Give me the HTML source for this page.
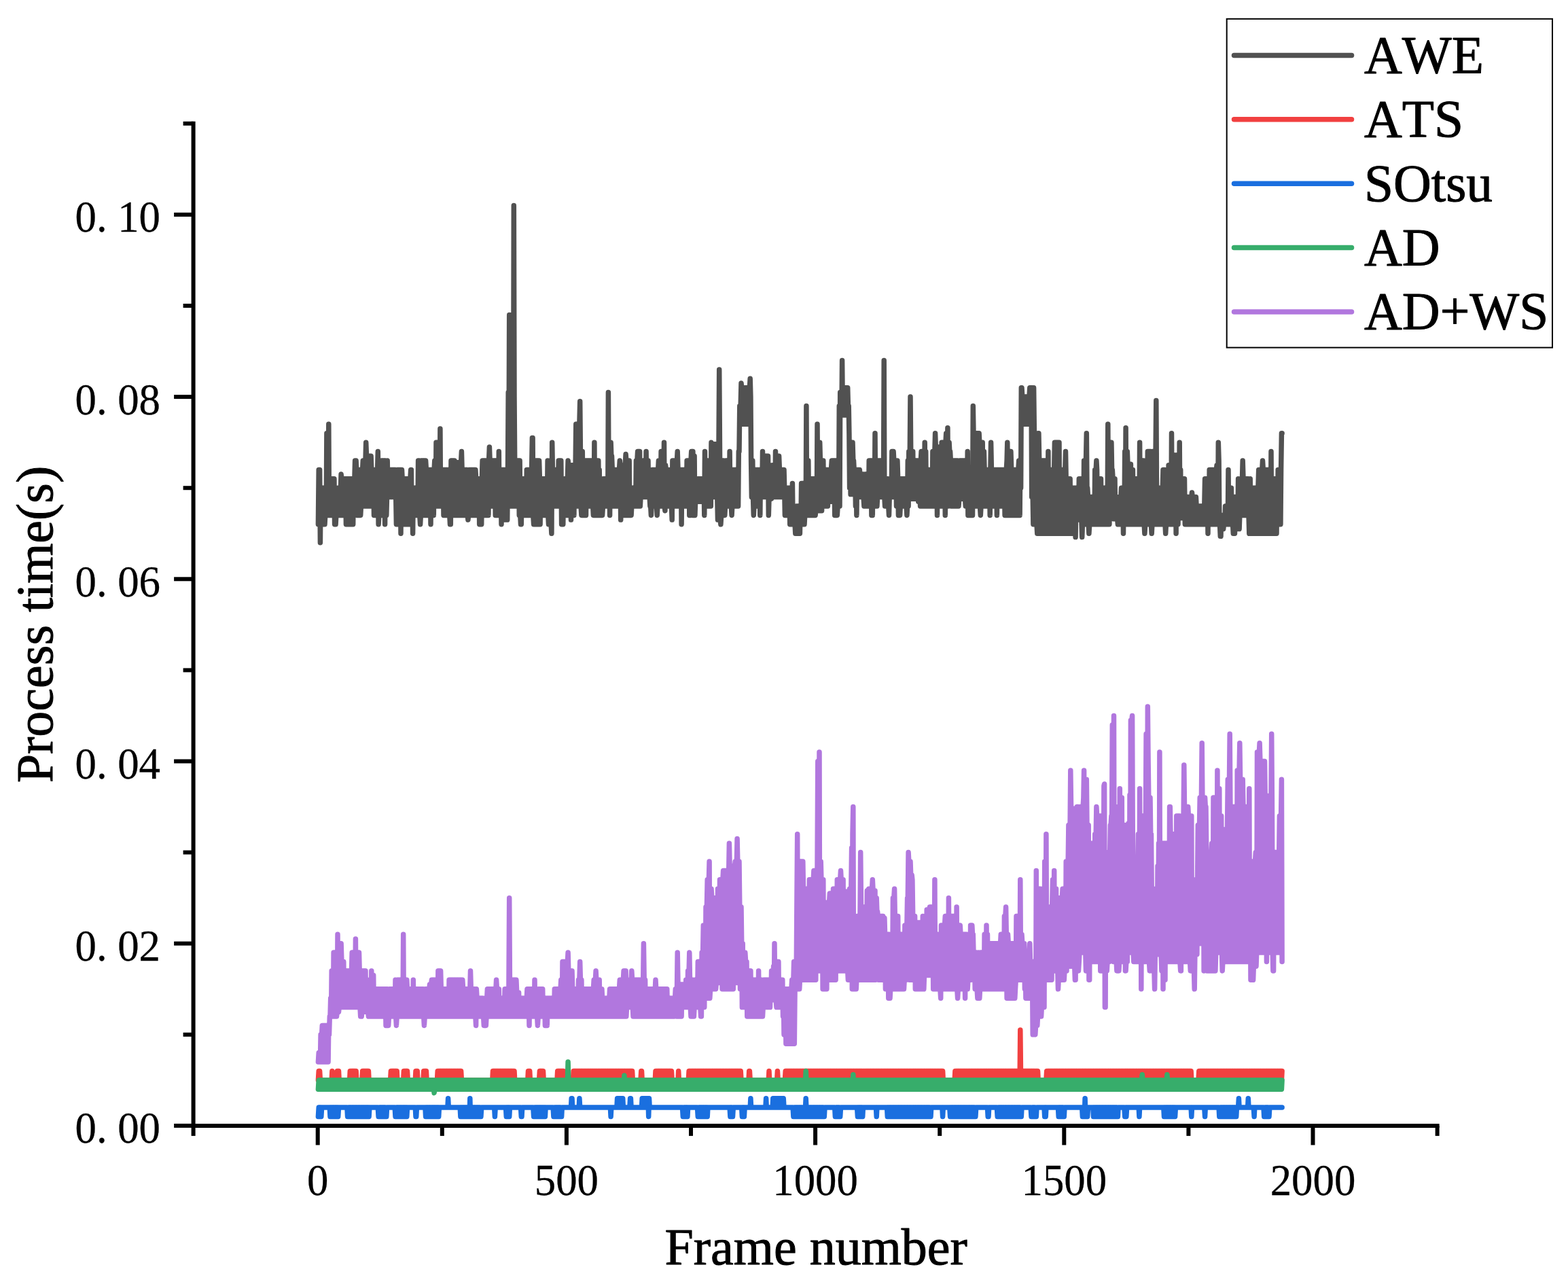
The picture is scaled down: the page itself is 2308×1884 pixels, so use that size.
<!DOCTYPE html>
<html lang="en"><head><meta charset="utf-8"><title>Process time per frame</title>
<style>
html,body{margin:0;padding:0;background:#fff;}
body{width:2308px;height:1884px;overflow:hidden;}
svg{display:block;}
text{font-family:"Liberation Serif","Times New Roman",serif;fill:#000;font-kerning:none;}
.tk{font-size:65px;stroke:#000;stroke-width:0.3px;}
.ti{font-size:76px;stroke:#000;stroke-width:1px;stroke-linejoin:round;}
.lg{font-size:77.3px;stroke:#000;stroke-width:1px;stroke-linejoin:round;}
</style></head><body>
<svg width="2308" height="1884" viewBox="0 0 2308 1884">
<rect width="2308" height="1884" fill="#fff"/>
<g id="series">
<polyline fill="none" stroke="#515151" stroke-width="7.5" stroke-linejoin="round" stroke-linecap="round" points="468.4,771.8 469.2,691.4 469.9,771.8 470.6,691.4 471.4,798.7 472.1,718.2 472.8,771.8 473.6,718.2 474.3,771.8 475.0,718.2 475.8,771.8 476.5,718.2 477.2,771.8 478.0,771.8 478.7,758.4 479.4,718.2 480.2,758.4 480.9,637.7 481.6,758.4 482.3,637.7 483.1,758.4 483.8,624.3 484.5,758.4 485.3,704.8 486.0,758.4 486.7,704.8 487.5,758.4 488.2,704.8 488.9,758.4 489.7,704.8 490.4,758.4 491.1,704.8 491.9,704.8 492.6,771.8 493.3,771.8 494.1,771.8 494.8,758.4 495.5,718.2 496.3,758.4 497.0,718.2 497.7,758.4 498.5,718.2 499.2,758.4 499.9,718.2 500.7,758.4 501.4,718.2 502.1,698.1 502.9,704.8 503.6,758.4 504.3,704.8 505.1,758.4 505.8,704.8 506.5,758.4 507.2,704.8 508.0,758.4 508.7,704.8 509.4,771.8 510.2,704.8 510.9,771.8 511.6,704.8 512.4,771.8 513.1,704.8 513.8,771.8 514.6,704.8 515.3,771.8 516.0,704.8 516.8,771.8 517.5,704.8 518.2,771.8 519.0,704.8 519.7,771.8 520.4,704.8 521.2,758.4 521.9,704.8 522.6,678.0 523.4,678.0 524.1,678.0 524.8,691.4 525.6,758.4 526.3,691.4 527.0,758.4 527.8,691.4 528.5,758.4 529.2,691.4 530.0,758.4 530.7,758.4 531.4,745.0 532.2,691.4 532.9,745.0 533.6,691.4 534.3,678.0 535.1,678.0 535.8,745.0 536.5,678.0 537.3,745.0 538.0,678.0 538.7,651.2 539.5,671.3 540.2,745.0 540.9,671.3 541.7,745.0 542.4,671.3 543.1,745.0 543.9,671.3 544.6,745.0 545.3,671.3 546.1,671.3 546.8,691.4 547.5,745.0 548.3,691.4 549.0,745.0 549.7,691.4 550.5,758.4 551.2,691.4 551.9,758.4 552.7,691.4 553.4,758.4 554.1,691.4 554.9,758.4 555.6,691.4 556.3,664.6 557.1,771.8 557.8,758.4 558.5,678.0 559.2,758.4 560.0,678.0 560.7,758.4 561.4,678.0 562.2,758.4 562.9,678.0 563.6,758.4 564.4,678.0 565.1,758.4 565.8,678.0 566.6,771.8 567.3,678.0 568.0,758.4 568.8,758.4 569.5,731.6 570.2,678.0 571.0,731.6 571.7,691.4 572.4,731.6 573.2,691.4 573.9,731.6 574.6,691.4 575.4,731.6 576.1,691.4 576.8,731.6 577.6,691.4 578.3,731.6 579.0,691.4 579.8,731.6 580.5,691.4 581.2,731.6 582.0,691.4 582.7,731.6 583.4,771.8 584.2,771.8 584.9,691.4 585.6,771.8 586.3,691.4 587.1,771.8 587.8,691.4 588.5,771.8 589.3,691.4 590.0,785.3 590.7,691.4 591.5,691.4 592.2,704.8 592.9,771.8 593.7,704.8 594.4,771.8 595.1,704.8 595.9,771.8 596.6,704.8 597.3,771.8 598.1,704.8 598.8,771.8 599.5,704.8 600.3,771.8 601.0,704.8 601.7,771.8 602.5,704.8 603.2,771.8 603.9,704.8 604.7,691.4 605.4,691.4 606.1,771.8 606.9,718.2 607.6,785.3 608.3,718.2 609.1,758.4 609.8,718.2 610.5,758.4 611.3,718.2 612.0,758.4 612.7,718.2 613.4,758.4 614.2,718.2 614.9,758.4 615.6,678.0 616.4,758.4 617.1,678.0 617.8,758.4 618.6,771.8 619.3,758.4 620.0,678.0 620.8,758.4 621.5,678.0 622.2,758.4 623.0,678.0 623.7,758.4 624.4,678.0 625.2,758.4 625.9,678.0 626.6,678.0 627.4,691.4 628.1,758.4 628.8,691.4 629.6,758.4 630.3,691.4 631.0,758.4 631.8,691.4 632.5,758.4 633.2,691.4 634.0,771.8 634.7,691.4 635.4,758.4 636.2,691.4 636.9,758.4 637.6,691.4 638.3,758.4 639.1,691.4 639.8,678.0 640.5,678.0 641.3,745.0 642.0,651.2 642.7,745.0 643.5,651.2 644.2,745.0 644.9,651.2 645.7,745.0 646.4,651.2 647.1,745.0 647.9,631.0 648.6,745.0 649.3,691.4 650.1,745.0 650.8,691.4 651.5,745.0 652.3,691.4 653.0,758.4 653.7,691.4 654.5,758.4 655.2,691.4 655.9,758.4 656.7,691.4 657.4,758.4 658.1,691.4 658.9,758.4 659.6,691.4 660.3,758.4 661.1,691.4 661.8,758.4 662.5,771.8 663.3,771.8 664.0,678.0 664.7,758.4 665.4,678.0 666.2,758.4 666.9,678.0 667.6,758.4 668.4,678.0 669.1,678.0 669.8,680.7 670.6,758.4 671.3,680.7 672.0,758.4 672.8,680.7 673.5,758.4 674.2,680.7 675.0,758.4 675.7,680.7 676.4,758.4 677.2,680.7 677.9,758.4 678.6,680.7 679.4,664.6 680.1,691.4 680.8,758.4 681.6,691.4 682.3,758.4 683.0,691.4 683.8,758.4 684.5,691.4 685.2,758.4 686.0,691.4 686.7,758.4 687.4,691.4 688.2,758.4 688.9,765.1 689.6,758.4 690.3,691.4 691.1,758.4 691.8,691.4 692.5,758.4 693.3,691.4 694.0,758.4 694.7,691.4 695.5,758.4 696.2,691.4 696.9,758.4 697.7,691.4 698.4,758.4 699.1,691.4 699.9,691.4 700.6,704.8 701.3,758.4 702.1,704.8 702.8,758.4 703.5,704.8 704.3,758.4 705.0,704.8 705.7,771.8 706.5,704.8 707.2,771.8 707.9,704.8 708.7,771.8 709.4,704.8 710.1,678.0 710.9,678.0 711.6,758.4 712.3,678.0 713.1,758.4 713.8,678.0 714.5,758.4 715.3,678.0 716.0,758.4 716.7,678.0 717.4,758.4 718.2,678.0 718.9,758.4 719.6,678.0 720.4,657.9 721.1,678.0 721.8,745.0 722.6,678.0 723.3,745.0 724.0,678.0 724.8,745.0 725.5,678.0 726.2,745.0 727.0,678.0 727.7,745.0 728.4,678.0 729.2,758.4 729.9,678.0 730.6,758.4 731.4,678.0 732.1,758.4 732.8,678.0 733.6,758.4 734.3,664.6 735.0,758.4 735.8,691.4 736.5,758.4 737.2,691.4 738.0,771.8 738.7,691.4 739.4,765.1 740.2,691.4 740.9,765.1 741.6,691.4 742.3,765.1 743.1,691.4 743.8,765.1 744.5,691.4 745.3,765.1 746.0,691.4 746.7,765.1 747.5,691.4 748.2,577.4 748.9,691.4 749.7,463.4 750.4,584.1 751.1,745.0 751.9,584.1 752.6,463.4 753.3,584.1 754.1,745.0 754.8,584.1 755.5,745.0 756.3,302.5 757.0,584.1 757.7,678.0 758.5,745.0 759.2,678.0 759.9,745.0 760.7,678.0 761.4,745.0 762.1,678.0 762.9,745.0 763.6,678.0 764.3,758.4 765.1,678.0 765.8,758.4 766.5,771.8 767.3,771.8 768.0,704.8 768.7,758.4 769.4,704.8 770.2,758.4 770.9,704.8 771.6,758.4 772.4,704.8 773.1,758.4 773.8,704.8 774.6,758.4 775.3,691.4 776.0,758.4 776.8,691.4 777.5,758.4 778.2,691.4 779.0,758.4 779.7,691.4 780.4,758.4 781.2,691.4 781.9,758.4 782.6,691.4 783.4,644.4 784.1,644.4 784.8,758.4 785.6,771.8 786.3,771.8 787.0,678.0 787.8,771.8 788.5,678.0 789.2,771.8 790.0,678.0 790.7,771.8 791.4,678.0 792.2,771.8 792.9,678.0 793.6,678.0 794.4,704.8 795.1,771.8 795.8,704.8 796.5,758.4 797.3,704.8 798.0,758.4 798.7,704.8 799.5,758.4 800.2,704.8 800.9,758.4 801.7,704.8 802.4,758.4 803.1,704.8 803.9,758.4 804.6,704.8 805.3,758.4 806.1,678.0 806.8,758.4 807.5,771.8 808.3,771.8 809.0,678.0 809.7,771.8 810.5,678.0 811.2,771.8 811.9,785.3 812.7,651.2 813.4,691.4 814.1,745.0 814.9,691.4 815.6,745.0 816.3,691.4 817.1,745.0 817.8,691.4 818.5,745.0 819.3,691.4 820.0,745.0 820.7,691.4 821.4,745.0 822.2,678.0 822.9,745.0 823.6,678.0 824.4,745.0 825.1,678.0 825.8,678.0 826.6,771.8 827.3,771.8 828.0,704.8 828.8,771.8 829.5,704.8 830.2,758.4 831.0,704.8 831.7,758.4 832.4,704.8 833.2,758.4 833.9,704.8 834.6,758.4 835.4,704.8 836.1,678.0 836.8,684.7 837.6,758.4 838.3,684.7 839.0,758.4 839.8,684.7 840.5,765.1 841.2,684.7 842.0,758.4 842.7,684.7 843.4,758.4 844.2,684.7 844.9,758.4 845.6,684.7 846.4,745.0 847.1,684.7 847.8,624.3 848.5,624.3 849.3,745.0 850.0,624.3 850.7,745.0 851.5,624.3 852.2,745.0 852.9,624.3 853.7,590.8 854.4,664.6 855.1,745.0 855.9,758.4 856.6,758.4 857.3,664.6 858.1,758.4 858.8,678.0 859.5,758.4 860.3,678.0 861.0,758.4 861.7,678.0 862.5,758.4 863.2,678.0 863.9,745.0 864.7,678.0 865.4,745.0 866.1,678.0 866.9,745.0 867.6,678.0 868.3,745.0 869.1,678.0 869.8,745.0 870.5,678.0 871.3,745.0 872.0,678.0 872.7,745.0 873.4,758.4 874.2,758.4 874.9,651.2 875.6,758.4 876.4,678.0 877.1,758.4 877.8,678.0 878.6,758.4 879.3,678.0 880.0,758.4 880.8,678.0 881.5,758.4 882.2,691.4 883.0,758.4 883.7,704.8 884.4,758.4 885.2,704.8 885.9,758.4 886.6,758.4 887.4,745.0 888.1,704.8 888.8,745.0 889.6,704.8 890.3,745.0 891.0,704.8 891.8,745.0 892.5,704.8 893.2,745.0 894.0,704.8 894.7,745.0 895.4,577.4 896.2,745.0 896.9,651.2 897.6,758.4 898.4,651.2 899.1,651.2 899.8,671.3 900.5,671.3 901.3,691.4 902.0,745.0 902.7,691.4 903.5,745.0 904.2,691.4 904.9,745.0 905.7,691.4 906.4,745.0 907.1,691.4 907.9,745.0 908.6,691.4 909.3,745.0 910.1,691.4 910.8,745.0 911.5,691.4 912.3,678.0 913.0,684.7 913.7,765.1 914.5,684.7 915.2,758.4 915.9,684.7 916.7,758.4 917.4,684.7 918.1,758.4 918.9,684.7 919.6,758.4 920.3,684.7 921.1,668.6 921.8,678.0 922.5,758.4 923.3,678.0 924.0,758.4 924.7,678.0 925.4,758.4 926.2,678.0 926.9,758.4 927.6,718.2 928.4,758.4 929.1,758.4 929.8,745.0 930.6,718.2 931.3,745.0 932.0,718.2 932.8,745.0 933.5,718.2 934.2,745.0 935.0,718.2 935.7,745.0 936.4,678.0 937.2,745.0 937.9,678.0 938.6,664.6 939.4,664.6 940.1,745.0 940.8,664.6 941.6,664.6 942.3,745.0 943.0,731.6 943.8,678.0 944.5,731.6 945.2,678.0 946.0,731.6 946.7,678.0 947.4,731.6 948.2,678.0 948.9,731.6 949.6,678.0 950.4,731.6 951.1,664.6 951.8,731.6 952.5,678.0 953.3,731.6 954.0,678.0 954.7,731.6 955.5,691.4 956.2,731.6 956.9,745.0 957.7,745.0 958.4,758.4 959.1,745.0 959.9,691.4 960.6,745.0 961.3,691.4 962.1,745.0 962.8,691.4 963.5,745.0 964.3,691.4 965.0,745.0 965.7,691.4 966.5,745.0 967.2,758.4 967.9,745.0 968.7,691.4 969.4,678.0 970.1,678.0 970.9,745.0 971.6,678.0 972.3,745.0 973.1,664.6 973.8,745.0 974.5,664.6 975.3,745.0 976.0,664.6 976.7,745.0 977.5,651.2 978.2,745.0 978.9,751.7 979.6,684.7 980.4,691.4 981.1,745.0 981.8,691.4 982.6,745.0 983.3,691.4 984.0,745.0 984.8,691.4 985.5,745.0 986.2,691.4 987.0,745.0 987.7,691.4 988.4,745.0 989.2,765.1 989.9,678.0 990.6,678.0 991.4,745.0 992.1,678.0 992.8,745.0 993.6,678.0 994.3,745.0 995.0,678.0 995.8,745.0 996.5,678.0 997.2,664.6 998.0,691.4 998.7,745.0 999.4,691.4 1000.2,745.0 1000.9,691.4 1001.6,745.0 1002.4,691.4 1003.1,771.8 1003.8,691.4 1004.5,745.0 1005.3,691.4 1006.0,745.0 1006.7,691.4 1007.5,745.0 1008.2,691.4 1008.9,745.0 1009.7,691.4 1010.4,745.0 1011.1,678.0 1011.9,745.0 1012.6,678.0 1013.3,745.0 1014.1,678.0 1014.8,758.4 1015.5,678.0 1016.3,758.4 1017.0,678.0 1017.7,664.6 1018.5,664.6 1019.2,758.4 1019.9,664.6 1020.7,758.4 1021.4,671.3 1022.1,671.3 1022.9,758.4 1023.6,738.3 1024.3,704.8 1025.1,738.3 1025.8,704.8 1026.5,738.3 1027.3,704.8 1028.0,738.3 1028.7,704.8 1029.5,738.3 1030.2,704.8 1030.9,738.3 1031.6,704.8 1032.4,738.3 1033.1,704.8 1033.8,738.3 1034.6,704.8 1035.3,738.3 1036.0,704.8 1036.8,758.4 1037.5,664.6 1038.2,745.0 1039.0,678.0 1039.7,745.0 1040.4,678.0 1041.2,745.0 1041.9,678.0 1042.6,745.0 1043.4,678.0 1044.1,745.0 1044.8,678.0 1045.6,745.0 1046.3,745.0 1047.0,651.2 1047.8,653.8 1048.5,731.6 1049.2,653.8 1050.0,731.6 1050.7,653.8 1051.4,731.6 1052.2,653.8 1052.9,731.6 1053.6,653.8 1054.4,731.6 1055.1,653.8 1055.8,731.6 1056.5,765.1 1057.3,765.1 1058.0,653.8 1058.7,543.9 1059.5,664.6 1060.2,765.1 1060.9,771.8 1061.7,758.4 1062.4,678.0 1063.1,758.4 1063.9,678.0 1064.6,758.4 1065.3,678.0 1066.1,758.4 1066.8,758.4 1067.5,745.0 1068.3,678.0 1069.0,745.0 1069.7,678.0 1070.5,745.0 1071.2,678.0 1071.9,745.0 1072.7,678.0 1073.4,745.0 1074.1,664.6 1074.9,745.0 1075.6,691.4 1076.3,745.0 1077.1,758.4 1077.8,745.0 1078.5,691.4 1079.3,745.0 1080.0,691.4 1080.7,745.0 1081.5,691.4 1082.2,745.0 1082.9,691.4 1083.6,745.0 1084.4,691.4 1085.1,745.0 1085.8,691.4 1086.6,745.0 1087.3,664.6 1088.0,664.6 1088.8,597.5 1089.5,624.3 1090.2,597.5 1091.0,564.0 1091.7,570.7 1092.4,624.3 1093.2,570.7 1093.9,624.3 1094.6,570.7 1095.4,624.3 1096.1,570.7 1096.8,624.3 1097.6,570.7 1098.3,624.3 1099.0,570.7 1099.8,624.3 1100.5,570.7 1101.2,624.3 1102.0,570.7 1102.7,624.3 1103.4,570.7 1104.2,557.3 1104.9,584.1 1105.6,678.0 1106.4,731.6 1107.1,731.6 1107.8,678.0 1108.5,731.6 1109.3,758.4 1110.0,745.0 1110.7,691.4 1111.5,745.0 1112.2,691.4 1112.9,745.0 1113.7,691.4 1114.4,745.0 1115.1,691.4 1115.9,745.0 1116.6,691.4 1117.3,745.0 1118.1,691.4 1118.8,758.4 1119.5,691.4 1120.3,731.6 1121.0,691.4 1121.7,731.6 1122.5,664.6 1123.2,731.6 1123.9,671.3 1124.7,731.6 1125.4,671.3 1126.1,731.6 1126.9,671.3 1127.6,731.6 1128.3,671.3 1129.1,731.6 1129.8,671.3 1130.5,671.3 1131.3,758.4 1132.0,734.3 1132.7,684.7 1133.5,734.3 1134.2,684.7 1134.9,734.3 1135.6,734.3 1136.4,731.6 1137.1,684.7 1137.8,731.6 1138.6,684.7 1139.3,731.6 1140.0,684.7 1140.8,731.6 1141.5,664.6 1142.2,731.6 1143.0,671.3 1143.7,731.6 1144.4,671.3 1145.2,731.6 1145.9,671.3 1146.6,671.3 1147.4,691.4 1148.1,731.6 1148.8,691.4 1149.6,731.6 1150.3,691.4 1151.0,731.6 1151.8,691.4 1152.5,731.6 1153.2,691.4 1154.0,691.4 1154.7,718.2 1155.4,758.4 1156.2,718.2 1156.9,758.4 1157.6,718.2 1158.4,758.4 1159.1,718.2 1159.8,758.4 1160.6,718.2 1161.3,758.4 1162.0,718.2 1162.7,771.8 1163.5,718.2 1164.2,771.8 1164.9,718.2 1165.7,771.8 1166.4,711.5 1167.1,771.8 1167.9,745.0 1168.6,771.8 1169.3,745.0 1170.1,771.8 1170.8,785.3 1171.5,785.3 1172.3,745.0 1173.0,785.3 1173.7,745.0 1174.5,785.3 1175.2,745.0 1175.9,785.3 1176.7,745.0 1177.4,785.3 1178.1,745.0 1178.9,771.8 1179.6,711.5 1180.3,771.8 1181.1,711.5 1181.8,771.8 1182.5,711.5 1183.3,771.8 1184.0,771.8 1184.7,758.4 1185.5,711.5 1186.2,758.4 1186.9,597.5 1187.6,758.4 1188.4,678.0 1189.1,758.4 1189.8,678.0 1190.6,758.4 1191.3,704.8 1192.0,758.4 1192.8,704.8 1193.5,758.4 1194.2,704.8 1195.0,758.4 1195.7,704.8 1196.4,758.4 1197.2,704.8 1197.9,758.4 1198.6,704.8 1199.4,758.4 1200.1,758.4 1200.8,751.7 1201.6,704.8 1202.3,751.7 1203.0,624.3 1203.8,751.7 1204.5,651.2 1205.2,751.7 1206.0,651.2 1206.7,651.2 1207.4,678.0 1208.2,751.7 1208.9,678.0 1209.6,751.7 1210.4,678.0 1211.1,745.0 1211.8,678.0 1212.6,745.0 1213.3,691.4 1214.0,745.0 1214.7,691.4 1215.5,745.0 1216.2,691.4 1216.9,745.0 1217.7,691.4 1218.4,745.0 1219.1,691.4 1219.9,738.3 1220.6,691.4 1221.3,738.3 1222.1,691.4 1222.8,738.3 1223.5,691.4 1224.3,678.0 1225.0,678.0 1225.7,738.3 1226.5,678.0 1227.2,738.3 1227.9,678.0 1228.7,758.4 1229.4,678.0 1230.1,758.4 1230.9,678.0 1231.6,758.4 1232.3,758.4 1233.1,745.0 1233.8,678.0 1234.5,745.0 1235.3,597.5 1236.0,745.0 1236.7,577.4 1237.5,610.9 1238.2,577.4 1238.9,610.9 1239.6,530.5 1240.4,610.9 1241.1,570.7 1241.8,610.9 1242.6,570.7 1243.3,610.9 1244.0,570.7 1244.8,610.9 1245.5,570.7 1246.2,610.9 1247.0,570.7 1247.7,570.7 1248.4,597.5 1249.2,597.5 1249.9,637.7 1250.6,718.2 1251.4,651.2 1252.1,727.6 1252.8,651.2 1253.6,727.6 1254.3,651.2 1255.0,651.2 1255.8,678.0 1256.5,678.0 1257.2,691.4 1258.0,727.6 1258.7,691.4 1259.4,745.0 1260.2,691.4 1260.9,758.4 1261.6,691.4 1262.4,731.6 1263.1,691.4 1263.8,731.6 1264.6,691.4 1265.3,691.4 1266.0,698.1 1266.7,731.6 1267.5,698.1 1268.2,731.6 1268.9,698.1 1269.7,731.6 1270.4,698.1 1271.1,731.6 1271.9,745.0 1272.6,745.0 1273.3,698.1 1274.1,745.0 1274.8,698.1 1275.5,745.0 1276.3,698.1 1277.0,745.0 1277.7,698.1 1278.5,745.0 1279.2,678.0 1279.9,745.0 1280.7,678.0 1281.4,745.0 1282.1,678.0 1282.9,758.4 1283.6,678.0 1284.3,758.4 1285.1,678.0 1285.8,745.0 1286.5,678.0 1287.3,745.0 1288.0,637.7 1288.7,745.0 1289.5,678.0 1290.2,745.0 1290.9,745.0 1291.6,731.6 1292.4,678.0 1293.1,731.6 1293.8,678.0 1294.6,731.6 1295.3,678.0 1296.0,731.6 1296.8,678.0 1297.5,731.6 1298.2,678.0 1299.0,731.6 1299.7,678.0 1300.4,731.6 1301.2,530.5 1301.9,731.6 1302.6,745.0 1303.4,745.0 1304.1,704.8 1304.8,745.0 1305.6,704.8 1306.3,745.0 1307.0,704.8 1307.8,745.0 1308.5,758.4 1309.2,731.6 1310.0,704.8 1310.7,731.6 1311.4,704.8 1312.2,731.6 1312.9,664.6 1313.6,731.6 1314.4,664.6 1315.1,664.6 1315.8,678.0 1316.6,731.6 1317.3,678.0 1318.0,731.6 1318.7,678.0 1319.5,745.0 1320.2,678.0 1320.9,678.0 1321.7,704.8 1322.4,758.4 1323.1,704.8 1323.9,758.4 1324.6,758.4 1325.3,745.0 1326.1,704.8 1326.8,745.0 1327.5,704.8 1328.3,745.0 1329.0,704.8 1329.7,745.0 1330.5,704.8 1331.2,745.0 1331.9,704.8 1332.7,745.0 1333.4,704.8 1334.1,745.0 1334.9,758.4 1335.6,745.0 1336.3,678.0 1337.1,745.0 1337.8,664.6 1338.5,734.3 1339.3,664.6 1340.0,584.1 1340.7,664.6 1341.5,734.3 1342.2,664.6 1342.9,734.3 1343.7,664.6 1344.4,734.3 1345.1,678.0 1345.8,734.3 1346.6,678.0 1347.3,734.3 1348.0,678.0 1348.8,734.3 1349.5,678.0 1350.2,734.3 1351.0,678.0 1351.7,738.3 1352.4,678.0 1353.2,738.3 1353.9,678.0 1354.6,745.0 1355.4,678.0 1356.1,664.6 1356.8,664.6 1357.6,745.0 1358.3,664.6 1359.0,745.0 1359.8,664.6 1360.5,745.0 1361.2,651.2 1362.0,745.0 1362.7,664.6 1363.4,745.0 1364.2,691.4 1364.9,745.0 1365.6,691.4 1366.4,745.0 1367.1,691.4 1367.8,745.0 1368.6,691.4 1369.3,745.0 1370.0,691.4 1370.7,745.0 1371.5,691.4 1372.2,745.0 1372.9,664.6 1373.7,745.0 1374.4,664.6 1375.1,745.0 1375.9,664.6 1376.6,637.7 1377.3,657.9 1378.1,745.0 1378.8,657.9 1379.5,758.4 1380.3,657.9 1381.0,745.0 1381.7,657.9 1382.5,745.0 1383.2,657.9 1383.9,745.0 1384.7,657.9 1385.4,745.0 1386.1,651.2 1386.9,745.0 1387.6,651.2 1388.3,745.0 1389.1,651.2 1389.8,745.0 1390.5,651.2 1391.3,758.4 1392.0,651.2 1392.7,637.7 1393.5,637.7 1394.2,745.0 1394.9,629.7 1395.7,745.0 1396.4,651.2 1397.1,651.2 1397.8,664.6 1398.6,664.6 1399.3,678.0 1400.0,745.0 1400.8,678.0 1401.5,745.0 1402.2,678.0 1403.0,745.0 1403.7,678.0 1404.4,745.0 1405.2,678.0 1405.9,745.0 1406.6,678.0 1407.4,745.0 1408.1,678.0 1408.8,745.0 1409.6,678.0 1410.3,745.0 1411.0,745.0 1411.8,734.3 1412.5,678.0 1413.2,734.3 1414.0,678.0 1414.7,734.3 1415.4,678.0 1416.2,734.3 1416.9,678.0 1417.6,734.3 1418.4,678.0 1419.1,734.3 1419.8,678.0 1420.6,734.3 1421.3,745.0 1422.0,745.0 1422.7,678.0 1423.5,745.0 1424.2,664.6 1424.9,758.4 1425.7,718.2 1426.4,758.4 1427.1,718.2 1427.9,758.4 1428.6,718.2 1429.3,758.4 1430.1,718.2 1430.8,758.4 1431.5,758.4 1432.3,597.5 1433.0,637.7 1433.7,745.0 1434.5,637.7 1435.2,745.0 1435.9,637.7 1436.7,745.0 1437.4,637.7 1438.1,745.0 1438.9,637.7 1439.6,745.0 1440.3,637.7 1441.1,637.7 1441.8,651.2 1442.5,745.0 1443.3,758.4 1444.0,745.0 1444.7,651.2 1445.5,745.0 1446.2,651.2 1446.9,745.0 1447.7,664.6 1448.4,664.6 1449.1,691.4 1449.8,745.0 1450.6,691.4 1451.3,745.0 1452.0,691.4 1452.8,745.0 1453.5,691.4 1454.2,745.0 1455.0,691.4 1455.7,745.0 1456.4,691.4 1457.2,758.4 1457.9,691.4 1458.6,651.2 1459.4,691.4 1460.1,745.0 1460.8,691.4 1461.6,745.0 1462.3,691.4 1463.0,745.0 1463.8,691.4 1464.5,745.0 1465.2,691.4 1466.0,745.0 1466.7,691.4 1467.4,758.4 1468.2,691.4 1468.9,745.0 1469.6,691.4 1470.4,745.0 1471.1,691.4 1471.8,745.0 1472.6,691.4 1473.3,745.0 1474.0,691.4 1474.8,745.0 1475.5,691.4 1476.2,745.0 1476.9,691.4 1477.7,745.0 1478.4,691.4 1479.1,758.4 1479.9,691.4 1480.6,758.4 1481.3,691.4 1482.1,678.0 1482.8,651.2 1483.5,758.4 1484.3,664.6 1485.0,758.4 1485.7,664.6 1486.5,758.4 1487.2,664.6 1487.9,664.6 1488.7,691.4 1489.4,758.4 1490.1,691.4 1490.9,758.4 1491.6,691.4 1492.3,758.4 1493.1,691.4 1493.8,758.4 1494.5,691.4 1495.3,758.4 1496.0,691.4 1496.7,758.4 1497.5,691.4 1498.2,758.4 1498.9,691.4 1499.7,678.0 1500.4,678.0 1501.1,758.4 1501.8,678.0 1502.6,718.2 1503.3,570.7 1504.0,570.7 1504.8,584.1 1505.5,624.3 1506.2,584.1 1507.0,624.3 1507.7,584.1 1508.4,624.3 1509.2,584.1 1509.9,624.3 1510.6,584.1 1511.4,624.3 1512.1,584.1 1512.8,624.3 1513.6,584.1 1514.3,624.3 1515.0,584.1 1515.8,570.7 1516.5,570.7 1517.2,624.3 1518.0,570.7 1518.7,731.6 1519.4,570.7 1520.2,731.6 1520.9,771.8 1521.6,570.7 1522.4,637.7 1523.1,771.8 1523.8,637.7 1524.6,771.8 1525.3,637.7 1526.0,771.8 1526.8,785.3 1527.5,785.3 1528.2,637.7 1528.9,637.7 1529.7,678.0 1530.4,785.3 1531.1,678.0 1531.9,785.3 1532.6,678.0 1533.3,785.3 1534.1,678.0 1534.8,785.3 1535.5,678.0 1536.3,785.3 1537.0,678.0 1537.7,785.3 1538.5,678.0 1539.2,785.3 1539.9,678.0 1540.7,785.3 1541.4,678.0 1542.1,785.3 1542.9,664.6 1543.6,785.3 1544.3,691.4 1545.1,785.3 1545.8,691.4 1546.5,785.3 1547.3,691.4 1548.0,785.3 1548.7,691.4 1549.5,785.3 1550.2,691.4 1550.9,785.3 1551.7,691.4 1552.4,651.2 1553.1,651.2 1553.8,785.3 1554.6,651.2 1555.3,785.3 1556.0,651.2 1556.8,785.3 1557.5,651.2 1558.2,785.3 1559.0,651.2 1559.7,785.3 1560.4,691.4 1561.2,785.3 1561.9,691.4 1562.6,785.3 1563.4,691.4 1564.1,785.3 1564.8,691.4 1565.6,785.3 1566.3,691.4 1567.0,785.3 1567.8,691.4 1568.5,664.6 1569.2,704.8 1570.0,785.3 1570.7,704.8 1571.4,785.3 1572.2,704.8 1572.9,785.3 1573.6,704.8 1574.4,785.3 1575.1,704.8 1575.8,785.3 1576.6,718.2 1577.3,785.3 1578.0,718.2 1578.8,785.3 1579.5,718.2 1580.2,785.3 1580.9,718.2 1581.7,785.3 1582.4,718.2 1583.1,790.6 1583.9,718.2 1584.6,765.1 1585.3,718.2 1586.1,765.1 1586.8,718.2 1587.5,765.1 1588.3,704.8 1589.0,765.1 1589.7,704.8 1590.5,765.1 1591.2,704.8 1591.9,765.1 1592.7,790.6 1593.4,771.8 1594.1,704.8 1594.9,771.8 1595.6,678.0 1596.3,771.8 1597.1,678.0 1597.8,771.8 1598.5,678.0 1599.3,637.7 1600.0,718.2 1600.7,718.2 1601.5,731.6 1602.2,771.8 1602.9,785.3 1603.7,771.8 1604.4,731.6 1605.1,771.8 1605.8,731.6 1606.6,771.8 1607.3,731.6 1608.0,771.8 1608.8,731.6 1609.5,771.8 1610.2,731.6 1611.0,771.8 1611.7,691.4 1612.4,771.8 1613.2,691.4 1613.9,678.0 1614.6,691.4 1615.4,771.8 1616.1,704.8 1616.8,771.8 1617.6,704.8 1618.3,771.8 1619.0,704.8 1619.8,771.8 1620.5,704.8 1621.2,771.8 1622.0,718.2 1622.7,771.8 1623.4,718.2 1624.2,771.8 1624.9,718.2 1625.6,771.8 1626.4,718.2 1627.1,771.8 1627.8,718.2 1628.6,771.8 1629.3,718.2 1630.0,771.8 1630.8,624.3 1631.5,771.8 1632.2,651.2 1632.9,771.8 1633.7,651.2 1634.4,763.8 1635.1,651.2 1635.9,651.2 1636.6,691.4 1637.3,691.4 1638.1,704.8 1638.8,763.8 1639.5,704.8 1640.3,763.8 1641.0,704.8 1641.7,763.8 1642.5,731.6 1643.2,763.8 1643.9,731.6 1644.7,763.8 1645.4,771.8 1646.1,771.8 1646.9,731.6 1647.6,771.8 1648.3,731.6 1649.1,771.8 1649.8,731.6 1650.5,718.2 1651.3,718.2 1652.0,771.8 1652.7,718.2 1653.5,785.3 1654.2,718.2 1654.9,771.8 1655.7,664.6 1656.4,771.8 1657.1,629.7 1657.8,771.8 1658.6,664.6 1659.3,664.6 1660.0,683.3 1660.8,771.8 1661.5,683.3 1662.2,771.8 1663.0,683.3 1663.7,771.8 1664.4,683.3 1665.2,771.8 1665.9,691.4 1666.6,771.8 1667.4,691.4 1668.1,771.8 1668.8,704.8 1669.6,771.8 1670.3,704.8 1671.0,771.8 1671.8,704.8 1672.5,771.8 1673.2,704.8 1674.0,771.8 1674.7,704.8 1675.4,771.8 1676.2,704.8 1676.9,771.8 1677.6,651.2 1678.4,771.8 1679.1,678.0 1679.8,771.8 1680.6,678.0 1681.3,771.8 1682.0,678.0 1682.8,771.8 1683.5,678.0 1684.2,771.8 1684.9,785.3 1685.7,771.8 1686.4,678.0 1687.1,771.8 1687.9,678.0 1688.6,771.8 1689.3,664.6 1690.1,771.8 1690.8,664.6 1691.5,771.8 1692.3,664.6 1693.0,771.8 1693.7,664.6 1694.5,771.8 1695.2,785.3 1695.9,771.8 1696.7,664.6 1697.4,771.8 1698.1,664.6 1698.9,771.8 1699.6,664.6 1700.3,771.8 1701.1,664.6 1701.8,589.5 1702.5,718.2 1703.3,771.8 1704.0,718.2 1704.7,771.8 1705.5,718.2 1706.2,771.8 1706.9,718.2 1707.7,771.8 1708.4,718.2 1709.1,771.8 1709.9,718.2 1710.6,771.8 1711.3,718.2 1712.0,691.4 1712.8,691.4 1713.5,771.8 1714.2,691.4 1715.0,771.8 1715.7,785.3 1716.4,771.8 1717.2,691.4 1717.9,771.8 1718.6,691.4 1719.4,771.8 1720.1,684.7 1720.8,771.8 1721.6,684.7 1722.3,771.8 1723.0,684.7 1723.8,771.8 1724.5,637.7 1725.2,771.8 1726.0,669.9 1726.7,771.8 1727.4,669.9 1728.2,771.8 1728.9,669.9 1729.6,771.8 1730.4,669.9 1731.1,785.3 1731.8,669.9 1732.6,771.8 1733.3,669.9 1734.0,771.8 1734.8,669.9 1735.5,762.5 1736.2,651.2 1736.9,762.5 1737.7,691.4 1738.4,762.5 1739.1,704.8 1739.9,762.5 1740.6,704.8 1741.3,762.5 1742.1,704.8 1742.8,762.5 1743.5,704.8 1744.3,771.8 1745.0,731.6 1745.7,771.8 1746.5,731.6 1747.2,771.8 1747.9,731.6 1748.7,771.8 1749.4,731.6 1750.1,771.8 1750.9,731.6 1751.6,771.8 1752.3,731.6 1753.1,771.8 1753.8,731.6 1754.5,724.9 1755.3,731.6 1756.0,771.8 1756.7,731.6 1757.5,771.8 1758.2,731.6 1758.9,771.8 1759.7,731.6 1760.4,731.6 1761.1,745.0 1761.9,771.8 1762.6,745.0 1763.3,771.8 1764.0,745.0 1764.8,771.8 1765.5,745.0 1766.2,771.8 1767.0,745.0 1767.7,771.8 1768.4,745.0 1769.2,771.8 1769.9,745.0 1770.6,771.8 1771.4,745.0 1772.1,771.8 1772.8,745.0 1773.6,704.8 1774.3,704.8 1775.0,771.8 1775.8,704.8 1776.5,771.8 1777.2,704.8 1778.0,785.3 1778.7,704.8 1779.4,771.8 1780.2,691.4 1780.9,771.8 1781.6,691.4 1782.4,771.8 1783.1,691.4 1783.8,771.8 1784.6,691.4 1785.3,771.8 1786.0,691.4 1786.8,771.8 1787.5,691.4 1788.2,771.8 1788.9,691.4 1789.7,771.8 1790.4,691.4 1791.1,684.7 1791.9,684.7 1792.6,771.8 1793.3,651.2 1794.1,678.0 1794.8,758.4 1795.5,771.8 1796.3,789.3 1797.0,789.3 1797.7,758.4 1798.5,778.5 1799.2,758.4 1799.9,778.5 1800.7,778.5 1801.4,771.8 1802.1,758.4 1802.9,771.8 1803.6,745.0 1804.3,771.8 1805.1,745.0 1805.8,771.8 1806.5,745.0 1807.3,771.8 1808.0,691.4 1808.7,771.8 1809.5,718.2 1810.2,771.8 1810.9,718.2 1811.7,771.8 1812.4,718.2 1813.1,771.8 1813.9,731.6 1814.6,771.8 1815.3,785.3 1816.0,785.3 1816.8,731.6 1817.5,785.3 1818.2,731.6 1819.0,778.5 1819.7,731.6 1820.4,778.5 1821.2,731.6 1821.9,778.5 1822.6,704.8 1823.4,778.5 1824.1,778.5 1824.8,758.4 1825.6,704.8 1826.3,758.4 1827.0,704.8 1827.8,758.4 1828.5,704.8 1829.2,678.0 1830.0,704.8 1830.7,758.4 1831.4,704.8 1832.2,758.4 1832.9,704.8 1833.6,758.4 1834.4,704.8 1835.1,758.4 1835.8,704.8 1836.6,758.4 1837.3,704.8 1838.0,758.4 1838.8,785.3 1839.5,785.3 1840.2,704.8 1841.0,785.3 1841.7,718.2 1842.4,785.3 1843.1,718.2 1843.9,785.3 1844.6,718.2 1845.3,785.3 1846.1,718.2 1846.8,785.3 1847.5,718.2 1848.3,785.3 1849.0,718.2 1849.7,785.3 1850.5,718.2 1851.2,785.3 1851.9,718.2 1852.7,691.4 1853.4,691.4 1854.1,785.3 1854.9,691.4 1855.6,785.3 1856.3,691.4 1857.1,785.3 1857.8,691.4 1858.5,678.0 1859.3,691.4 1860.0,785.3 1860.7,691.4 1861.5,785.3 1862.2,691.4 1862.9,785.3 1863.7,691.4 1864.4,785.3 1865.1,691.4 1865.9,785.3 1866.6,691.4 1867.3,785.3 1868.0,691.4 1868.8,785.3 1869.5,691.4 1870.2,785.3 1871.0,664.6 1871.7,785.3 1872.4,704.8 1873.2,785.3 1873.9,704.8 1874.6,785.3 1875.4,704.8 1876.1,785.3 1876.8,704.8 1877.6,785.3 1878.3,704.8 1879.0,785.3 1879.8,704.8 1880.5,771.8 1881.2,691.4 1882.0,771.8 1882.7,691.4 1883.4,771.8 1884.2,691.4 1884.9,771.8 1885.6,691.4 1886.4,637.7 1887.1,637.7"/>
<polyline fill="none" stroke="#F14040" stroke-width="7.5" stroke-linejoin="round" stroke-linecap="round" points="468.4,1589.9 469.2,1576.4 469.9,1589.9 470.6,1576.4 471.4,1589.9 472.1,1589.9 472.8,1589.9 473.6,1589.9 474.3,1589.9 475.0,1589.9 475.8,1589.9 476.5,1589.9 477.2,1589.9 478.0,1589.9 478.7,1589.9 479.4,1589.9 480.2,1589.9 480.9,1589.9 481.6,1589.9 482.3,1589.9 483.1,1589.9 483.8,1589.9 484.5,1589.9 485.3,1589.9 486.0,1589.9 486.7,1589.9 487.5,1589.9 488.2,1589.9 488.9,1576.4 489.7,1589.9 490.4,1589.9 491.1,1589.9 491.9,1589.9 492.6,1589.9 493.3,1589.9 494.1,1589.9 494.8,1589.9 495.5,1589.9 496.3,1576.4 497.0,1576.4 497.7,1589.9 498.5,1576.4 499.2,1589.9 499.9,1589.9 500.7,1589.9 501.4,1589.9 502.1,1589.9 502.9,1589.9 503.6,1589.9 504.3,1589.9 505.1,1589.9 505.8,1589.9 506.5,1589.9 507.2,1589.9 508.0,1589.9 508.7,1589.9 509.4,1589.9 510.2,1589.9 510.9,1589.9 511.6,1589.9 512.4,1589.9 513.1,1589.9 513.8,1589.9 514.6,1589.9 515.3,1576.4 516.0,1576.4 516.8,1589.9 517.5,1576.4 518.2,1589.9 519.0,1576.4 519.7,1589.9 520.4,1576.4 521.2,1589.9 521.9,1576.4 522.6,1589.9 523.4,1576.4 524.1,1576.4 524.8,1589.9 525.6,1589.9 526.3,1589.9 527.0,1589.9 527.8,1589.9 528.5,1589.9 529.2,1589.9 530.0,1589.9 530.7,1589.9 531.4,1589.9 532.2,1589.9 532.9,1589.9 533.6,1576.4 534.3,1589.9 535.1,1576.4 535.8,1589.9 536.5,1576.4 537.3,1589.9 538.0,1576.4 538.7,1589.9 539.5,1576.4 540.2,1589.9 540.9,1576.4 541.7,1589.9 542.4,1576.4 543.1,1589.9 543.9,1589.9 544.6,1589.9 545.3,1589.9 546.1,1589.9 546.8,1589.9 547.5,1589.9 548.3,1589.9 549.0,1589.9 549.7,1589.9 550.5,1589.9 551.2,1589.9 551.9,1589.9 552.7,1589.9 553.4,1589.9 554.1,1589.9 554.9,1589.9 555.6,1589.9 556.3,1589.9 557.1,1589.9 557.8,1589.9 558.5,1589.9 559.2,1589.9 560.0,1589.9 560.7,1589.9 561.4,1589.9 562.2,1589.9 562.9,1589.9 563.6,1589.9 564.4,1589.9 565.1,1589.9 565.8,1589.9 566.6,1589.9 567.3,1589.9 568.0,1589.9 568.8,1589.9 569.5,1589.9 570.2,1589.9 571.0,1589.9 571.7,1589.9 572.4,1589.9 573.2,1589.9 573.9,1589.9 574.6,1589.9 575.4,1576.4 576.1,1576.4 576.8,1589.9 577.6,1576.4 578.3,1589.9 579.0,1576.4 579.8,1589.9 580.5,1576.4 581.2,1589.9 582.0,1576.4 582.7,1589.9 583.4,1576.4 584.2,1576.4 584.9,1589.9 585.6,1589.9 586.3,1589.9 587.1,1589.9 587.8,1589.9 588.5,1589.9 589.3,1589.9 590.0,1589.9 590.7,1589.9 591.5,1589.9 592.2,1589.9 592.9,1589.9 593.7,1589.9 594.4,1576.4 595.1,1576.4 595.9,1589.9 596.6,1576.4 597.3,1589.9 598.1,1576.4 598.8,1589.9 599.5,1576.4 600.3,1589.9 601.0,1589.9 601.7,1589.9 602.5,1589.9 603.2,1589.9 603.9,1589.9 604.7,1589.9 605.4,1589.9 606.1,1589.9 606.9,1589.9 607.6,1589.9 608.3,1589.9 609.1,1589.9 609.8,1589.9 610.5,1589.9 611.3,1589.9 612.0,1576.4 612.7,1576.4 613.4,1589.9 614.2,1576.4 614.9,1589.9 615.6,1589.9 616.4,1589.9 617.1,1589.9 617.8,1589.9 618.6,1589.9 619.3,1589.9 620.0,1589.9 620.8,1589.9 621.5,1589.9 622.2,1589.9 623.0,1589.9 623.7,1576.4 624.4,1576.4 625.2,1589.9 625.9,1576.4 626.6,1589.9 627.4,1576.4 628.1,1589.9 628.8,1589.9 629.6,1589.9 630.3,1589.9 631.0,1589.9 631.8,1589.9 632.5,1589.9 633.2,1589.9 634.0,1589.9 634.7,1589.9 635.4,1589.9 636.2,1589.9 636.9,1589.9 637.6,1589.9 638.3,1589.9 639.1,1589.9 639.8,1589.9 640.5,1589.9 641.3,1589.9 642.0,1589.9 642.7,1589.9 643.5,1589.9 644.2,1576.4 644.9,1576.4 645.7,1589.9 646.4,1576.4 647.1,1589.9 647.9,1576.4 648.6,1589.9 649.3,1576.4 650.1,1589.9 650.8,1576.4 651.5,1589.9 652.3,1576.4 653.0,1589.9 653.7,1576.4 654.5,1589.9 655.2,1576.4 655.9,1589.9 656.7,1576.4 657.4,1589.9 658.1,1576.4 658.9,1589.9 659.6,1576.4 660.3,1589.9 661.1,1576.4 661.8,1589.9 662.5,1576.4 663.3,1589.9 664.0,1576.4 664.7,1589.9 665.4,1576.4 666.2,1589.9 666.9,1576.4 667.6,1589.9 668.4,1576.4 669.1,1589.9 669.8,1576.4 670.6,1589.9 671.3,1576.4 672.0,1589.9 672.8,1576.4 673.5,1589.9 674.2,1576.4 675.0,1589.9 675.7,1576.4 676.4,1589.9 677.2,1576.4 677.9,1589.9 678.6,1576.4 679.4,1589.9 680.1,1589.9 680.8,1589.9 681.6,1589.9 682.3,1589.9 683.0,1589.9 683.8,1589.9 684.5,1589.9 685.2,1589.9 686.0,1589.9 686.7,1589.9 687.4,1589.9 688.2,1589.9 688.9,1589.9 689.6,1589.9 690.3,1589.9 691.1,1589.9 691.8,1589.9 692.5,1589.9 693.3,1589.9 694.0,1589.9 694.7,1589.9 695.5,1589.9 696.2,1589.9 696.9,1589.9 697.7,1589.9 698.4,1589.9 699.1,1589.9 699.9,1589.9 700.6,1589.9 701.3,1589.9 702.1,1589.9 702.8,1589.9 703.5,1589.9 704.3,1589.9 705.0,1589.9 705.7,1589.9 706.5,1589.9 707.2,1589.9 707.9,1589.9 708.7,1589.9 709.4,1589.9 710.1,1589.9 710.9,1589.9 711.6,1589.9 712.3,1589.9 713.1,1589.9 713.8,1589.9 714.5,1589.9 715.3,1589.9 716.0,1589.9 716.7,1589.9 717.4,1589.9 718.2,1589.9 718.9,1589.9 719.6,1589.9 720.4,1589.9 721.1,1589.9 721.8,1589.9 722.6,1589.9 723.3,1589.9 724.0,1589.9 724.8,1589.9 725.5,1576.4 726.2,1589.9 727.0,1576.4 727.7,1589.9 728.4,1576.4 729.2,1589.9 729.9,1576.4 730.6,1589.9 731.4,1576.4 732.1,1589.9 732.8,1576.4 733.6,1589.9 734.3,1576.4 735.0,1589.9 735.8,1576.4 736.5,1589.9 737.2,1576.4 738.0,1589.9 738.7,1576.4 739.4,1589.9 740.2,1576.4 740.9,1589.9 741.6,1576.4 742.3,1589.9 743.1,1576.4 743.8,1589.9 744.5,1576.4 745.3,1589.9 746.0,1576.4 746.7,1589.9 747.5,1576.4 748.2,1589.9 748.9,1576.4 749.7,1589.9 750.4,1576.4 751.1,1589.9 751.9,1576.4 752.6,1589.9 753.3,1576.4 754.1,1589.9 754.8,1576.4 755.5,1589.9 756.3,1576.4 757.0,1576.4 757.7,1589.9 758.5,1589.9 759.2,1589.9 759.9,1589.9 760.7,1589.9 761.4,1589.9 762.1,1589.9 762.9,1589.9 763.6,1589.9 764.3,1589.9 765.1,1589.9 765.8,1589.9 766.5,1589.9 767.3,1589.9 768.0,1589.9 768.7,1589.9 769.4,1589.9 770.2,1589.9 770.9,1589.9 771.6,1589.9 772.4,1589.9 773.1,1589.9 773.8,1589.9 774.6,1589.9 775.3,1589.9 776.0,1589.9 776.8,1589.9 777.5,1576.4 778.2,1576.4 779.0,1589.9 779.7,1576.4 780.4,1589.9 781.2,1589.9 781.9,1589.9 782.6,1589.9 783.4,1589.9 784.1,1589.9 784.8,1589.9 785.6,1589.9 786.3,1589.9 787.0,1589.9 787.8,1589.9 788.5,1589.9 789.2,1589.9 790.0,1589.9 790.7,1589.9 791.4,1589.9 792.2,1589.9 792.9,1589.9 793.6,1589.9 794.4,1576.4 795.1,1589.9 795.8,1576.4 796.5,1589.9 797.3,1576.4 798.0,1589.9 798.7,1576.4 799.5,1576.4 800.2,1589.9 800.9,1589.9 801.7,1589.9 802.4,1589.9 803.1,1589.9 803.9,1589.9 804.6,1589.9 805.3,1589.9 806.1,1589.9 806.8,1589.9 807.5,1589.9 808.3,1589.9 809.0,1589.9 809.7,1589.9 810.5,1589.9 811.2,1589.9 811.9,1589.9 812.7,1589.9 813.4,1589.9 814.1,1589.9 814.9,1589.9 815.6,1589.9 816.3,1589.9 817.1,1589.9 817.8,1589.9 818.5,1589.9 819.3,1589.9 820.0,1589.9 820.7,1576.4 821.4,1589.9 822.2,1576.4 822.9,1589.9 823.6,1576.4 824.4,1589.9 825.1,1576.4 825.8,1589.9 826.6,1576.4 827.3,1589.9 828.0,1576.4 828.8,1589.9 829.5,1576.4 830.2,1589.9 831.0,1589.9 831.7,1589.9 832.4,1589.9 833.2,1589.9 833.9,1589.9 834.6,1589.9 835.4,1589.9 836.1,1589.9 836.8,1589.9 837.6,1589.9 838.3,1589.9 839.0,1589.9 839.8,1589.9 840.5,1589.9 841.2,1589.9 842.0,1589.9 842.7,1589.9 843.4,1589.9 844.2,1576.4 844.9,1589.9 845.6,1576.4 846.4,1589.9 847.1,1576.4 847.8,1589.9 848.5,1576.4 849.3,1589.9 850.0,1576.4 850.7,1589.9 851.5,1576.4 852.2,1589.9 852.9,1576.4 853.7,1589.9 854.4,1576.4 855.1,1589.9 855.9,1576.4 856.6,1589.9 857.3,1576.4 858.1,1589.9 858.8,1576.4 859.5,1589.9 860.3,1576.4 861.0,1589.9 861.7,1576.4 862.5,1589.9 863.2,1576.4 863.9,1589.9 864.7,1576.4 865.4,1589.9 866.1,1576.4 866.9,1589.9 867.6,1576.4 868.3,1589.9 869.1,1576.4 869.8,1589.9 870.5,1576.4 871.3,1589.9 872.0,1576.4 872.7,1589.9 873.4,1576.4 874.2,1589.9 874.9,1576.4 875.6,1589.9 876.4,1576.4 877.1,1589.9 877.8,1576.4 878.6,1589.9 879.3,1576.4 880.0,1589.9 880.8,1576.4 881.5,1589.9 882.2,1576.4 883.0,1589.9 883.7,1576.4 884.4,1589.9 885.2,1576.4 885.9,1589.9 886.6,1576.4 887.4,1589.9 888.1,1576.4 888.8,1589.9 889.6,1576.4 890.3,1589.9 891.0,1576.4 891.8,1589.9 892.5,1576.4 893.2,1589.9 894.0,1576.4 894.7,1589.9 895.4,1576.4 896.2,1589.9 896.9,1576.4 897.6,1589.9 898.4,1576.4 899.1,1589.9 899.8,1576.4 900.5,1589.9 901.3,1576.4 902.0,1589.9 902.7,1576.4 903.5,1589.9 904.2,1576.4 904.9,1589.9 905.7,1576.4 906.4,1589.9 907.1,1576.4 907.9,1589.9 908.6,1576.4 909.3,1589.9 910.1,1576.4 910.8,1589.9 911.5,1576.4 912.3,1589.9 913.0,1576.4 913.7,1589.9 914.5,1576.4 915.2,1589.9 915.9,1576.4 916.7,1589.9 917.4,1576.4 918.1,1589.9 918.9,1576.4 919.6,1589.9 920.3,1576.4 921.1,1589.9 921.8,1576.4 922.5,1589.9 923.3,1576.4 924.0,1589.9 924.7,1576.4 925.4,1589.9 926.2,1576.4 926.9,1589.9 927.6,1576.4 928.4,1589.9 929.1,1576.4 929.8,1589.9 930.6,1576.4 931.3,1589.9 932.0,1589.9 932.8,1589.9 933.5,1589.9 934.2,1589.9 935.0,1589.9 935.7,1589.9 936.4,1589.9 937.2,1589.9 937.9,1589.9 938.6,1589.9 939.4,1589.9 940.1,1589.9 940.8,1589.9 941.6,1589.9 942.3,1589.9 943.0,1589.9 943.8,1576.4 944.5,1576.4 945.2,1589.9 946.0,1589.9 946.7,1589.9 947.4,1589.9 948.2,1589.9 948.9,1589.9 949.6,1589.9 950.4,1589.9 951.1,1589.9 951.8,1589.9 952.5,1589.9 953.3,1589.9 954.0,1589.9 954.7,1589.9 955.5,1589.9 956.2,1589.9 956.9,1589.9 957.7,1589.9 958.4,1589.9 959.1,1589.9 959.9,1589.9 960.6,1589.9 961.3,1589.9 962.1,1589.9 962.8,1589.9 963.5,1589.9 964.3,1589.9 965.0,1576.4 965.7,1576.4 966.5,1589.9 967.2,1576.4 967.9,1589.9 968.7,1576.4 969.4,1589.9 970.1,1576.4 970.9,1589.9 971.6,1576.4 972.3,1589.9 973.1,1576.4 973.8,1589.9 974.5,1576.4 975.3,1589.9 976.0,1576.4 976.7,1589.9 977.5,1576.4 978.2,1589.9 978.9,1576.4 979.6,1589.9 980.4,1576.4 981.1,1589.9 981.8,1576.4 982.6,1589.9 983.3,1576.4 984.0,1589.9 984.8,1576.4 985.5,1589.9 986.2,1576.4 987.0,1589.9 987.7,1576.4 988.4,1576.4 989.2,1589.9 989.9,1589.9 990.6,1589.9 991.4,1589.9 992.1,1589.9 992.8,1589.9 993.6,1589.9 994.3,1589.9 995.0,1589.9 995.8,1589.9 996.5,1589.9 997.2,1589.9 998.0,1589.9 998.7,1576.4 999.4,1589.9 1000.2,1589.9 1000.9,1589.9 1001.6,1589.9 1002.4,1589.9 1003.1,1589.9 1003.8,1589.9 1004.5,1589.9 1005.3,1589.9 1006.0,1589.9 1006.7,1589.9 1007.5,1589.9 1008.2,1589.9 1008.9,1589.9 1009.7,1589.9 1010.4,1589.9 1011.1,1589.9 1011.9,1589.9 1012.6,1589.9 1013.3,1589.9 1014.1,1576.4 1014.8,1589.9 1015.5,1576.4 1016.3,1589.9 1017.0,1576.4 1017.7,1589.9 1018.5,1576.4 1019.2,1589.9 1019.9,1576.4 1020.7,1589.9 1021.4,1576.4 1022.1,1589.9 1022.9,1576.4 1023.6,1589.9 1024.3,1576.4 1025.1,1589.9 1025.8,1576.4 1026.5,1589.9 1027.3,1576.4 1028.0,1589.9 1028.7,1576.4 1029.5,1589.9 1030.2,1576.4 1030.9,1589.9 1031.6,1576.4 1032.4,1589.9 1033.1,1576.4 1033.8,1589.9 1034.6,1576.4 1035.3,1589.9 1036.0,1576.4 1036.8,1589.9 1037.5,1576.4 1038.2,1589.9 1039.0,1576.4 1039.7,1589.9 1040.4,1576.4 1041.2,1589.9 1041.9,1576.4 1042.6,1589.9 1043.4,1576.4 1044.1,1589.9 1044.8,1576.4 1045.6,1589.9 1046.3,1576.4 1047.0,1589.9 1047.8,1576.4 1048.5,1589.9 1049.2,1576.4 1050.0,1589.9 1050.7,1576.4 1051.4,1589.9 1052.2,1576.4 1052.9,1589.9 1053.6,1576.4 1054.4,1589.9 1055.1,1576.4 1055.8,1589.9 1056.5,1576.4 1057.3,1589.9 1058.0,1576.4 1058.7,1589.9 1059.5,1576.4 1060.2,1589.9 1060.9,1576.4 1061.7,1589.9 1062.4,1576.4 1063.1,1589.9 1063.9,1576.4 1064.6,1589.9 1065.3,1576.4 1066.1,1589.9 1066.8,1576.4 1067.5,1589.9 1068.3,1576.4 1069.0,1589.9 1069.7,1576.4 1070.5,1589.9 1071.2,1576.4 1071.9,1589.9 1072.7,1576.4 1073.4,1589.9 1074.1,1576.4 1074.9,1589.9 1075.6,1576.4 1076.3,1589.9 1077.1,1576.4 1077.8,1589.9 1078.5,1576.4 1079.3,1589.9 1080.0,1576.4 1080.7,1589.9 1081.5,1576.4 1082.2,1589.9 1082.9,1576.4 1083.6,1589.9 1084.4,1576.4 1085.1,1589.9 1085.8,1576.4 1086.6,1589.9 1087.3,1576.4 1088.0,1589.9 1088.8,1576.4 1089.5,1589.9 1090.2,1576.4 1091.0,1589.9 1091.7,1589.9 1092.4,1589.9 1093.2,1589.9 1093.9,1589.9 1094.6,1589.9 1095.4,1589.9 1096.1,1589.9 1096.8,1589.9 1097.6,1589.9 1098.3,1589.9 1099.0,1589.9 1099.8,1589.9 1100.5,1589.9 1101.2,1589.9 1102.0,1589.9 1102.7,1576.4 1103.4,1576.4 1104.2,1589.9 1104.9,1589.9 1105.6,1589.9 1106.4,1589.9 1107.1,1589.9 1107.8,1589.9 1108.5,1589.9 1109.3,1589.9 1110.0,1589.9 1110.7,1589.9 1111.5,1589.9 1112.2,1589.9 1112.9,1589.9 1113.7,1589.9 1114.4,1589.9 1115.1,1589.9 1115.9,1589.9 1116.6,1589.9 1117.3,1589.9 1118.1,1589.9 1118.8,1589.9 1119.5,1589.9 1120.3,1589.9 1121.0,1589.9 1121.7,1589.9 1122.5,1589.9 1123.2,1589.9 1123.9,1589.9 1124.7,1589.9 1125.4,1589.9 1126.1,1589.9 1126.9,1589.9 1127.6,1589.9 1128.3,1589.9 1129.1,1589.9 1129.8,1589.9 1130.5,1589.9 1131.3,1589.9 1132.0,1576.4 1132.7,1589.9 1133.5,1589.9 1134.2,1589.9 1134.9,1589.9 1135.6,1589.9 1136.4,1589.9 1137.1,1589.9 1137.8,1589.9 1138.6,1589.9 1139.3,1589.9 1140.0,1589.9 1140.8,1589.9 1141.5,1589.9 1142.2,1589.9 1143.0,1589.9 1143.7,1589.9 1144.4,1576.4 1145.2,1589.9 1145.9,1589.9 1146.6,1589.9 1147.4,1589.9 1148.1,1589.9 1148.8,1589.9 1149.6,1589.9 1150.3,1589.9 1151.0,1589.9 1151.8,1589.9 1152.5,1589.9 1153.2,1589.9 1154.0,1589.9 1154.7,1589.9 1155.4,1589.9 1156.2,1576.4 1156.9,1589.9 1157.6,1576.4 1158.4,1589.9 1159.1,1576.4 1159.8,1589.9 1160.6,1576.4 1161.3,1589.9 1162.0,1576.4 1162.7,1589.9 1163.5,1576.4 1164.2,1589.9 1164.9,1576.4 1165.7,1589.9 1166.4,1576.4 1167.1,1589.9 1167.9,1576.4 1168.6,1589.9 1169.3,1576.4 1170.1,1589.9 1170.8,1576.4 1171.5,1589.9 1172.3,1576.4 1173.0,1589.9 1173.7,1576.4 1174.5,1589.9 1175.2,1576.4 1175.9,1589.9 1176.7,1576.4 1177.4,1589.9 1178.1,1576.4 1178.9,1589.9 1179.6,1576.4 1180.3,1589.9 1181.1,1576.4 1181.8,1589.9 1182.5,1576.4 1183.3,1589.9 1184.0,1576.4 1184.7,1589.9 1185.5,1576.4 1186.2,1589.9 1186.9,1576.4 1187.6,1589.9 1188.4,1576.4 1189.1,1589.9 1189.8,1576.4 1190.6,1589.9 1191.3,1576.4 1192.0,1589.9 1192.8,1576.4 1193.5,1589.9 1194.2,1576.4 1195.0,1589.9 1195.7,1576.4 1196.4,1589.9 1197.2,1576.4 1197.9,1589.9 1198.6,1576.4 1199.4,1589.9 1200.1,1576.4 1200.8,1589.9 1201.6,1576.4 1202.3,1589.9 1203.0,1576.4 1203.8,1589.9 1204.5,1576.4 1205.2,1589.9 1206.0,1576.4 1206.7,1589.9 1207.4,1576.4 1208.2,1589.9 1208.9,1576.4 1209.6,1589.9 1210.4,1576.4 1211.1,1589.9 1211.8,1576.4 1212.6,1589.9 1213.3,1576.4 1214.0,1589.9 1214.7,1576.4 1215.5,1589.9 1216.2,1576.4 1216.9,1589.9 1217.7,1576.4 1218.4,1589.9 1219.1,1576.4 1219.9,1589.9 1220.6,1576.4 1221.3,1589.9 1222.1,1576.4 1222.8,1589.9 1223.5,1576.4 1224.3,1589.9 1225.0,1576.4 1225.7,1589.9 1226.5,1576.4 1227.2,1589.9 1227.9,1576.4 1228.7,1589.9 1229.4,1576.4 1230.1,1589.9 1230.9,1576.4 1231.6,1589.9 1232.3,1576.4 1233.1,1589.9 1233.8,1576.4 1234.5,1589.9 1235.3,1576.4 1236.0,1589.9 1236.7,1576.4 1237.5,1589.9 1238.2,1576.4 1238.9,1589.9 1239.6,1576.4 1240.4,1589.9 1241.1,1576.4 1241.8,1589.9 1242.6,1576.4 1243.3,1589.9 1244.0,1576.4 1244.8,1589.9 1245.5,1576.4 1246.2,1589.9 1247.0,1576.4 1247.7,1589.9 1248.4,1576.4 1249.2,1589.9 1249.9,1576.4 1250.6,1589.9 1251.4,1576.4 1252.1,1589.9 1252.8,1576.4 1253.6,1589.9 1254.3,1576.4 1255.0,1589.9 1255.8,1576.4 1256.5,1589.9 1257.2,1576.4 1258.0,1589.9 1258.7,1576.4 1259.4,1589.9 1260.2,1576.4 1260.9,1589.9 1261.6,1576.4 1262.4,1589.9 1263.1,1576.4 1263.8,1589.9 1264.6,1576.4 1265.3,1589.9 1266.0,1576.4 1266.7,1589.9 1267.5,1576.4 1268.2,1589.9 1268.9,1576.4 1269.7,1589.9 1270.4,1576.4 1271.1,1589.9 1271.9,1576.4 1272.6,1589.9 1273.3,1576.4 1274.1,1589.9 1274.8,1576.4 1275.5,1589.9 1276.3,1576.4 1277.0,1589.9 1277.7,1576.4 1278.5,1589.9 1279.2,1576.4 1279.9,1589.9 1280.7,1576.4 1281.4,1589.9 1282.1,1576.4 1282.9,1589.9 1283.6,1576.4 1284.3,1589.9 1285.1,1576.4 1285.8,1589.9 1286.5,1576.4 1287.3,1589.9 1288.0,1576.4 1288.7,1589.9 1289.5,1576.4 1290.2,1589.9 1290.9,1576.4 1291.6,1589.9 1292.4,1576.4 1293.1,1589.9 1293.8,1576.4 1294.6,1589.9 1295.3,1576.4 1296.0,1589.9 1296.8,1576.4 1297.5,1589.9 1298.2,1576.4 1299.0,1589.9 1299.7,1576.4 1300.4,1589.9 1301.2,1576.4 1301.9,1589.9 1302.6,1576.4 1303.4,1589.9 1304.1,1576.4 1304.8,1589.9 1305.6,1576.4 1306.3,1589.9 1307.0,1576.4 1307.8,1589.9 1308.5,1576.4 1309.2,1589.9 1310.0,1576.4 1310.7,1589.9 1311.4,1576.4 1312.2,1589.9 1312.9,1576.4 1313.6,1589.9 1314.4,1576.4 1315.1,1589.9 1315.8,1576.4 1316.6,1589.9 1317.3,1576.4 1318.0,1589.9 1318.7,1576.4 1319.5,1589.9 1320.2,1576.4 1320.9,1589.9 1321.7,1576.4 1322.4,1589.9 1323.1,1576.4 1323.9,1589.9 1324.6,1576.4 1325.3,1589.9 1326.1,1576.4 1326.8,1589.9 1327.5,1576.4 1328.3,1589.9 1329.0,1576.4 1329.7,1589.9 1330.5,1576.4 1331.2,1589.9 1331.9,1576.4 1332.7,1589.9 1333.4,1576.4 1334.1,1589.9 1334.9,1576.4 1335.6,1589.9 1336.3,1576.4 1337.1,1589.9 1337.8,1576.4 1338.5,1589.9 1339.3,1576.4 1340.0,1589.9 1340.7,1576.4 1341.5,1589.9 1342.2,1576.4 1342.9,1589.9 1343.7,1576.4 1344.4,1589.9 1345.1,1576.4 1345.8,1589.9 1346.6,1576.4 1347.3,1589.9 1348.0,1576.4 1348.8,1589.9 1349.5,1576.4 1350.2,1589.9 1351.0,1576.4 1351.7,1589.9 1352.4,1576.4 1353.2,1589.9 1353.9,1576.4 1354.6,1589.9 1355.4,1576.4 1356.1,1589.9 1356.8,1576.4 1357.6,1589.9 1358.3,1576.4 1359.0,1589.9 1359.8,1576.4 1360.5,1589.9 1361.2,1576.4 1362.0,1589.9 1362.7,1576.4 1363.4,1589.9 1364.2,1576.4 1364.9,1589.9 1365.6,1576.4 1366.4,1589.9 1367.1,1576.4 1367.8,1589.9 1368.6,1576.4 1369.3,1589.9 1370.0,1576.4 1370.7,1589.9 1371.5,1576.4 1372.2,1589.9 1372.9,1576.4 1373.7,1589.9 1374.4,1576.4 1375.1,1589.9 1375.9,1576.4 1376.6,1589.9 1377.3,1576.4 1378.1,1589.9 1378.8,1576.4 1379.5,1589.9 1380.3,1576.4 1381.0,1589.9 1381.7,1576.4 1382.5,1589.9 1383.2,1576.4 1383.9,1589.9 1384.7,1576.4 1385.4,1589.9 1386.1,1576.4 1386.9,1589.9 1387.6,1576.4 1388.3,1589.9 1389.1,1589.9 1389.8,1589.9 1390.5,1589.9 1391.3,1589.9 1392.0,1589.9 1392.7,1589.9 1393.5,1589.9 1394.2,1589.9 1394.9,1589.9 1395.7,1589.9 1396.4,1589.9 1397.1,1589.9 1397.8,1589.9 1398.6,1589.9 1399.3,1589.9 1400.0,1589.9 1400.8,1589.9 1401.5,1589.9 1402.2,1589.9 1403.0,1589.9 1403.7,1589.9 1404.4,1589.9 1405.2,1589.9 1405.9,1576.4 1406.6,1576.4 1407.4,1589.9 1408.1,1576.4 1408.8,1589.9 1409.6,1576.4 1410.3,1589.9 1411.0,1576.4 1411.8,1589.9 1412.5,1576.4 1413.2,1589.9 1414.0,1576.4 1414.7,1589.9 1415.4,1576.4 1416.2,1589.9 1416.9,1576.4 1417.6,1589.9 1418.4,1576.4 1419.1,1589.9 1419.8,1576.4 1420.6,1589.9 1421.3,1576.4 1422.0,1589.9 1422.7,1576.4 1423.5,1589.9 1424.2,1576.4 1424.9,1589.9 1425.7,1576.4 1426.4,1589.9 1427.1,1576.4 1427.9,1589.9 1428.6,1576.4 1429.3,1589.9 1430.1,1576.4 1430.8,1589.9 1431.5,1576.4 1432.3,1589.9 1433.0,1576.4 1433.7,1589.9 1434.5,1576.4 1435.2,1589.9 1435.9,1576.4 1436.7,1589.9 1437.4,1576.4 1438.1,1589.9 1438.9,1576.4 1439.6,1589.9 1440.3,1576.4 1441.1,1589.9 1441.8,1576.4 1442.5,1589.9 1443.3,1576.4 1444.0,1589.9 1444.7,1576.4 1445.5,1589.9 1446.2,1576.4 1446.9,1589.9 1447.7,1576.4 1448.4,1589.9 1449.1,1576.4 1449.8,1589.9 1450.6,1576.4 1451.3,1589.9 1452.0,1576.4 1452.8,1589.9 1453.5,1576.4 1454.2,1589.9 1455.0,1576.4 1455.7,1589.9 1456.4,1576.4 1457.2,1589.9 1457.9,1576.4 1458.6,1589.9 1459.4,1576.4 1460.1,1589.9 1460.8,1576.4 1461.6,1589.9 1462.3,1576.4 1463.0,1589.9 1463.8,1576.4 1464.5,1589.9 1465.2,1576.4 1466.0,1589.9 1466.7,1576.4 1467.4,1589.9 1468.2,1576.4 1468.9,1589.9 1469.6,1576.4 1470.4,1589.9 1471.1,1576.4 1471.8,1589.9 1472.6,1576.4 1473.3,1589.9 1474.0,1576.4 1474.8,1589.9 1475.5,1576.4 1476.2,1589.9 1476.9,1576.4 1477.7,1589.9 1478.4,1576.4 1479.1,1589.9 1479.9,1576.4 1480.6,1589.9 1481.3,1576.4 1482.1,1589.9 1482.8,1576.4 1483.5,1589.9 1484.3,1576.4 1485.0,1589.9 1485.7,1576.4 1486.5,1589.9 1487.2,1576.4 1487.9,1589.9 1488.7,1576.4 1489.4,1589.9 1490.1,1576.4 1490.9,1589.9 1491.6,1576.4 1492.3,1589.9 1493.1,1576.4 1493.8,1589.9 1494.5,1576.4 1495.3,1589.9 1496.0,1576.4 1496.7,1589.9 1497.5,1576.4 1498.2,1589.9 1498.9,1576.4 1499.7,1589.9 1500.4,1576.4 1501.1,1589.9 1501.8,1516.1 1502.6,1589.9 1503.3,1576.4 1504.0,1589.9 1504.8,1576.4 1505.5,1589.9 1506.2,1576.4 1507.0,1589.9 1507.7,1576.4 1508.4,1589.9 1509.2,1576.4 1509.9,1589.9 1510.6,1576.4 1511.4,1589.9 1512.1,1576.4 1512.8,1589.9 1513.6,1576.4 1514.3,1589.9 1515.0,1576.4 1515.8,1589.9 1516.5,1576.4 1517.2,1589.9 1518.0,1576.4 1518.7,1589.9 1519.4,1576.4 1520.2,1589.9 1520.9,1576.4 1521.6,1589.9 1522.4,1576.4 1523.1,1589.9 1523.8,1576.4 1524.6,1589.9 1525.3,1576.4 1526.0,1589.9 1526.8,1576.4 1527.5,1576.4 1528.2,1589.9 1528.9,1589.9 1529.7,1589.9 1530.4,1589.9 1531.1,1589.9 1531.9,1589.9 1532.6,1589.9 1533.3,1589.9 1534.1,1589.9 1534.8,1589.9 1535.5,1589.9 1536.3,1589.9 1537.0,1589.9 1537.7,1589.9 1538.5,1589.9 1539.2,1589.9 1539.9,1589.9 1540.7,1576.4 1541.4,1576.4 1542.1,1589.9 1542.9,1576.4 1543.6,1589.9 1544.3,1576.4 1545.1,1589.9 1545.8,1576.4 1546.5,1589.9 1547.3,1576.4 1548.0,1589.9 1548.7,1576.4 1549.5,1589.9 1550.2,1576.4 1550.9,1589.9 1551.7,1576.4 1552.4,1589.9 1553.1,1576.4 1553.8,1589.9 1554.6,1576.4 1555.3,1589.9 1556.0,1576.4 1556.8,1589.9 1557.5,1576.4 1558.2,1589.9 1559.0,1576.4 1559.7,1589.9 1560.4,1576.4 1561.2,1589.9 1561.9,1576.4 1562.6,1589.9 1563.4,1576.4 1564.1,1589.9 1564.8,1576.4 1565.6,1589.9 1566.3,1576.4 1567.0,1589.9 1567.8,1576.4 1568.5,1589.9 1569.2,1576.4 1570.0,1589.9 1570.7,1576.4 1571.4,1589.9 1572.2,1576.4 1572.9,1589.9 1573.6,1576.4 1574.4,1589.9 1575.1,1576.4 1575.8,1589.9 1576.6,1576.4 1577.3,1589.9 1578.0,1576.4 1578.8,1589.9 1579.5,1576.4 1580.2,1589.9 1580.9,1576.4 1581.7,1589.9 1582.4,1576.4 1583.1,1589.9 1583.9,1576.4 1584.6,1589.9 1585.3,1576.4 1586.1,1589.9 1586.8,1576.4 1587.5,1589.9 1588.3,1576.4 1589.0,1589.9 1589.7,1576.4 1590.5,1589.9 1591.2,1576.4 1591.9,1589.9 1592.7,1576.4 1593.4,1589.9 1594.1,1576.4 1594.9,1589.9 1595.6,1576.4 1596.3,1589.9 1597.1,1576.4 1597.8,1589.9 1598.5,1576.4 1599.3,1589.9 1600.0,1576.4 1600.7,1589.9 1601.5,1576.4 1602.2,1589.9 1602.9,1576.4 1603.7,1589.9 1604.4,1576.4 1605.1,1589.9 1605.8,1576.4 1606.6,1589.9 1607.3,1576.4 1608.0,1589.9 1608.8,1576.4 1609.5,1589.9 1610.2,1576.4 1611.0,1589.9 1611.7,1576.4 1612.4,1589.9 1613.2,1576.4 1613.9,1589.9 1614.6,1576.4 1615.4,1589.9 1616.1,1576.4 1616.8,1589.9 1617.6,1576.4 1618.3,1589.9 1619.0,1576.4 1619.8,1589.9 1620.5,1576.4 1621.2,1589.9 1622.0,1576.4 1622.7,1589.9 1623.4,1576.4 1624.2,1589.9 1624.9,1576.4 1625.6,1589.9 1626.4,1576.4 1627.1,1589.9 1627.8,1576.4 1628.6,1589.9 1629.3,1576.4 1630.0,1589.9 1630.8,1576.4 1631.5,1589.9 1632.2,1576.4 1632.9,1589.9 1633.7,1576.4 1634.4,1589.9 1635.1,1576.4 1635.9,1589.9 1636.6,1576.4 1637.3,1589.9 1638.1,1576.4 1638.8,1589.9 1639.5,1576.4 1640.3,1589.9 1641.0,1576.4 1641.7,1589.9 1642.5,1576.4 1643.2,1589.9 1643.9,1576.4 1644.7,1589.9 1645.4,1576.4 1646.1,1589.9 1646.9,1576.4 1647.6,1589.9 1648.3,1576.4 1649.1,1589.9 1649.8,1576.4 1650.5,1589.9 1651.3,1576.4 1652.0,1589.9 1652.7,1576.4 1653.5,1589.9 1654.2,1576.4 1654.9,1589.9 1655.7,1576.4 1656.4,1589.9 1657.1,1576.4 1657.8,1589.9 1658.6,1576.4 1659.3,1589.9 1660.0,1576.4 1660.8,1589.9 1661.5,1576.4 1662.2,1589.9 1663.0,1576.4 1663.7,1589.9 1664.4,1576.4 1665.2,1589.9 1665.9,1576.4 1666.6,1589.9 1667.4,1576.4 1668.1,1589.9 1668.8,1576.4 1669.6,1589.9 1670.3,1576.4 1671.0,1589.9 1671.8,1576.4 1672.5,1589.9 1673.2,1576.4 1674.0,1589.9 1674.7,1576.4 1675.4,1589.9 1676.2,1576.4 1676.9,1589.9 1677.6,1576.4 1678.4,1589.9 1679.1,1576.4 1679.8,1589.9 1680.6,1576.4 1681.3,1589.9 1682.0,1576.4 1682.8,1589.9 1683.5,1576.4 1684.2,1589.9 1684.9,1576.4 1685.7,1589.9 1686.4,1576.4 1687.1,1589.9 1687.9,1576.4 1688.6,1589.9 1689.3,1576.4 1690.1,1589.9 1690.8,1576.4 1691.5,1589.9 1692.3,1576.4 1693.0,1589.9 1693.7,1576.4 1694.5,1589.9 1695.2,1576.4 1695.9,1589.9 1696.7,1576.4 1697.4,1589.9 1698.1,1576.4 1698.9,1589.9 1699.6,1576.4 1700.3,1589.9 1701.1,1576.4 1701.8,1589.9 1702.5,1576.4 1703.3,1589.9 1704.0,1576.4 1704.7,1589.9 1705.5,1576.4 1706.2,1589.9 1706.9,1576.4 1707.7,1589.9 1708.4,1576.4 1709.1,1589.9 1709.9,1576.4 1710.6,1589.9 1711.3,1576.4 1712.0,1589.9 1712.8,1576.4 1713.5,1589.9 1714.2,1576.4 1715.0,1589.9 1715.7,1576.4 1716.4,1589.9 1717.2,1576.4 1717.9,1589.9 1718.6,1576.4 1719.4,1589.9 1720.1,1576.4 1720.8,1589.9 1721.6,1576.4 1722.3,1589.9 1723.0,1576.4 1723.8,1589.9 1724.5,1576.4 1725.2,1589.9 1726.0,1576.4 1726.7,1589.9 1727.4,1576.4 1728.2,1589.9 1728.9,1576.4 1729.6,1589.9 1730.4,1576.4 1731.1,1589.9 1731.8,1576.4 1732.6,1589.9 1733.3,1576.4 1734.0,1589.9 1734.8,1576.4 1735.5,1589.9 1736.2,1576.4 1736.9,1589.9 1737.7,1576.4 1738.4,1589.9 1739.1,1576.4 1739.9,1589.9 1740.6,1576.4 1741.3,1589.9 1742.1,1576.4 1742.8,1589.9 1743.5,1576.4 1744.3,1589.9 1745.0,1576.4 1745.7,1589.9 1746.5,1576.4 1747.2,1589.9 1747.9,1576.4 1748.7,1589.9 1749.4,1576.4 1750.1,1589.9 1750.9,1576.4 1751.6,1589.9 1752.3,1576.4 1753.1,1576.4 1753.8,1589.9 1754.5,1589.9 1755.3,1589.9 1756.0,1589.9 1756.7,1589.9 1757.5,1589.9 1758.2,1589.9 1758.9,1589.9 1759.7,1589.9 1760.4,1589.9 1761.1,1589.9 1761.9,1589.9 1762.6,1589.9 1763.3,1589.9 1764.0,1589.9 1764.8,1576.4 1765.5,1576.4 1766.2,1589.9 1767.0,1576.4 1767.7,1589.9 1768.4,1576.4 1769.2,1589.9 1769.9,1576.4 1770.6,1589.9 1771.4,1576.4 1772.1,1589.9 1772.8,1576.4 1773.6,1589.9 1774.3,1576.4 1775.0,1589.9 1775.8,1576.4 1776.5,1589.9 1777.2,1576.4 1778.0,1589.9 1778.7,1576.4 1779.4,1589.9 1780.2,1576.4 1780.9,1589.9 1781.6,1576.4 1782.4,1589.9 1783.1,1576.4 1783.8,1589.9 1784.6,1576.4 1785.3,1589.9 1786.0,1576.4 1786.8,1589.9 1787.5,1576.4 1788.2,1589.9 1788.9,1576.4 1789.7,1589.9 1790.4,1576.4 1791.1,1589.9 1791.9,1576.4 1792.6,1589.9 1793.3,1576.4 1794.1,1589.9 1794.8,1576.4 1795.5,1589.9 1796.3,1576.4 1797.0,1589.9 1797.7,1576.4 1798.5,1589.9 1799.2,1576.4 1799.9,1589.9 1800.7,1576.4 1801.4,1589.9 1802.1,1576.4 1802.9,1589.9 1803.6,1576.4 1804.3,1589.9 1805.1,1576.4 1805.8,1589.9 1806.5,1576.4 1807.3,1589.9 1808.0,1576.4 1808.7,1589.9 1809.5,1576.4 1810.2,1589.9 1810.9,1576.4 1811.7,1589.9 1812.4,1576.4 1813.1,1589.9 1813.9,1576.4 1814.6,1589.9 1815.3,1576.4 1816.0,1589.9 1816.8,1576.4 1817.5,1589.9 1818.2,1576.4 1819.0,1589.9 1819.7,1576.4 1820.4,1589.9 1821.2,1576.4 1821.9,1589.9 1822.6,1576.4 1823.4,1589.9 1824.1,1576.4 1824.8,1589.9 1825.6,1576.4 1826.3,1589.9 1827.0,1576.4 1827.8,1589.9 1828.5,1576.4 1829.2,1589.9 1830.0,1576.4 1830.7,1589.9 1831.4,1576.4 1832.2,1589.9 1832.9,1576.4 1833.6,1589.9 1834.4,1576.4 1835.1,1589.9 1835.8,1576.4 1836.6,1589.9 1837.3,1576.4 1838.0,1589.9 1838.8,1576.4 1839.5,1589.9 1840.2,1576.4 1841.0,1589.9 1841.7,1576.4 1842.4,1589.9 1843.1,1576.4 1843.9,1589.9 1844.6,1576.4 1845.3,1589.9 1846.1,1576.4 1846.8,1589.9 1847.5,1576.4 1848.3,1589.9 1849.0,1576.4 1849.7,1589.9 1850.5,1576.4 1851.2,1589.9 1851.9,1576.4 1852.7,1589.9 1853.4,1576.4 1854.1,1589.9 1854.9,1576.4 1855.6,1589.9 1856.3,1576.4 1857.1,1589.9 1857.8,1576.4 1858.5,1589.9 1859.3,1576.4 1860.0,1589.9 1860.7,1576.4 1861.5,1589.9 1862.2,1576.4 1862.9,1589.9 1863.7,1576.4 1864.4,1589.9 1865.1,1576.4 1865.9,1589.9 1866.6,1576.4 1867.3,1589.9 1868.0,1576.4 1868.8,1589.9 1869.5,1576.4 1870.2,1589.9 1871.0,1576.4 1871.7,1589.9 1872.4,1576.4 1873.2,1589.9 1873.9,1576.4 1874.6,1589.9 1875.4,1576.4 1876.1,1589.9 1876.8,1576.4 1877.6,1589.9 1878.3,1576.4 1879.0,1589.9 1879.8,1576.4 1880.5,1589.9 1881.2,1576.4 1882.0,1589.9 1882.7,1576.4 1883.4,1589.9 1884.2,1576.4 1884.9,1589.9 1885.6,1576.4 1886.4,1589.9 1887.1,1576.4"/>
<polyline fill="none" stroke="#1A6FDF" stroke-width="7.5" stroke-linejoin="round" stroke-linecap="round" points="468.4,1643.5 469.2,1630.1 469.9,1643.5 470.6,1630.1 471.4,1643.5 472.1,1630.1 472.8,1643.5 473.6,1630.1 474.3,1630.1 475.0,1630.1 475.8,1630.1 476.5,1630.1 477.2,1630.1 478.0,1630.1 478.7,1630.1 479.4,1630.1 480.2,1630.1 480.9,1630.1 481.6,1630.1 482.3,1630.1 483.1,1630.1 483.8,1630.1 484.5,1630.1 485.3,1630.1 486.0,1643.5 486.7,1630.1 487.5,1643.5 488.2,1630.1 488.9,1643.5 489.7,1630.1 490.4,1643.5 491.1,1630.1 491.9,1643.5 492.6,1630.1 493.3,1643.5 494.1,1630.1 494.8,1643.5 495.5,1630.1 496.3,1643.5 497.0,1630.1 497.7,1643.5 498.5,1630.1 499.2,1630.1 499.9,1630.1 500.7,1630.1 501.4,1630.1 502.1,1630.1 502.9,1630.1 503.6,1630.1 504.3,1630.1 505.1,1630.1 505.8,1630.1 506.5,1630.1 507.2,1630.1 508.0,1630.1 508.7,1630.1 509.4,1630.1 510.2,1630.1 510.9,1630.1 511.6,1643.5 512.4,1643.5 513.1,1630.1 513.8,1643.5 514.6,1630.1 515.3,1643.5 516.0,1630.1 516.8,1643.5 517.5,1630.1 518.2,1643.5 519.0,1630.1 519.7,1643.5 520.4,1630.1 521.2,1643.5 521.9,1630.1 522.6,1643.5 523.4,1630.1 524.1,1643.5 524.8,1630.1 525.6,1643.5 526.3,1630.1 527.0,1643.5 527.8,1630.1 528.5,1643.5 529.2,1630.1 530.0,1643.5 530.7,1630.1 531.4,1643.5 532.2,1630.1 532.9,1643.5 533.6,1630.1 534.3,1643.5 535.1,1630.1 535.8,1643.5 536.5,1630.1 537.3,1643.5 538.0,1630.1 538.7,1643.5 539.5,1630.1 540.2,1643.5 540.9,1630.1 541.7,1643.5 542.4,1630.1 543.1,1643.5 543.9,1630.1 544.6,1630.1 545.3,1630.1 546.1,1630.1 546.8,1630.1 547.5,1630.1 548.3,1630.1 549.0,1630.1 549.7,1630.1 550.5,1630.1 551.2,1630.1 551.9,1630.1 552.7,1630.1 553.4,1630.1 554.1,1630.1 554.9,1630.1 555.6,1630.1 556.3,1630.1 557.1,1643.5 557.8,1643.5 558.5,1630.1 559.2,1643.5 560.0,1630.1 560.7,1643.5 561.4,1630.1 562.2,1643.5 562.9,1630.1 563.6,1643.5 564.4,1630.1 565.1,1643.5 565.8,1630.1 566.6,1643.5 567.3,1630.1 568.0,1643.5 568.8,1643.5 569.5,1630.1 570.2,1630.1 571.0,1630.1 571.7,1630.1 572.4,1630.1 573.2,1630.1 573.9,1630.1 574.6,1630.1 575.4,1630.1 576.1,1630.1 576.8,1630.1 577.6,1630.1 578.3,1630.1 579.0,1630.1 579.8,1630.1 580.5,1630.1 581.2,1630.1 582.0,1643.5 582.7,1643.5 583.4,1630.1 584.2,1643.5 584.9,1630.1 585.6,1643.5 586.3,1630.1 587.1,1643.5 587.8,1630.1 588.5,1643.5 589.3,1630.1 590.0,1643.5 590.7,1630.1 591.5,1643.5 592.2,1630.1 592.9,1643.5 593.7,1630.1 594.4,1643.5 595.1,1630.1 595.9,1643.5 596.6,1630.1 597.3,1643.5 598.1,1630.1 598.8,1643.5 599.5,1630.1 600.3,1630.1 601.0,1630.1 601.7,1630.1 602.5,1630.1 603.2,1630.1 603.9,1630.1 604.7,1630.1 605.4,1630.1 606.1,1630.1 606.9,1630.1 607.6,1630.1 608.3,1630.1 609.1,1630.1 609.8,1630.1 610.5,1630.1 611.3,1630.1 612.0,1643.5 612.7,1643.5 613.4,1630.1 614.2,1630.1 614.9,1630.1 615.6,1630.1 616.4,1630.1 617.1,1630.1 617.8,1630.1 618.6,1630.1 619.3,1630.1 620.0,1630.1 620.8,1630.1 621.5,1630.1 622.2,1630.1 623.0,1630.1 623.7,1630.1 624.4,1630.1 625.2,1630.1 625.9,1630.1 626.6,1643.5 627.4,1630.1 628.1,1643.5 628.8,1630.1 629.6,1643.5 630.3,1630.1 631.0,1643.5 631.8,1630.1 632.5,1643.5 633.2,1630.1 634.0,1643.5 634.7,1630.1 635.4,1643.5 636.2,1630.1 636.9,1643.5 637.6,1630.1 638.3,1643.5 639.1,1630.1 639.8,1643.5 640.5,1630.1 641.3,1643.5 642.0,1630.1 642.7,1643.5 643.5,1630.1 644.2,1643.5 644.9,1630.1 645.7,1643.5 646.4,1630.1 647.1,1630.1 647.9,1630.1 648.6,1630.1 649.3,1630.1 650.1,1630.1 650.8,1630.1 651.5,1630.1 652.3,1630.1 653.0,1630.1 653.7,1630.1 654.5,1630.1 655.2,1630.1 655.9,1630.1 656.7,1630.1 657.4,1630.1 658.1,1630.1 658.9,1630.1 659.6,1616.7 660.3,1630.1 661.1,1630.1 661.8,1630.1 662.5,1630.1 663.3,1630.1 664.0,1630.1 664.7,1630.1 665.4,1630.1 666.2,1630.1 666.9,1630.1 667.6,1630.1 668.4,1630.1 669.1,1630.1 669.8,1630.1 670.6,1630.1 671.3,1630.1 672.0,1630.1 672.8,1630.1 673.5,1630.1 674.2,1630.1 675.0,1630.1 675.7,1630.1 676.4,1630.1 677.2,1630.1 677.9,1643.5 678.6,1630.1 679.4,1643.5 680.1,1630.1 680.8,1643.5 681.6,1630.1 682.3,1643.5 683.0,1630.1 683.8,1643.5 684.5,1630.1 685.2,1643.5 686.0,1630.1 686.7,1643.5 687.4,1630.1 688.2,1643.5 688.9,1630.1 689.6,1643.5 690.3,1630.1 691.1,1643.5 691.8,1616.7 692.5,1643.5 693.3,1630.1 694.0,1643.5 694.7,1630.1 695.5,1643.5 696.2,1630.1 696.9,1643.5 697.7,1630.1 698.4,1643.5 699.1,1630.1 699.9,1643.5 700.6,1630.1 701.3,1643.5 702.1,1630.1 702.8,1643.5 703.5,1630.1 704.3,1643.5 705.0,1630.1 705.7,1643.5 706.5,1630.1 707.2,1643.5 707.9,1643.5 708.7,1630.1 709.4,1630.1 710.1,1630.1 710.9,1630.1 711.6,1630.1 712.3,1630.1 713.1,1630.1 713.8,1630.1 714.5,1630.1 715.3,1630.1 716.0,1630.1 716.7,1630.1 717.4,1630.1 718.2,1630.1 718.9,1630.1 719.6,1630.1 720.4,1630.1 721.1,1630.1 721.8,1630.1 722.6,1630.1 723.3,1630.1 724.0,1630.1 724.8,1630.1 725.5,1630.1 726.2,1630.1 727.0,1630.1 727.7,1630.1 728.4,1643.5 729.2,1630.1 729.9,1630.1 730.6,1630.1 731.4,1630.1 732.1,1630.1 732.8,1630.1 733.6,1630.1 734.3,1630.1 735.0,1630.1 735.8,1630.1 736.5,1630.1 737.2,1630.1 738.0,1630.1 738.7,1630.1 739.4,1630.1 740.2,1630.1 740.9,1630.1 741.6,1630.1 742.3,1630.1 743.1,1630.1 743.8,1630.1 744.5,1630.1 745.3,1643.5 746.0,1630.1 746.7,1643.5 747.5,1630.1 748.2,1643.5 748.9,1630.1 749.7,1643.5 750.4,1630.1 751.1,1630.1 751.9,1630.1 752.6,1630.1 753.3,1630.1 754.1,1630.1 754.8,1630.1 755.5,1630.1 756.3,1630.1 757.0,1630.1 757.7,1630.1 758.5,1630.1 759.2,1630.1 759.9,1630.1 760.7,1630.1 761.4,1630.1 762.1,1630.1 762.9,1630.1 763.6,1630.1 764.3,1630.1 765.1,1630.1 765.8,1630.1 766.5,1630.1 767.3,1643.5 768.0,1643.5 768.7,1630.1 769.4,1630.1 770.2,1630.1 770.9,1630.1 771.6,1630.1 772.4,1630.1 773.1,1630.1 773.8,1630.1 774.6,1630.1 775.3,1630.1 776.0,1630.1 776.8,1630.1 777.5,1630.1 778.2,1630.1 779.0,1630.1 779.7,1630.1 780.4,1630.1 781.2,1630.1 781.9,1630.1 782.6,1630.1 783.4,1630.1 784.1,1630.1 784.8,1630.1 785.6,1643.5 786.3,1643.5 787.0,1630.1 787.8,1643.5 788.5,1630.1 789.2,1643.5 790.0,1630.1 790.7,1643.5 791.4,1630.1 792.2,1643.5 792.9,1630.1 793.6,1643.5 794.4,1630.1 795.1,1643.5 795.8,1630.1 796.5,1643.5 797.3,1630.1 798.0,1643.5 798.7,1630.1 799.5,1643.5 800.2,1630.1 800.9,1643.5 801.7,1630.1 802.4,1643.5 803.1,1630.1 803.9,1630.1 804.6,1630.1 805.3,1630.1 806.1,1630.1 806.8,1630.1 807.5,1630.1 808.3,1630.1 809.0,1630.1 809.7,1630.1 810.5,1630.1 811.2,1630.1 811.9,1630.1 812.7,1630.1 813.4,1630.1 814.1,1630.1 814.9,1643.5 815.6,1643.5 816.3,1630.1 817.1,1643.5 817.8,1630.1 818.5,1643.5 819.3,1630.1 820.0,1643.5 820.7,1630.1 821.4,1643.5 822.2,1630.1 822.9,1643.5 823.6,1630.1 824.4,1643.5 825.1,1630.1 825.8,1643.5 826.6,1643.5 827.3,1630.1 828.0,1630.1 828.8,1630.1 829.5,1630.1 830.2,1630.1 831.0,1630.1 831.7,1630.1 832.4,1630.1 833.2,1630.1 833.9,1630.1 834.6,1630.1 835.4,1630.1 836.1,1630.1 836.8,1630.1 837.6,1630.1 838.3,1630.1 839.0,1630.1 839.8,1630.1 840.5,1630.1 841.2,1616.7 842.0,1616.7 842.7,1630.1 843.4,1630.1 844.2,1630.1 844.9,1630.1 845.6,1630.1 846.4,1630.1 847.1,1630.1 847.8,1630.1 848.5,1630.1 849.3,1630.1 850.0,1630.1 850.7,1630.1 851.5,1630.1 852.2,1630.1 852.9,1616.7 853.7,1630.1 854.4,1630.1 855.1,1630.1 855.9,1630.1 856.6,1630.1 857.3,1630.1 858.1,1630.1 858.8,1630.1 859.5,1630.1 860.3,1630.1 861.0,1630.1 861.7,1630.1 862.5,1630.1 863.2,1630.1 863.9,1630.1 864.7,1630.1 865.4,1630.1 866.1,1630.1 866.9,1630.1 867.6,1630.1 868.3,1630.1 869.1,1630.1 869.8,1630.1 870.5,1630.1 871.3,1630.1 872.0,1630.1 872.7,1630.1 873.4,1630.1 874.2,1630.1 874.9,1630.1 875.6,1630.1 876.4,1630.1 877.1,1630.1 877.8,1630.1 878.6,1630.1 879.3,1630.1 880.0,1630.1 880.8,1630.1 881.5,1630.1 882.2,1630.1 883.0,1630.1 883.7,1630.1 884.4,1630.1 885.2,1630.1 885.9,1630.1 886.6,1630.1 887.4,1630.1 888.1,1630.1 888.8,1630.1 889.6,1630.1 890.3,1630.1 891.0,1630.1 891.8,1630.1 892.5,1630.1 893.2,1630.1 894.0,1630.1 894.7,1630.1 895.4,1630.1 896.2,1630.1 896.9,1630.1 897.6,1630.1 898.4,1630.1 899.1,1643.5 899.8,1630.1 900.5,1630.1 901.3,1630.1 902.0,1630.1 902.7,1630.1 903.5,1630.1 904.2,1630.1 904.9,1630.1 905.7,1630.1 906.4,1630.1 907.1,1630.1 907.9,1630.1 908.6,1616.7 909.3,1630.1 910.1,1616.7 910.8,1630.1 911.5,1616.7 912.3,1630.1 913.0,1616.7 913.7,1630.1 914.5,1616.7 915.2,1630.1 915.9,1616.7 916.7,1616.7 917.4,1630.1 918.1,1630.1 918.9,1630.1 919.6,1630.1 920.3,1630.1 921.1,1630.1 921.8,1630.1 922.5,1630.1 923.3,1630.1 924.0,1630.1 924.7,1630.1 925.4,1630.1 926.2,1630.1 926.9,1630.1 927.6,1616.7 928.4,1616.7 929.1,1630.1 929.8,1630.1 930.6,1630.1 931.3,1630.1 932.0,1630.1 932.8,1630.1 933.5,1630.1 934.2,1630.1 935.0,1630.1 935.7,1630.1 936.4,1630.1 937.2,1630.1 937.9,1630.1 938.6,1630.1 939.4,1630.1 940.1,1630.1 940.8,1630.1 941.6,1630.1 942.3,1630.1 943.0,1630.1 943.8,1630.1 944.5,1630.1 945.2,1616.7 946.0,1630.1 946.7,1616.7 947.4,1630.1 948.2,1616.7 948.9,1630.1 949.6,1616.7 950.4,1630.1 951.1,1616.7 951.8,1630.1 952.5,1616.7 953.3,1630.1 954.0,1616.7 954.7,1643.5 955.5,1616.7 956.2,1630.1 956.9,1630.1 957.7,1630.1 958.4,1630.1 959.1,1630.1 959.9,1630.1 960.6,1630.1 961.3,1630.1 962.1,1630.1 962.8,1630.1 963.5,1630.1 964.3,1630.1 965.0,1630.1 965.7,1630.1 966.5,1630.1 967.2,1630.1 967.9,1630.1 968.7,1630.1 969.4,1630.1 970.1,1630.1 970.9,1630.1 971.6,1630.1 972.3,1630.1 973.1,1630.1 973.8,1630.1 974.5,1630.1 975.3,1630.1 976.0,1630.1 976.7,1630.1 977.5,1630.1 978.2,1630.1 978.9,1630.1 979.6,1630.1 980.4,1630.1 981.1,1630.1 981.8,1630.1 982.6,1630.1 983.3,1630.1 984.0,1630.1 984.8,1630.1 985.5,1630.1 986.2,1630.1 987.0,1630.1 987.7,1630.1 988.4,1630.1 989.2,1630.1 989.9,1630.1 990.6,1630.1 991.4,1630.1 992.1,1630.1 992.8,1630.1 993.6,1630.1 994.3,1630.1 995.0,1630.1 995.8,1630.1 996.5,1630.1 997.2,1630.1 998.0,1630.1 998.7,1630.1 999.4,1630.1 1000.2,1630.1 1000.9,1630.1 1001.6,1630.1 1002.4,1630.1 1003.1,1630.1 1003.8,1630.1 1004.5,1630.1 1005.3,1643.5 1006.0,1643.5 1006.7,1630.1 1007.5,1643.5 1008.2,1630.1 1008.9,1643.5 1009.7,1630.1 1010.4,1643.5 1011.1,1630.1 1011.9,1643.5 1012.6,1630.1 1013.3,1630.1 1014.1,1630.1 1014.8,1630.1 1015.5,1630.1 1016.3,1630.1 1017.0,1630.1 1017.7,1630.1 1018.5,1630.1 1019.2,1630.1 1019.9,1630.1 1020.7,1630.1 1021.4,1630.1 1022.1,1630.1 1022.9,1630.1 1023.6,1630.1 1024.3,1630.1 1025.1,1630.1 1025.8,1630.1 1026.5,1630.1 1027.3,1643.5 1028.0,1643.5 1028.7,1630.1 1029.5,1643.5 1030.2,1630.1 1030.9,1643.5 1031.6,1630.1 1032.4,1643.5 1033.1,1630.1 1033.8,1643.5 1034.6,1630.1 1035.3,1643.5 1036.0,1630.1 1036.8,1643.5 1037.5,1630.1 1038.2,1643.5 1039.0,1630.1 1039.7,1643.5 1040.4,1630.1 1041.2,1643.5 1041.9,1630.1 1042.6,1630.1 1043.4,1630.1 1044.1,1630.1 1044.8,1630.1 1045.6,1630.1 1046.3,1630.1 1047.0,1630.1 1047.8,1630.1 1048.5,1630.1 1049.2,1630.1 1050.0,1630.1 1050.7,1630.1 1051.4,1630.1 1052.2,1630.1 1052.9,1630.1 1053.6,1630.1 1054.4,1630.1 1055.1,1630.1 1055.8,1630.1 1056.5,1630.1 1057.3,1630.1 1058.0,1630.1 1058.7,1630.1 1059.5,1630.1 1060.2,1630.1 1060.9,1630.1 1061.7,1630.1 1062.4,1630.1 1063.1,1630.1 1063.9,1630.1 1064.6,1630.1 1065.3,1630.1 1066.1,1630.1 1066.8,1630.1 1067.5,1630.1 1068.3,1630.1 1069.0,1630.1 1069.7,1630.1 1070.5,1630.1 1071.2,1630.1 1071.9,1630.1 1072.7,1630.1 1073.4,1630.1 1074.1,1630.1 1074.9,1643.5 1075.6,1630.1 1076.3,1643.5 1077.1,1630.1 1077.8,1643.5 1078.5,1643.5 1079.3,1630.1 1080.0,1630.1 1080.7,1630.1 1081.5,1630.1 1082.2,1630.1 1082.9,1630.1 1083.6,1630.1 1084.4,1630.1 1085.1,1630.1 1085.8,1630.1 1086.6,1630.1 1087.3,1630.1 1088.0,1630.1 1088.8,1630.1 1089.5,1630.1 1090.2,1630.1 1091.0,1630.1 1091.7,1630.1 1092.4,1643.5 1093.2,1630.1 1093.9,1643.5 1094.6,1630.1 1095.4,1643.5 1096.1,1630.1 1096.8,1630.1 1097.6,1630.1 1098.3,1630.1 1099.0,1630.1 1099.8,1630.1 1100.5,1630.1 1101.2,1630.1 1102.0,1630.1 1102.7,1630.1 1103.4,1630.1 1104.2,1630.1 1104.9,1616.7 1105.6,1630.1 1106.4,1630.1 1107.1,1630.1 1107.8,1630.1 1108.5,1630.1 1109.3,1630.1 1110.0,1630.1 1110.7,1630.1 1111.5,1630.1 1112.2,1630.1 1112.9,1630.1 1113.7,1630.1 1114.4,1630.1 1115.1,1630.1 1115.9,1630.1 1116.6,1630.1 1117.3,1630.1 1118.1,1630.1 1118.8,1630.1 1119.5,1630.1 1120.3,1630.1 1121.0,1630.1 1121.7,1630.1 1122.5,1630.1 1123.2,1630.1 1123.9,1630.1 1124.7,1630.1 1125.4,1630.1 1126.1,1630.1 1126.9,1630.1 1127.6,1616.7 1128.3,1630.1 1129.1,1630.1 1129.8,1630.1 1130.5,1630.1 1131.3,1630.1 1132.0,1630.1 1132.7,1630.1 1133.5,1630.1 1134.2,1630.1 1134.9,1630.1 1135.6,1630.1 1136.4,1630.1 1137.1,1630.1 1137.8,1616.7 1138.6,1616.7 1139.3,1630.1 1140.0,1616.7 1140.8,1630.1 1141.5,1616.7 1142.2,1630.1 1143.0,1616.7 1143.7,1630.1 1144.4,1616.7 1145.2,1630.1 1145.9,1616.7 1146.6,1630.1 1147.4,1616.7 1148.1,1630.1 1148.8,1616.7 1149.6,1630.1 1150.3,1616.7 1151.0,1630.1 1151.8,1616.7 1152.5,1630.1 1153.2,1616.7 1154.0,1630.1 1154.7,1630.1 1155.4,1630.1 1156.2,1630.1 1156.9,1630.1 1157.6,1630.1 1158.4,1630.1 1159.1,1630.1 1159.8,1630.1 1160.6,1630.1 1161.3,1630.1 1162.0,1630.1 1162.7,1630.1 1163.5,1630.1 1164.2,1630.1 1164.9,1630.1 1165.7,1630.1 1166.4,1630.1 1167.1,1630.1 1167.9,1643.5 1168.6,1643.5 1169.3,1630.1 1170.1,1643.5 1170.8,1630.1 1171.5,1643.5 1172.3,1630.1 1173.0,1643.5 1173.7,1630.1 1174.5,1643.5 1175.2,1630.1 1175.9,1643.5 1176.7,1630.1 1177.4,1643.5 1178.1,1630.1 1178.9,1643.5 1179.6,1630.1 1180.3,1643.5 1181.1,1630.1 1181.8,1643.5 1182.5,1630.1 1183.3,1643.5 1184.0,1630.1 1184.7,1643.5 1185.5,1630.1 1186.2,1616.7 1186.9,1630.1 1187.6,1643.5 1188.4,1630.1 1189.1,1643.5 1189.8,1630.1 1190.6,1643.5 1191.3,1630.1 1192.0,1643.5 1192.8,1630.1 1193.5,1643.5 1194.2,1630.1 1195.0,1643.5 1195.7,1630.1 1196.4,1643.5 1197.2,1630.1 1197.9,1643.5 1198.6,1630.1 1199.4,1643.5 1200.1,1630.1 1200.8,1643.5 1201.6,1630.1 1202.3,1643.5 1203.0,1630.1 1203.8,1643.5 1204.5,1630.1 1205.2,1643.5 1206.0,1630.1 1206.7,1643.5 1207.4,1630.1 1208.2,1643.5 1208.9,1630.1 1209.6,1643.5 1210.4,1630.1 1211.1,1643.5 1211.8,1630.1 1212.6,1643.5 1213.3,1643.5 1214.0,1630.1 1214.7,1630.1 1215.5,1630.1 1216.2,1630.1 1216.9,1630.1 1217.7,1630.1 1218.4,1630.1 1219.1,1630.1 1219.9,1630.1 1220.6,1630.1 1221.3,1630.1 1222.1,1630.1 1222.8,1630.1 1223.5,1630.1 1224.3,1630.1 1225.0,1630.1 1225.7,1630.1 1226.5,1630.1 1227.2,1630.1 1227.9,1630.1 1228.7,1630.1 1229.4,1643.5 1230.1,1643.5 1230.9,1630.1 1231.6,1643.5 1232.3,1630.1 1233.1,1643.5 1233.8,1630.1 1234.5,1643.5 1235.3,1630.1 1236.0,1643.5 1236.7,1643.5 1237.5,1630.1 1238.2,1630.1 1238.9,1630.1 1239.6,1630.1 1240.4,1630.1 1241.1,1630.1 1241.8,1630.1 1242.6,1630.1 1243.3,1630.1 1244.0,1630.1 1244.8,1630.1 1245.5,1630.1 1246.2,1630.1 1247.0,1630.1 1247.7,1630.1 1248.4,1630.1 1249.2,1630.1 1249.9,1630.1 1250.6,1630.1 1251.4,1630.1 1252.1,1630.1 1252.8,1630.1 1253.6,1630.1 1254.3,1630.1 1255.0,1630.1 1255.8,1630.1 1256.5,1630.1 1257.2,1630.1 1258.0,1630.1 1258.7,1630.1 1259.4,1630.1 1260.2,1630.1 1260.9,1630.1 1261.6,1630.1 1262.4,1643.5 1263.1,1630.1 1263.8,1643.5 1264.6,1630.1 1265.3,1643.5 1266.0,1630.1 1266.7,1643.5 1267.5,1630.1 1268.2,1643.5 1268.9,1630.1 1269.7,1643.5 1270.4,1630.1 1271.1,1630.1 1271.9,1630.1 1272.6,1630.1 1273.3,1630.1 1274.1,1630.1 1274.8,1630.1 1275.5,1630.1 1276.3,1630.1 1277.0,1630.1 1277.7,1630.1 1278.5,1630.1 1279.2,1630.1 1279.9,1630.1 1280.7,1630.1 1281.4,1630.1 1282.1,1630.1 1282.9,1630.1 1283.6,1630.1 1284.3,1630.1 1285.1,1630.1 1285.8,1630.1 1286.5,1630.1 1287.3,1630.1 1288.0,1630.1 1288.7,1630.1 1289.5,1630.1 1290.2,1643.5 1290.9,1630.1 1291.6,1630.1 1292.4,1630.1 1293.1,1630.1 1293.8,1630.1 1294.6,1630.1 1295.3,1630.1 1296.0,1630.1 1296.8,1630.1 1297.5,1630.1 1298.2,1630.1 1299.0,1630.1 1299.7,1630.1 1300.4,1630.1 1301.2,1630.1 1301.9,1630.1 1302.6,1630.1 1303.4,1630.1 1304.1,1630.1 1304.8,1630.1 1305.6,1630.1 1306.3,1643.5 1307.0,1630.1 1307.8,1643.5 1308.5,1630.1 1309.2,1643.5 1310.0,1630.1 1310.7,1643.5 1311.4,1630.1 1312.2,1643.5 1312.9,1630.1 1313.6,1643.5 1314.4,1630.1 1315.1,1643.5 1315.8,1630.1 1316.6,1643.5 1317.3,1630.1 1318.0,1643.5 1318.7,1630.1 1319.5,1643.5 1320.2,1630.1 1320.9,1643.5 1321.7,1630.1 1322.4,1643.5 1323.1,1630.1 1323.9,1643.5 1324.6,1630.1 1325.3,1643.5 1326.1,1630.1 1326.8,1643.5 1327.5,1630.1 1328.3,1643.5 1329.0,1630.1 1329.7,1643.5 1330.5,1630.1 1331.2,1643.5 1331.9,1630.1 1332.7,1643.5 1333.4,1630.1 1334.1,1643.5 1334.9,1630.1 1335.6,1643.5 1336.3,1630.1 1337.1,1643.5 1337.8,1630.1 1338.5,1643.5 1339.3,1630.1 1340.0,1643.5 1340.7,1630.1 1341.5,1643.5 1342.2,1630.1 1342.9,1643.5 1343.7,1630.1 1344.4,1643.5 1345.1,1630.1 1345.8,1643.5 1346.6,1630.1 1347.3,1643.5 1348.0,1630.1 1348.8,1643.5 1349.5,1630.1 1350.2,1643.5 1351.0,1630.1 1351.7,1643.5 1352.4,1630.1 1353.2,1643.5 1353.9,1630.1 1354.6,1643.5 1355.4,1630.1 1356.1,1643.5 1356.8,1630.1 1357.6,1643.5 1358.3,1630.1 1359.0,1643.5 1359.8,1630.1 1360.5,1643.5 1361.2,1630.1 1362.0,1643.5 1362.7,1630.1 1363.4,1643.5 1364.2,1630.1 1364.9,1643.5 1365.6,1630.1 1366.4,1643.5 1367.1,1630.1 1367.8,1643.5 1368.6,1630.1 1369.3,1643.5 1370.0,1643.5 1370.7,1630.1 1371.5,1630.1 1372.2,1630.1 1372.9,1630.1 1373.7,1630.1 1374.4,1630.1 1375.1,1630.1 1375.9,1630.1 1376.6,1630.1 1377.3,1630.1 1378.1,1630.1 1378.8,1630.1 1379.5,1630.1 1380.3,1630.1 1381.0,1630.1 1381.7,1630.1 1382.5,1630.1 1383.2,1630.1 1383.9,1630.1 1384.7,1630.1 1385.4,1630.1 1386.1,1630.1 1386.9,1630.1 1387.6,1643.5 1388.3,1630.1 1389.1,1630.1 1389.8,1630.1 1390.5,1630.1 1391.3,1630.1 1392.0,1630.1 1392.7,1630.1 1393.5,1630.1 1394.2,1630.1 1394.9,1630.1 1395.7,1630.1 1396.4,1630.1 1397.1,1630.1 1397.8,1630.1 1398.6,1643.5 1399.3,1630.1 1400.0,1643.5 1400.8,1630.1 1401.5,1643.5 1402.2,1630.1 1403.0,1643.5 1403.7,1630.1 1404.4,1643.5 1405.2,1630.1 1405.9,1643.5 1406.6,1630.1 1407.4,1643.5 1408.1,1630.1 1408.8,1643.5 1409.6,1630.1 1410.3,1643.5 1411.0,1630.1 1411.8,1643.5 1412.5,1630.1 1413.2,1643.5 1414.0,1630.1 1414.7,1643.5 1415.4,1630.1 1416.2,1643.5 1416.9,1630.1 1417.6,1643.5 1418.4,1630.1 1419.1,1643.5 1419.8,1630.1 1420.6,1643.5 1421.3,1630.1 1422.0,1643.5 1422.7,1630.1 1423.5,1643.5 1424.2,1630.1 1424.9,1643.5 1425.7,1630.1 1426.4,1643.5 1427.1,1630.1 1427.9,1643.5 1428.6,1630.1 1429.3,1643.5 1430.1,1630.1 1430.8,1643.5 1431.5,1630.1 1432.3,1643.5 1433.0,1630.1 1433.7,1643.5 1434.5,1630.1 1435.2,1643.5 1435.9,1643.5 1436.7,1630.1 1437.4,1630.1 1438.1,1630.1 1438.9,1630.1 1439.6,1630.1 1440.3,1630.1 1441.1,1630.1 1441.8,1630.1 1442.5,1630.1 1443.3,1630.1 1444.0,1630.1 1444.7,1630.1 1445.5,1630.1 1446.2,1630.1 1446.9,1630.1 1447.7,1630.1 1448.4,1630.1 1449.1,1630.1 1449.8,1630.1 1450.6,1630.1 1451.3,1630.1 1452.0,1630.1 1452.8,1630.1 1453.5,1630.1 1454.2,1643.5 1455.0,1643.5 1455.7,1630.1 1456.4,1630.1 1457.2,1630.1 1457.9,1630.1 1458.6,1630.1 1459.4,1630.1 1460.1,1630.1 1460.8,1630.1 1461.6,1630.1 1462.3,1630.1 1463.0,1630.1 1463.8,1630.1 1464.5,1630.1 1465.2,1630.1 1466.0,1630.1 1466.7,1630.1 1467.4,1630.1 1468.2,1643.5 1468.9,1643.5 1469.6,1630.1 1470.4,1643.5 1471.1,1630.1 1471.8,1643.5 1472.6,1630.1 1473.3,1643.5 1474.0,1630.1 1474.8,1643.5 1475.5,1630.1 1476.2,1643.5 1476.9,1630.1 1477.7,1643.5 1478.4,1630.1 1479.1,1643.5 1479.9,1630.1 1480.6,1643.5 1481.3,1630.1 1482.1,1643.5 1482.8,1630.1 1483.5,1643.5 1484.3,1630.1 1485.0,1643.5 1485.7,1630.1 1486.5,1643.5 1487.2,1630.1 1487.9,1643.5 1488.7,1630.1 1489.4,1643.5 1490.1,1630.1 1490.9,1643.5 1491.6,1630.1 1492.3,1643.5 1493.1,1630.1 1493.8,1643.5 1494.5,1630.1 1495.3,1643.5 1496.0,1630.1 1496.7,1643.5 1497.5,1630.1 1498.2,1643.5 1498.9,1630.1 1499.7,1643.5 1500.4,1630.1 1501.1,1643.5 1501.8,1630.1 1502.6,1643.5 1503.3,1643.5 1504.0,1630.1 1504.8,1630.1 1505.5,1630.1 1506.2,1630.1 1507.0,1630.1 1507.7,1630.1 1508.4,1630.1 1509.2,1630.1 1509.9,1630.1 1510.6,1630.1 1511.4,1630.1 1512.1,1630.1 1512.8,1630.1 1513.6,1630.1 1514.3,1630.1 1515.0,1630.1 1515.8,1630.1 1516.5,1630.1 1517.2,1630.1 1518.0,1643.5 1518.7,1643.5 1519.4,1630.1 1520.2,1643.5 1520.9,1630.1 1521.6,1643.5 1522.4,1630.1 1523.1,1643.5 1523.8,1630.1 1524.6,1643.5 1525.3,1643.5 1526.0,1630.1 1526.8,1630.1 1527.5,1630.1 1528.2,1630.1 1528.9,1630.1 1529.7,1630.1 1530.4,1630.1 1531.1,1630.1 1531.9,1630.1 1532.6,1630.1 1533.3,1630.1 1534.1,1630.1 1534.8,1630.1 1535.5,1630.1 1536.3,1630.1 1537.0,1630.1 1537.7,1643.5 1538.5,1630.1 1539.2,1643.5 1539.9,1630.1 1540.7,1630.1 1541.4,1630.1 1542.1,1630.1 1542.9,1630.1 1543.6,1630.1 1544.3,1630.1 1545.1,1630.1 1545.8,1630.1 1546.5,1630.1 1547.3,1630.1 1548.0,1630.1 1548.7,1630.1 1549.5,1630.1 1550.2,1630.1 1550.9,1630.1 1551.7,1630.1 1552.4,1630.1 1553.1,1630.1 1553.8,1630.1 1554.6,1630.1 1555.3,1630.1 1556.0,1630.1 1556.8,1630.1 1557.5,1630.1 1558.2,1643.5 1559.0,1630.1 1559.7,1643.5 1560.4,1630.1 1561.2,1643.5 1561.9,1630.1 1562.6,1643.5 1563.4,1630.1 1564.1,1643.5 1564.8,1630.1 1565.6,1643.5 1566.3,1643.5 1567.0,1630.1 1567.8,1630.1 1568.5,1630.1 1569.2,1630.1 1570.0,1630.1 1570.7,1630.1 1571.4,1630.1 1572.2,1630.1 1572.9,1630.1 1573.6,1630.1 1574.4,1630.1 1575.1,1630.1 1575.8,1630.1 1576.6,1630.1 1577.3,1630.1 1578.0,1630.1 1578.8,1630.1 1579.5,1630.1 1580.2,1630.1 1580.9,1630.1 1581.7,1630.1 1582.4,1630.1 1583.1,1630.1 1583.9,1630.1 1584.6,1630.1 1585.3,1630.1 1586.1,1630.1 1586.8,1630.1 1587.5,1630.1 1588.3,1630.1 1589.0,1630.1 1589.7,1630.1 1590.5,1630.1 1591.2,1630.1 1591.9,1630.1 1592.7,1630.1 1593.4,1643.5 1594.1,1630.1 1594.9,1643.5 1595.6,1630.1 1596.3,1643.5 1597.1,1616.7 1597.8,1643.5 1598.5,1630.1 1599.3,1643.5 1600.0,1630.1 1600.7,1643.5 1601.5,1630.1 1602.2,1630.1 1602.9,1630.1 1603.7,1630.1 1604.4,1630.1 1605.1,1630.1 1605.8,1630.1 1606.6,1630.1 1607.3,1630.1 1608.0,1630.1 1608.8,1630.1 1609.5,1643.5 1610.2,1630.1 1611.0,1643.5 1611.7,1630.1 1612.4,1643.5 1613.2,1630.1 1613.9,1643.5 1614.6,1630.1 1615.4,1643.5 1616.1,1630.1 1616.8,1643.5 1617.6,1630.1 1618.3,1643.5 1619.0,1630.1 1619.8,1643.5 1620.5,1630.1 1621.2,1643.5 1622.0,1630.1 1622.7,1643.5 1623.4,1630.1 1624.2,1643.5 1624.9,1630.1 1625.6,1643.5 1626.4,1630.1 1627.1,1643.5 1627.8,1630.1 1628.6,1643.5 1629.3,1630.1 1630.0,1643.5 1630.8,1630.1 1631.5,1643.5 1632.2,1630.1 1632.9,1643.5 1633.7,1630.1 1634.4,1643.5 1635.1,1630.1 1635.9,1643.5 1636.6,1630.1 1637.3,1643.5 1638.1,1630.1 1638.8,1643.5 1639.5,1630.1 1640.3,1643.5 1641.0,1630.1 1641.7,1643.5 1642.5,1630.1 1643.2,1643.5 1643.9,1630.1 1644.7,1643.5 1645.4,1643.5 1646.1,1630.1 1646.9,1630.1 1647.6,1630.1 1648.3,1630.1 1649.1,1630.1 1649.8,1630.1 1650.5,1630.1 1651.3,1630.1 1652.0,1630.1 1652.7,1630.1 1653.5,1630.1 1654.2,1630.1 1654.9,1630.1 1655.7,1643.5 1656.4,1643.5 1657.1,1630.1 1657.8,1643.5 1658.6,1630.1 1659.3,1630.1 1660.0,1630.1 1660.8,1630.1 1661.5,1630.1 1662.2,1630.1 1663.0,1630.1 1663.7,1630.1 1664.4,1630.1 1665.2,1630.1 1665.9,1630.1 1666.6,1630.1 1667.4,1630.1 1668.1,1630.1 1668.8,1630.1 1669.6,1630.1 1670.3,1630.1 1671.0,1630.1 1671.8,1630.1 1672.5,1630.1 1673.2,1630.1 1674.0,1630.1 1674.7,1630.1 1675.4,1630.1 1676.2,1630.1 1676.9,1643.5 1677.6,1630.1 1678.4,1630.1 1679.1,1630.1 1679.8,1630.1 1680.6,1630.1 1681.3,1630.1 1682.0,1630.1 1682.8,1630.1 1683.5,1630.1 1684.2,1630.1 1684.9,1630.1 1685.7,1630.1 1686.4,1630.1 1687.1,1630.1 1687.9,1630.1 1688.6,1630.1 1689.3,1630.1 1690.1,1630.1 1690.8,1630.1 1691.5,1630.1 1692.3,1630.1 1693.0,1630.1 1693.7,1630.1 1694.5,1630.1 1695.2,1630.1 1695.9,1630.1 1696.7,1630.1 1697.4,1630.1 1698.1,1630.1 1698.9,1630.1 1699.6,1630.1 1700.3,1630.1 1701.1,1630.1 1701.8,1630.1 1702.5,1630.1 1703.3,1630.1 1704.0,1630.1 1704.7,1630.1 1705.5,1630.1 1706.2,1630.1 1706.9,1630.1 1707.7,1630.1 1708.4,1630.1 1709.1,1630.1 1709.9,1630.1 1710.6,1630.1 1711.3,1630.1 1712.0,1630.1 1712.8,1630.1 1713.5,1643.5 1714.2,1630.1 1715.0,1643.5 1715.7,1630.1 1716.4,1643.5 1717.2,1630.1 1717.9,1643.5 1718.6,1630.1 1719.4,1643.5 1720.1,1630.1 1720.8,1643.5 1721.6,1630.1 1722.3,1643.5 1723.0,1630.1 1723.8,1643.5 1724.5,1630.1 1725.2,1643.5 1726.0,1630.1 1726.7,1643.5 1727.4,1630.1 1728.2,1643.5 1728.9,1630.1 1729.6,1643.5 1730.4,1630.1 1731.1,1630.1 1731.8,1630.1 1732.6,1630.1 1733.3,1630.1 1734.0,1630.1 1734.8,1630.1 1735.5,1630.1 1736.2,1630.1 1736.9,1630.1 1737.7,1630.1 1738.4,1630.1 1739.1,1630.1 1739.9,1630.1 1740.6,1630.1 1741.3,1630.1 1742.1,1630.1 1742.8,1630.1 1743.5,1630.1 1744.3,1630.1 1745.0,1630.1 1745.7,1630.1 1746.5,1630.1 1747.2,1630.1 1747.9,1630.1 1748.7,1630.1 1749.4,1630.1 1750.1,1630.1 1750.9,1630.1 1751.6,1630.1 1752.3,1630.1 1753.1,1630.1 1753.8,1643.5 1754.5,1630.1 1755.3,1630.1 1756.0,1630.1 1756.7,1630.1 1757.5,1630.1 1758.2,1630.1 1758.9,1630.1 1759.7,1630.1 1760.4,1630.1 1761.1,1630.1 1761.9,1630.1 1762.6,1630.1 1763.3,1630.1 1764.0,1630.1 1764.8,1630.1 1765.5,1630.1 1766.2,1630.1 1767.0,1630.1 1767.7,1630.1 1768.4,1630.1 1769.2,1630.1 1769.9,1630.1 1770.6,1630.1 1771.4,1630.1 1772.1,1630.1 1772.8,1630.1 1773.6,1643.5 1774.3,1630.1 1775.0,1630.1 1775.8,1630.1 1776.5,1630.1 1777.2,1630.1 1778.0,1630.1 1778.7,1630.1 1779.4,1630.1 1780.2,1630.1 1780.9,1630.1 1781.6,1630.1 1782.4,1630.1 1783.1,1630.1 1783.8,1630.1 1784.6,1630.1 1785.3,1630.1 1786.0,1630.1 1786.8,1630.1 1787.5,1630.1 1788.2,1630.1 1788.9,1630.1 1789.7,1630.1 1790.4,1630.1 1791.1,1630.1 1791.9,1630.1 1792.6,1630.1 1793.3,1630.1 1794.1,1630.1 1794.8,1643.5 1795.5,1643.5 1796.3,1630.1 1797.0,1643.5 1797.7,1630.1 1798.5,1643.5 1799.2,1630.1 1799.9,1643.5 1800.7,1630.1 1801.4,1643.5 1802.1,1630.1 1802.9,1643.5 1803.6,1630.1 1804.3,1643.5 1805.1,1630.1 1805.8,1643.5 1806.5,1630.1 1807.3,1643.5 1808.0,1630.1 1808.7,1643.5 1809.5,1630.1 1810.2,1643.5 1810.9,1630.1 1811.7,1643.5 1812.4,1630.1 1813.1,1643.5 1813.9,1630.1 1814.6,1643.5 1815.3,1630.1 1816.0,1643.5 1816.8,1630.1 1817.5,1643.5 1818.2,1630.1 1819.0,1643.5 1819.7,1643.5 1820.4,1630.1 1821.2,1630.1 1821.9,1630.1 1822.6,1630.1 1823.4,1616.7 1824.1,1630.1 1824.8,1630.1 1825.6,1630.1 1826.3,1630.1 1827.0,1630.1 1827.8,1630.1 1828.5,1630.1 1829.2,1630.1 1830.0,1630.1 1830.7,1630.1 1831.4,1630.1 1832.2,1630.1 1832.9,1630.1 1833.6,1630.1 1834.4,1630.1 1835.1,1630.1 1835.8,1630.1 1836.6,1630.1 1837.3,1616.7 1838.0,1630.1 1838.8,1630.1 1839.5,1630.1 1840.2,1630.1 1841.0,1630.1 1841.7,1630.1 1842.4,1630.1 1843.1,1630.1 1843.9,1630.1 1844.6,1630.1 1845.3,1630.1 1846.1,1643.5 1846.8,1630.1 1847.5,1630.1 1848.3,1630.1 1849.0,1630.1 1849.7,1630.1 1850.5,1630.1 1851.2,1630.1 1851.9,1630.1 1852.7,1630.1 1853.4,1630.1 1854.1,1630.1 1854.9,1630.1 1855.6,1630.1 1856.3,1630.1 1857.1,1630.1 1857.8,1630.1 1858.5,1630.1 1859.3,1630.1 1860.0,1630.1 1860.7,1643.5 1861.5,1643.5 1862.2,1630.1 1862.9,1643.5 1863.7,1630.1 1864.4,1643.5 1865.1,1630.1 1865.9,1643.5 1866.6,1630.1 1867.3,1643.5 1868.0,1643.5 1868.8,1630.1 1869.5,1630.1 1870.2,1630.1 1871.0,1630.1 1871.7,1630.1 1872.4,1630.1 1873.2,1630.1 1873.9,1630.1 1874.6,1630.1 1875.4,1630.1 1876.1,1630.1 1876.8,1630.1 1877.6,1630.1 1878.3,1630.1 1879.0,1630.1 1879.8,1630.1 1880.5,1630.1 1881.2,1630.1 1882.0,1630.1 1882.7,1630.1 1883.4,1630.1 1884.2,1630.1 1884.9,1630.1 1885.6,1630.1 1886.4,1630.1 1887.1,1630.1"/>
<polyline fill="none" stroke="#37AD6B" stroke-width="7.5" stroke-linejoin="round" stroke-linecap="round" points="468.4,1603.3 469.2,1589.9 469.9,1603.3 470.6,1589.9 471.4,1603.3 472.1,1589.9 472.8,1603.3 473.6,1589.9 474.3,1603.3 475.0,1589.9 475.8,1603.3 476.5,1589.9 477.2,1603.3 478.0,1589.9 478.7,1603.3 479.4,1589.9 480.2,1603.3 480.9,1589.9 481.6,1603.3 482.3,1589.9 483.1,1603.3 483.8,1589.9 484.5,1603.3 485.3,1589.9 486.0,1603.3 486.7,1589.9 487.5,1603.3 488.2,1589.9 488.9,1603.3 489.7,1589.9 490.4,1603.3 491.1,1589.9 491.9,1603.3 492.6,1589.9 493.3,1603.3 494.1,1589.9 494.8,1603.3 495.5,1589.9 496.3,1603.3 497.0,1589.9 497.7,1603.3 498.5,1589.9 499.2,1603.3 499.9,1589.9 500.7,1603.3 501.4,1589.9 502.1,1603.3 502.9,1589.9 503.6,1603.3 504.3,1589.9 505.1,1603.3 505.8,1589.9 506.5,1603.3 507.2,1589.9 508.0,1603.3 508.7,1589.9 509.4,1603.3 510.2,1589.9 510.9,1603.3 511.6,1589.9 512.4,1603.3 513.1,1589.9 513.8,1603.3 514.6,1589.9 515.3,1603.3 516.0,1589.9 516.8,1603.3 517.5,1589.9 518.2,1603.3 519.0,1589.9 519.7,1603.3 520.4,1589.9 521.2,1603.3 521.9,1589.9 522.6,1603.3 523.4,1589.9 524.1,1603.3 524.8,1589.9 525.6,1603.3 526.3,1589.9 527.0,1603.3 527.8,1589.9 528.5,1603.3 529.2,1589.9 530.0,1603.3 530.7,1589.9 531.4,1603.3 532.2,1589.9 532.9,1603.3 533.6,1589.9 534.3,1603.3 535.1,1589.9 535.8,1603.3 536.5,1589.9 537.3,1603.3 538.0,1589.9 538.7,1603.3 539.5,1589.9 540.2,1603.3 540.9,1589.9 541.7,1603.3 542.4,1589.9 543.1,1603.3 543.9,1589.9 544.6,1603.3 545.3,1589.9 546.1,1603.3 546.8,1589.9 547.5,1603.3 548.3,1589.9 549.0,1603.3 549.7,1589.9 550.5,1603.3 551.2,1589.9 551.9,1603.3 552.7,1589.9 553.4,1603.3 554.1,1589.9 554.9,1603.3 555.6,1589.9 556.3,1603.3 557.1,1589.9 557.8,1603.3 558.5,1589.9 559.2,1603.3 560.0,1589.9 560.7,1603.3 561.4,1589.9 562.2,1603.3 562.9,1589.9 563.6,1603.3 564.4,1589.9 565.1,1603.3 565.8,1589.9 566.6,1603.3 567.3,1589.9 568.0,1603.3 568.8,1589.9 569.5,1603.3 570.2,1589.9 571.0,1603.3 571.7,1589.9 572.4,1603.3 573.2,1589.9 573.9,1603.3 574.6,1589.9 575.4,1603.3 576.1,1589.9 576.8,1603.3 577.6,1589.9 578.3,1603.3 579.0,1589.9 579.8,1603.3 580.5,1589.9 581.2,1603.3 582.0,1589.9 582.7,1603.3 583.4,1589.9 584.2,1603.3 584.9,1589.9 585.6,1603.3 586.3,1589.9 587.1,1603.3 587.8,1589.9 588.5,1603.3 589.3,1589.9 590.0,1603.3 590.7,1589.9 591.5,1603.3 592.2,1589.9 592.9,1603.3 593.7,1589.9 594.4,1603.3 595.1,1589.9 595.9,1603.3 596.6,1589.9 597.3,1603.3 598.1,1589.9 598.8,1603.3 599.5,1589.9 600.3,1603.3 601.0,1589.9 601.7,1603.3 602.5,1589.9 603.2,1603.3 603.9,1589.9 604.7,1603.3 605.4,1589.9 606.1,1603.3 606.9,1589.9 607.6,1603.3 608.3,1589.9 609.1,1603.3 609.8,1589.9 610.5,1603.3 611.3,1589.9 612.0,1603.3 612.7,1589.9 613.4,1603.3 614.2,1589.9 614.9,1603.3 615.6,1589.9 616.4,1603.3 617.1,1589.9 617.8,1603.3 618.6,1589.9 619.3,1603.3 620.0,1589.9 620.8,1603.3 621.5,1589.9 622.2,1603.3 623.0,1589.9 623.7,1603.3 624.4,1589.9 625.2,1603.3 625.9,1589.9 626.6,1603.3 627.4,1589.9 628.1,1603.3 628.8,1589.9 629.6,1603.3 630.3,1589.9 631.0,1603.3 631.8,1589.9 632.5,1603.3 633.2,1589.9 634.0,1603.3 634.7,1589.9 635.4,1603.3 636.2,1589.9 636.9,1603.3 637.6,1589.9 638.3,1603.3 639.1,1608.6 639.8,1603.3 640.5,1589.9 641.3,1603.3 642.0,1589.9 642.7,1603.3 643.5,1589.9 644.2,1603.3 644.9,1589.9 645.7,1603.3 646.4,1589.9 647.1,1603.3 647.9,1589.9 648.6,1603.3 649.3,1589.9 650.1,1603.3 650.8,1589.9 651.5,1603.3 652.3,1589.9 653.0,1603.3 653.7,1589.9 654.5,1603.3 655.2,1589.9 655.9,1603.3 656.7,1589.9 657.4,1603.3 658.1,1589.9 658.9,1603.3 659.6,1589.9 660.3,1603.3 661.1,1589.9 661.8,1603.3 662.5,1589.9 663.3,1603.3 664.0,1589.9 664.7,1603.3 665.4,1589.9 666.2,1603.3 666.9,1589.9 667.6,1603.3 668.4,1589.9 669.1,1603.3 669.8,1589.9 670.6,1603.3 671.3,1589.9 672.0,1603.3 672.8,1589.9 673.5,1603.3 674.2,1589.9 675.0,1603.3 675.7,1589.9 676.4,1603.3 677.2,1589.9 677.9,1603.3 678.6,1589.9 679.4,1603.3 680.1,1589.9 680.8,1603.3 681.6,1589.9 682.3,1603.3 683.0,1589.9 683.8,1603.3 684.5,1589.9 685.2,1603.3 686.0,1589.9 686.7,1603.3 687.4,1589.9 688.2,1603.3 688.9,1589.9 689.6,1603.3 690.3,1589.9 691.1,1603.3 691.8,1589.9 692.5,1603.3 693.3,1589.9 694.0,1603.3 694.7,1589.9 695.5,1603.3 696.2,1589.9 696.9,1603.3 697.7,1589.9 698.4,1603.3 699.1,1589.9 699.9,1603.3 700.6,1589.9 701.3,1603.3 702.1,1589.9 702.8,1603.3 703.5,1589.9 704.3,1603.3 705.0,1589.9 705.7,1603.3 706.5,1589.9 707.2,1603.3 707.9,1589.9 708.7,1603.3 709.4,1589.9 710.1,1603.3 710.9,1589.9 711.6,1603.3 712.3,1589.9 713.1,1603.3 713.8,1589.9 714.5,1603.3 715.3,1589.9 716.0,1603.3 716.7,1589.9 717.4,1603.3 718.2,1589.9 718.9,1603.3 719.6,1589.9 720.4,1603.3 721.1,1589.9 721.8,1603.3 722.6,1589.9 723.3,1603.3 724.0,1589.9 724.8,1603.3 725.5,1589.9 726.2,1603.3 727.0,1589.9 727.7,1603.3 728.4,1589.9 729.2,1603.3 729.9,1589.9 730.6,1603.3 731.4,1589.9 732.1,1603.3 732.8,1589.9 733.6,1603.3 734.3,1589.9 735.0,1603.3 735.8,1589.9 736.5,1603.3 737.2,1589.9 738.0,1603.3 738.7,1589.9 739.4,1603.3 740.2,1589.9 740.9,1603.3 741.6,1589.9 742.3,1603.3 743.1,1589.9 743.8,1603.3 744.5,1589.9 745.3,1603.3 746.0,1589.9 746.7,1603.3 747.5,1589.9 748.2,1603.3 748.9,1589.9 749.7,1603.3 750.4,1589.9 751.1,1603.3 751.9,1589.9 752.6,1603.3 753.3,1589.9 754.1,1603.3 754.8,1589.9 755.5,1603.3 756.3,1589.9 757.0,1603.3 757.7,1589.9 758.5,1603.3 759.2,1589.9 759.9,1603.3 760.7,1589.9 761.4,1603.3 762.1,1589.9 762.9,1603.3 763.6,1589.9 764.3,1603.3 765.1,1589.9 765.8,1603.3 766.5,1589.9 767.3,1603.3 768.0,1589.9 768.7,1603.3 769.4,1589.9 770.2,1603.3 770.9,1589.9 771.6,1603.3 772.4,1589.9 773.1,1603.3 773.8,1589.9 774.6,1603.3 775.3,1589.9 776.0,1603.3 776.8,1589.9 777.5,1603.3 778.2,1589.9 779.0,1603.3 779.7,1589.9 780.4,1603.3 781.2,1589.9 781.9,1603.3 782.6,1589.9 783.4,1603.3 784.1,1589.9 784.8,1603.3 785.6,1589.9 786.3,1603.3 787.0,1589.9 787.8,1603.3 788.5,1589.9 789.2,1603.3 790.0,1589.9 790.7,1603.3 791.4,1589.9 792.2,1603.3 792.9,1589.9 793.6,1603.3 794.4,1589.9 795.1,1603.3 795.8,1589.9 796.5,1603.3 797.3,1589.9 798.0,1603.3 798.7,1589.9 799.5,1603.3 800.2,1589.9 800.9,1603.3 801.7,1589.9 802.4,1603.3 803.1,1589.9 803.9,1603.3 804.6,1589.9 805.3,1603.3 806.1,1589.9 806.8,1603.3 807.5,1589.9 808.3,1603.3 809.0,1589.9 809.7,1603.3 810.5,1589.9 811.2,1603.3 811.9,1589.9 812.7,1603.3 813.4,1589.9 814.1,1603.3 814.9,1589.9 815.6,1603.3 816.3,1589.9 817.1,1603.3 817.8,1589.9 818.5,1603.3 819.3,1589.9 820.0,1603.3 820.7,1589.9 821.4,1603.3 822.2,1589.9 822.9,1603.3 823.6,1589.9 824.4,1603.3 825.1,1589.9 825.8,1603.3 826.6,1589.9 827.3,1603.3 828.0,1589.9 828.8,1603.3 829.5,1589.9 830.2,1603.3 831.0,1589.9 831.7,1603.3 832.4,1589.9 833.2,1603.3 833.9,1589.9 834.6,1603.3 835.4,1589.9 836.1,1563.0 836.8,1589.9 837.6,1603.3 838.3,1589.9 839.0,1603.3 839.8,1589.9 840.5,1603.3 841.2,1589.9 842.0,1603.3 842.7,1589.9 843.4,1603.3 844.2,1589.9 844.9,1603.3 845.6,1589.9 846.4,1603.3 847.1,1589.9 847.8,1603.3 848.5,1589.9 849.3,1603.3 850.0,1589.9 850.7,1603.3 851.5,1589.9 852.2,1603.3 852.9,1589.9 853.7,1603.3 854.4,1589.9 855.1,1603.3 855.9,1589.9 856.6,1603.3 857.3,1589.9 858.1,1603.3 858.8,1589.9 859.5,1603.3 860.3,1589.9 861.0,1603.3 861.7,1589.9 862.5,1603.3 863.2,1589.9 863.9,1603.3 864.7,1589.9 865.4,1603.3 866.1,1589.9 866.9,1603.3 867.6,1589.9 868.3,1603.3 869.1,1589.9 869.8,1603.3 870.5,1589.9 871.3,1603.3 872.0,1589.9 872.7,1603.3 873.4,1589.9 874.2,1603.3 874.9,1589.9 875.6,1603.3 876.4,1589.9 877.1,1603.3 877.8,1589.9 878.6,1603.3 879.3,1589.9 880.0,1603.3 880.8,1589.9 881.5,1603.3 882.2,1589.9 883.0,1603.3 883.7,1589.9 884.4,1603.3 885.2,1589.9 885.9,1603.3 886.6,1589.9 887.4,1603.3 888.1,1589.9 888.8,1603.3 889.6,1589.9 890.3,1603.3 891.0,1589.9 891.8,1603.3 892.5,1589.9 893.2,1603.3 894.0,1589.9 894.7,1603.3 895.4,1589.9 896.2,1603.3 896.9,1589.9 897.6,1603.3 898.4,1589.9 899.1,1603.3 899.8,1589.9 900.5,1603.3 901.3,1589.9 902.0,1603.3 902.7,1589.9 903.5,1603.3 904.2,1589.9 904.9,1603.3 905.7,1589.9 906.4,1603.3 907.1,1589.9 907.9,1603.3 908.6,1589.9 909.3,1603.3 910.1,1589.9 910.8,1603.3 911.5,1589.9 912.3,1603.3 913.0,1589.9 913.7,1603.3 914.5,1589.9 915.2,1603.3 915.9,1589.9 916.7,1603.3 917.4,1589.9 918.1,1603.3 918.9,1583.1 919.6,1603.3 920.3,1589.9 921.1,1603.3 921.8,1589.9 922.5,1603.3 923.3,1589.9 924.0,1603.3 924.7,1589.9 925.4,1603.3 926.2,1589.9 926.9,1603.3 927.6,1589.9 928.4,1603.3 929.1,1589.9 929.8,1603.3 930.6,1589.9 931.3,1603.3 932.0,1589.9 932.8,1603.3 933.5,1589.9 934.2,1603.3 935.0,1589.9 935.7,1603.3 936.4,1589.9 937.2,1603.3 937.9,1589.9 938.6,1603.3 939.4,1589.9 940.1,1603.3 940.8,1589.9 941.6,1603.3 942.3,1589.9 943.0,1603.3 943.8,1589.9 944.5,1603.3 945.2,1589.9 946.0,1603.3 946.7,1589.9 947.4,1603.3 948.2,1589.9 948.9,1603.3 949.6,1589.9 950.4,1603.3 951.1,1589.9 951.8,1603.3 952.5,1589.9 953.3,1603.3 954.0,1589.9 954.7,1603.3 955.5,1589.9 956.2,1603.3 956.9,1589.9 957.7,1603.3 958.4,1589.9 959.1,1603.3 959.9,1589.9 960.6,1603.3 961.3,1589.9 962.1,1603.3 962.8,1589.9 963.5,1603.3 964.3,1589.9 965.0,1603.3 965.7,1589.9 966.5,1603.3 967.2,1589.9 967.9,1603.3 968.7,1589.9 969.4,1603.3 970.1,1589.9 970.9,1603.3 971.6,1589.9 972.3,1603.3 973.1,1589.9 973.8,1603.3 974.5,1589.9 975.3,1603.3 976.0,1589.9 976.7,1603.3 977.5,1589.9 978.2,1603.3 978.9,1589.9 979.6,1603.3 980.4,1589.9 981.1,1603.3 981.8,1589.9 982.6,1603.3 983.3,1589.9 984.0,1603.3 984.8,1589.9 985.5,1603.3 986.2,1589.9 987.0,1603.3 987.7,1589.9 988.4,1603.3 989.2,1589.9 989.9,1603.3 990.6,1589.9 991.4,1603.3 992.1,1589.9 992.8,1603.3 993.6,1589.9 994.3,1603.3 995.0,1589.9 995.8,1603.3 996.5,1589.9 997.2,1603.3 998.0,1589.9 998.7,1603.3 999.4,1589.9 1000.2,1603.3 1000.9,1589.9 1001.6,1603.3 1002.4,1589.9 1003.1,1603.3 1003.8,1589.9 1004.5,1603.3 1005.3,1589.9 1006.0,1603.3 1006.7,1589.9 1007.5,1603.3 1008.2,1589.9 1008.9,1603.3 1009.7,1589.9 1010.4,1603.3 1011.1,1589.9 1011.9,1603.3 1012.6,1589.9 1013.3,1603.3 1014.1,1589.9 1014.8,1603.3 1015.5,1589.9 1016.3,1603.3 1017.0,1589.9 1017.7,1603.3 1018.5,1589.9 1019.2,1603.3 1019.9,1589.9 1020.7,1603.3 1021.4,1589.9 1022.1,1603.3 1022.9,1589.9 1023.6,1603.3 1024.3,1589.9 1025.1,1603.3 1025.8,1589.9 1026.5,1603.3 1027.3,1589.9 1028.0,1603.3 1028.7,1589.9 1029.5,1603.3 1030.2,1589.9 1030.9,1603.3 1031.6,1589.9 1032.4,1603.3 1033.1,1589.9 1033.8,1603.3 1034.6,1589.9 1035.3,1603.3 1036.0,1589.9 1036.8,1603.3 1037.5,1589.9 1038.2,1603.3 1039.0,1589.9 1039.7,1603.3 1040.4,1589.9 1041.2,1603.3 1041.9,1589.9 1042.6,1603.3 1043.4,1589.9 1044.1,1603.3 1044.8,1589.9 1045.6,1603.3 1046.3,1589.9 1047.0,1603.3 1047.8,1589.9 1048.5,1603.3 1049.2,1589.9 1050.0,1603.3 1050.7,1589.9 1051.4,1603.3 1052.2,1589.9 1052.9,1603.3 1053.6,1589.9 1054.4,1603.3 1055.1,1589.9 1055.8,1603.3 1056.5,1589.9 1057.3,1603.3 1058.0,1589.9 1058.7,1603.3 1059.5,1589.9 1060.2,1603.3 1060.9,1589.9 1061.7,1603.3 1062.4,1589.9 1063.1,1603.3 1063.9,1589.9 1064.6,1603.3 1065.3,1589.9 1066.1,1603.3 1066.8,1589.9 1067.5,1603.3 1068.3,1589.9 1069.0,1603.3 1069.7,1589.9 1070.5,1603.3 1071.2,1589.9 1071.9,1603.3 1072.7,1589.9 1073.4,1603.3 1074.1,1589.9 1074.9,1603.3 1075.6,1589.9 1076.3,1603.3 1077.1,1589.9 1077.8,1603.3 1078.5,1589.9 1079.3,1603.3 1080.0,1589.9 1080.7,1603.3 1081.5,1589.9 1082.2,1603.3 1082.9,1589.9 1083.6,1603.3 1084.4,1589.9 1085.1,1603.3 1085.8,1589.9 1086.6,1603.3 1087.3,1589.9 1088.0,1603.3 1088.8,1589.9 1089.5,1603.3 1090.2,1589.9 1091.0,1603.3 1091.7,1589.9 1092.4,1603.3 1093.2,1589.9 1093.9,1603.3 1094.6,1589.9 1095.4,1603.3 1096.1,1589.9 1096.8,1603.3 1097.6,1589.9 1098.3,1603.3 1099.0,1589.9 1099.8,1603.3 1100.5,1589.9 1101.2,1603.3 1102.0,1589.9 1102.7,1603.3 1103.4,1589.9 1104.2,1603.3 1104.9,1589.9 1105.6,1603.3 1106.4,1589.9 1107.1,1603.3 1107.8,1589.9 1108.5,1603.3 1109.3,1589.9 1110.0,1603.3 1110.7,1589.9 1111.5,1603.3 1112.2,1589.9 1112.9,1603.3 1113.7,1589.9 1114.4,1603.3 1115.1,1589.9 1115.9,1603.3 1116.6,1589.9 1117.3,1603.3 1118.1,1589.9 1118.8,1603.3 1119.5,1589.9 1120.3,1603.3 1121.0,1589.9 1121.7,1603.3 1122.5,1589.9 1123.2,1603.3 1123.9,1589.9 1124.7,1603.3 1125.4,1589.9 1126.1,1603.3 1126.9,1589.9 1127.6,1603.3 1128.3,1589.9 1129.1,1603.3 1129.8,1589.9 1130.5,1603.3 1131.3,1589.9 1132.0,1603.3 1132.7,1589.9 1133.5,1603.3 1134.2,1589.9 1134.9,1603.3 1135.6,1589.9 1136.4,1603.3 1137.1,1589.9 1137.8,1603.3 1138.6,1589.9 1139.3,1603.3 1140.0,1589.9 1140.8,1603.3 1141.5,1589.9 1142.2,1603.3 1143.0,1589.9 1143.7,1603.3 1144.4,1589.9 1145.2,1603.3 1145.9,1589.9 1146.6,1603.3 1147.4,1589.9 1148.1,1603.3 1148.8,1589.9 1149.6,1603.3 1150.3,1589.9 1151.0,1603.3 1151.8,1589.9 1152.5,1603.3 1153.2,1589.9 1154.0,1603.3 1154.7,1589.9 1155.4,1603.3 1156.2,1589.9 1156.9,1603.3 1157.6,1589.9 1158.4,1603.3 1159.1,1589.9 1159.8,1603.3 1160.6,1589.9 1161.3,1603.3 1162.0,1589.9 1162.7,1603.3 1163.5,1589.9 1164.2,1603.3 1164.9,1589.9 1165.7,1603.3 1166.4,1589.9 1167.1,1603.3 1167.9,1589.9 1168.6,1603.3 1169.3,1589.9 1170.1,1603.3 1170.8,1589.9 1171.5,1603.3 1172.3,1589.9 1173.0,1603.3 1173.7,1589.9 1174.5,1603.3 1175.2,1589.9 1175.9,1603.3 1176.7,1589.9 1177.4,1603.3 1178.1,1589.9 1178.9,1603.3 1179.6,1589.9 1180.3,1603.3 1181.1,1589.9 1181.8,1603.3 1182.5,1589.9 1183.3,1603.3 1184.0,1589.9 1184.7,1603.3 1185.5,1589.9 1186.2,1576.4 1186.9,1589.9 1187.6,1603.3 1188.4,1589.9 1189.1,1603.3 1189.8,1589.9 1190.6,1603.3 1191.3,1589.9 1192.0,1603.3 1192.8,1589.9 1193.5,1603.3 1194.2,1589.9 1195.0,1603.3 1195.7,1589.9 1196.4,1603.3 1197.2,1589.9 1197.9,1603.3 1198.6,1589.9 1199.4,1603.3 1200.1,1589.9 1200.8,1603.3 1201.6,1589.9 1202.3,1603.3 1203.0,1589.9 1203.8,1603.3 1204.5,1589.9 1205.2,1603.3 1206.0,1589.9 1206.7,1603.3 1207.4,1589.9 1208.2,1603.3 1208.9,1589.9 1209.6,1603.3 1210.4,1589.9 1211.1,1603.3 1211.8,1589.9 1212.6,1603.3 1213.3,1589.9 1214.0,1603.3 1214.7,1589.9 1215.5,1603.3 1216.2,1589.9 1216.9,1603.3 1217.7,1589.9 1218.4,1603.3 1219.1,1589.9 1219.9,1603.3 1220.6,1589.9 1221.3,1603.3 1222.1,1589.9 1222.8,1603.3 1223.5,1589.9 1224.3,1603.3 1225.0,1589.9 1225.7,1603.3 1226.5,1589.9 1227.2,1603.3 1227.9,1589.9 1228.7,1603.3 1229.4,1589.9 1230.1,1603.3 1230.9,1589.9 1231.6,1603.3 1232.3,1589.9 1233.1,1603.3 1233.8,1589.9 1234.5,1603.3 1235.3,1589.9 1236.0,1603.3 1236.7,1589.9 1237.5,1603.3 1238.2,1589.9 1238.9,1603.3 1239.6,1589.9 1240.4,1603.3 1241.1,1589.9 1241.8,1603.3 1242.6,1589.9 1243.3,1603.3 1244.0,1589.9 1244.8,1603.3 1245.5,1589.9 1246.2,1603.3 1247.0,1589.9 1247.7,1603.3 1248.4,1589.9 1249.2,1603.3 1249.9,1589.9 1250.6,1603.3 1251.4,1589.9 1252.1,1603.3 1252.8,1589.9 1253.6,1603.3 1254.3,1589.9 1255.0,1603.3 1255.8,1581.8 1256.5,1603.3 1257.2,1589.9 1258.0,1603.3 1258.7,1589.9 1259.4,1603.3 1260.2,1589.9 1260.9,1603.3 1261.6,1589.9 1262.4,1603.3 1263.1,1589.9 1263.8,1603.3 1264.6,1589.9 1265.3,1603.3 1266.0,1589.9 1266.7,1603.3 1267.5,1589.9 1268.2,1603.3 1268.9,1589.9 1269.7,1603.3 1270.4,1589.9 1271.1,1603.3 1271.9,1589.9 1272.6,1603.3 1273.3,1589.9 1274.1,1603.3 1274.8,1589.9 1275.5,1603.3 1276.3,1589.9 1277.0,1603.3 1277.7,1589.9 1278.5,1603.3 1279.2,1589.9 1279.9,1603.3 1280.7,1589.9 1281.4,1603.3 1282.1,1589.9 1282.9,1603.3 1283.6,1589.9 1284.3,1603.3 1285.1,1589.9 1285.8,1603.3 1286.5,1589.9 1287.3,1603.3 1288.0,1589.9 1288.7,1603.3 1289.5,1589.9 1290.2,1603.3 1290.9,1589.9 1291.6,1603.3 1292.4,1589.9 1293.1,1603.3 1293.8,1589.9 1294.6,1603.3 1295.3,1589.9 1296.0,1603.3 1296.8,1589.9 1297.5,1603.3 1298.2,1589.9 1299.0,1603.3 1299.7,1589.9 1300.4,1603.3 1301.2,1589.9 1301.9,1603.3 1302.6,1589.9 1303.4,1603.3 1304.1,1589.9 1304.8,1603.3 1305.6,1589.9 1306.3,1603.3 1307.0,1589.9 1307.8,1603.3 1308.5,1589.9 1309.2,1603.3 1310.0,1589.9 1310.7,1603.3 1311.4,1589.9 1312.2,1603.3 1312.9,1589.9 1313.6,1603.3 1314.4,1589.9 1315.1,1603.3 1315.8,1589.9 1316.6,1603.3 1317.3,1589.9 1318.0,1603.3 1318.7,1589.9 1319.5,1603.3 1320.2,1589.9 1320.9,1603.3 1321.7,1589.9 1322.4,1603.3 1323.1,1589.9 1323.9,1603.3 1324.6,1589.9 1325.3,1603.3 1326.1,1589.9 1326.8,1603.3 1327.5,1589.9 1328.3,1603.3 1329.0,1589.9 1329.7,1603.3 1330.5,1589.9 1331.2,1603.3 1331.9,1589.9 1332.7,1603.3 1333.4,1589.9 1334.1,1603.3 1334.9,1589.9 1335.6,1603.3 1336.3,1589.9 1337.1,1603.3 1337.8,1589.9 1338.5,1603.3 1339.3,1589.9 1340.0,1603.3 1340.7,1589.9 1341.5,1603.3 1342.2,1589.9 1342.9,1603.3 1343.7,1589.9 1344.4,1603.3 1345.1,1589.9 1345.8,1603.3 1346.6,1589.9 1347.3,1603.3 1348.0,1589.9 1348.8,1603.3 1349.5,1589.9 1350.2,1603.3 1351.0,1589.9 1351.7,1603.3 1352.4,1589.9 1353.2,1603.3 1353.9,1589.9 1354.6,1603.3 1355.4,1589.9 1356.1,1603.3 1356.8,1589.9 1357.6,1603.3 1358.3,1589.9 1359.0,1603.3 1359.8,1589.9 1360.5,1603.3 1361.2,1589.9 1362.0,1603.3 1362.7,1589.9 1363.4,1603.3 1364.2,1589.9 1364.9,1603.3 1365.6,1589.9 1366.4,1603.3 1367.1,1589.9 1367.8,1603.3 1368.6,1589.9 1369.3,1603.3 1370.0,1589.9 1370.7,1603.3 1371.5,1589.9 1372.2,1603.3 1372.9,1589.9 1373.7,1603.3 1374.4,1589.9 1375.1,1603.3 1375.9,1589.9 1376.6,1603.3 1377.3,1589.9 1378.1,1603.3 1378.8,1589.9 1379.5,1603.3 1380.3,1589.9 1381.0,1603.3 1381.7,1589.9 1382.5,1603.3 1383.2,1589.9 1383.9,1603.3 1384.7,1589.9 1385.4,1603.3 1386.1,1589.9 1386.9,1603.3 1387.6,1589.9 1388.3,1603.3 1389.1,1589.9 1389.8,1603.3 1390.5,1589.9 1391.3,1603.3 1392.0,1589.9 1392.7,1603.3 1393.5,1589.9 1394.2,1603.3 1394.9,1589.9 1395.7,1603.3 1396.4,1589.9 1397.1,1603.3 1397.8,1589.9 1398.6,1603.3 1399.3,1589.9 1400.0,1603.3 1400.8,1589.9 1401.5,1603.3 1402.2,1589.9 1403.0,1603.3 1403.7,1589.9 1404.4,1603.3 1405.2,1589.9 1405.9,1603.3 1406.6,1589.9 1407.4,1603.3 1408.1,1589.9 1408.8,1603.3 1409.6,1589.9 1410.3,1603.3 1411.0,1589.9 1411.8,1603.3 1412.5,1589.9 1413.2,1603.3 1414.0,1589.9 1414.7,1603.3 1415.4,1589.9 1416.2,1603.3 1416.9,1589.9 1417.6,1603.3 1418.4,1589.9 1419.1,1603.3 1419.8,1589.9 1420.6,1603.3 1421.3,1589.9 1422.0,1603.3 1422.7,1589.9 1423.5,1603.3 1424.2,1589.9 1424.9,1603.3 1425.7,1589.9 1426.4,1603.3 1427.1,1589.9 1427.9,1603.3 1428.6,1589.9 1429.3,1603.3 1430.1,1589.9 1430.8,1603.3 1431.5,1589.9 1432.3,1603.3 1433.0,1589.9 1433.7,1603.3 1434.5,1589.9 1435.2,1603.3 1435.9,1589.9 1436.7,1603.3 1437.4,1589.9 1438.1,1603.3 1438.9,1589.9 1439.6,1603.3 1440.3,1589.9 1441.1,1603.3 1441.8,1589.9 1442.5,1603.3 1443.3,1589.9 1444.0,1603.3 1444.7,1589.9 1445.5,1603.3 1446.2,1589.9 1446.9,1603.3 1447.7,1589.9 1448.4,1603.3 1449.1,1589.9 1449.8,1603.3 1450.6,1589.9 1451.3,1603.3 1452.0,1589.9 1452.8,1603.3 1453.5,1589.9 1454.2,1603.3 1455.0,1589.9 1455.7,1603.3 1456.4,1589.9 1457.2,1603.3 1457.9,1589.9 1458.6,1603.3 1459.4,1589.9 1460.1,1603.3 1460.8,1589.9 1461.6,1603.3 1462.3,1589.9 1463.0,1603.3 1463.8,1589.9 1464.5,1603.3 1465.2,1589.9 1466.0,1603.3 1466.7,1589.9 1467.4,1603.3 1468.2,1589.9 1468.9,1603.3 1469.6,1589.9 1470.4,1603.3 1471.1,1589.9 1471.8,1603.3 1472.6,1589.9 1473.3,1603.3 1474.0,1589.9 1474.8,1603.3 1475.5,1589.9 1476.2,1603.3 1476.9,1589.9 1477.7,1603.3 1478.4,1589.9 1479.1,1603.3 1479.9,1589.9 1480.6,1603.3 1481.3,1589.9 1482.1,1603.3 1482.8,1589.9 1483.5,1603.3 1484.3,1589.9 1485.0,1603.3 1485.7,1589.9 1486.5,1603.3 1487.2,1589.9 1487.9,1603.3 1488.7,1589.9 1489.4,1603.3 1490.1,1589.9 1490.9,1603.3 1491.6,1589.9 1492.3,1603.3 1493.1,1589.9 1493.8,1603.3 1494.5,1589.9 1495.3,1603.3 1496.0,1589.9 1496.7,1603.3 1497.5,1589.9 1498.2,1603.3 1498.9,1589.9 1499.7,1603.3 1500.4,1589.9 1501.1,1603.3 1501.8,1589.9 1502.6,1603.3 1503.3,1589.9 1504.0,1603.3 1504.8,1589.9 1505.5,1603.3 1506.2,1589.9 1507.0,1603.3 1507.7,1589.9 1508.4,1603.3 1509.2,1589.9 1509.9,1603.3 1510.6,1589.9 1511.4,1603.3 1512.1,1589.9 1512.8,1603.3 1513.6,1589.9 1514.3,1603.3 1515.0,1589.9 1515.8,1603.3 1516.5,1589.9 1517.2,1603.3 1518.0,1589.9 1518.7,1603.3 1519.4,1589.9 1520.2,1603.3 1520.9,1589.9 1521.6,1603.3 1522.4,1589.9 1523.1,1603.3 1523.8,1589.9 1524.6,1603.3 1525.3,1589.9 1526.0,1603.3 1526.8,1589.9 1527.5,1603.3 1528.2,1589.9 1528.9,1603.3 1529.7,1589.9 1530.4,1603.3 1531.1,1589.9 1531.9,1603.3 1532.6,1589.9 1533.3,1603.3 1534.1,1589.9 1534.8,1603.3 1535.5,1589.9 1536.3,1603.3 1537.0,1589.9 1537.7,1603.3 1538.5,1589.9 1539.2,1603.3 1539.9,1589.9 1540.7,1603.3 1541.4,1589.9 1542.1,1603.3 1542.9,1589.9 1543.6,1603.3 1544.3,1589.9 1545.1,1603.3 1545.8,1589.9 1546.5,1603.3 1547.3,1589.9 1548.0,1603.3 1548.7,1589.9 1549.5,1603.3 1550.2,1589.9 1550.9,1603.3 1551.7,1589.9 1552.4,1603.3 1553.1,1589.9 1553.8,1603.3 1554.6,1589.9 1555.3,1603.3 1556.0,1589.9 1556.8,1603.3 1557.5,1589.9 1558.2,1603.3 1559.0,1589.9 1559.7,1603.3 1560.4,1589.9 1561.2,1603.3 1561.9,1589.9 1562.6,1603.3 1563.4,1589.9 1564.1,1603.3 1564.8,1589.9 1565.6,1603.3 1566.3,1589.9 1567.0,1603.3 1567.8,1589.9 1568.5,1603.3 1569.2,1589.9 1570.0,1603.3 1570.7,1589.9 1571.4,1603.3 1572.2,1589.9 1572.9,1603.3 1573.6,1589.9 1574.4,1603.3 1575.1,1589.9 1575.8,1603.3 1576.6,1589.9 1577.3,1603.3 1578.0,1589.9 1578.8,1603.3 1579.5,1589.9 1580.2,1603.3 1580.9,1589.9 1581.7,1603.3 1582.4,1589.9 1583.1,1603.3 1583.9,1589.9 1584.6,1603.3 1585.3,1589.9 1586.1,1603.3 1586.8,1589.9 1587.5,1603.3 1588.3,1589.9 1589.0,1603.3 1589.7,1589.9 1590.5,1603.3 1591.2,1589.9 1591.9,1603.3 1592.7,1589.9 1593.4,1603.3 1594.1,1589.9 1594.9,1603.3 1595.6,1589.9 1596.3,1603.3 1597.1,1589.9 1597.8,1603.3 1598.5,1589.9 1599.3,1603.3 1600.0,1589.9 1600.7,1603.3 1601.5,1589.9 1602.2,1603.3 1602.9,1589.9 1603.7,1603.3 1604.4,1589.9 1605.1,1603.3 1605.8,1589.9 1606.6,1603.3 1607.3,1589.9 1608.0,1603.3 1608.8,1589.9 1609.5,1603.3 1610.2,1589.9 1611.0,1603.3 1611.7,1589.9 1612.4,1603.3 1613.2,1589.9 1613.9,1603.3 1614.6,1589.9 1615.4,1603.3 1616.1,1589.9 1616.8,1603.3 1617.6,1589.9 1618.3,1603.3 1619.0,1589.9 1619.8,1603.3 1620.5,1589.9 1621.2,1603.3 1622.0,1589.9 1622.7,1603.3 1623.4,1589.9 1624.2,1603.3 1624.9,1589.9 1625.6,1603.3 1626.4,1589.9 1627.1,1603.3 1627.8,1589.9 1628.6,1603.3 1629.3,1589.9 1630.0,1603.3 1630.8,1589.9 1631.5,1603.3 1632.2,1589.9 1632.9,1603.3 1633.7,1589.9 1634.4,1603.3 1635.1,1589.9 1635.9,1603.3 1636.6,1589.9 1637.3,1603.3 1638.1,1589.9 1638.8,1603.3 1639.5,1589.9 1640.3,1603.3 1641.0,1589.9 1641.7,1603.3 1642.5,1589.9 1643.2,1603.3 1643.9,1589.9 1644.7,1603.3 1645.4,1589.9 1646.1,1603.3 1646.9,1589.9 1647.6,1603.3 1648.3,1589.9 1649.1,1603.3 1649.8,1589.9 1650.5,1603.3 1651.3,1589.9 1652.0,1603.3 1652.7,1589.9 1653.5,1603.3 1654.2,1589.9 1654.9,1603.3 1655.7,1589.9 1656.4,1603.3 1657.1,1589.9 1657.8,1603.3 1658.6,1589.9 1659.3,1603.3 1660.0,1589.9 1660.8,1603.3 1661.5,1589.9 1662.2,1603.3 1663.0,1589.9 1663.7,1603.3 1664.4,1589.9 1665.2,1603.3 1665.9,1589.9 1666.6,1603.3 1667.4,1589.9 1668.1,1603.3 1668.8,1589.9 1669.6,1603.3 1670.3,1589.9 1671.0,1603.3 1671.8,1589.9 1672.5,1603.3 1673.2,1589.9 1674.0,1603.3 1674.7,1589.9 1675.4,1603.3 1676.2,1589.9 1676.9,1603.3 1677.6,1589.9 1678.4,1603.3 1679.1,1589.9 1679.8,1603.3 1680.6,1589.9 1681.3,1581.8 1682.0,1589.9 1682.8,1603.3 1683.5,1589.9 1684.2,1603.3 1684.9,1589.9 1685.7,1603.3 1686.4,1589.9 1687.1,1603.3 1687.9,1589.9 1688.6,1603.3 1689.3,1589.9 1690.1,1603.3 1690.8,1589.9 1691.5,1603.3 1692.3,1589.9 1693.0,1603.3 1693.7,1589.9 1694.5,1603.3 1695.2,1589.9 1695.9,1603.3 1696.7,1589.9 1697.4,1603.3 1698.1,1589.9 1698.9,1603.3 1699.6,1589.9 1700.3,1603.3 1701.1,1589.9 1701.8,1603.3 1702.5,1589.9 1703.3,1603.3 1704.0,1589.9 1704.7,1603.3 1705.5,1589.9 1706.2,1603.3 1706.9,1589.9 1707.7,1603.3 1708.4,1589.9 1709.1,1603.3 1709.9,1589.9 1710.6,1603.3 1711.3,1589.9 1712.0,1603.3 1712.8,1589.9 1713.5,1603.3 1714.2,1589.9 1715.0,1603.3 1715.7,1589.9 1716.4,1603.3 1717.2,1589.9 1717.9,1581.8 1718.6,1589.9 1719.4,1603.3 1720.1,1589.9 1720.8,1603.3 1721.6,1589.9 1722.3,1603.3 1723.0,1589.9 1723.8,1603.3 1724.5,1589.9 1725.2,1603.3 1726.0,1589.9 1726.7,1603.3 1727.4,1589.9 1728.2,1603.3 1728.9,1589.9 1729.6,1603.3 1730.4,1589.9 1731.1,1603.3 1731.8,1589.9 1732.6,1603.3 1733.3,1589.9 1734.0,1603.3 1734.8,1589.9 1735.5,1603.3 1736.2,1589.9 1736.9,1603.3 1737.7,1589.9 1738.4,1603.3 1739.1,1589.9 1739.9,1603.3 1740.6,1589.9 1741.3,1603.3 1742.1,1589.9 1742.8,1603.3 1743.5,1589.9 1744.3,1603.3 1745.0,1589.9 1745.7,1603.3 1746.5,1589.9 1747.2,1603.3 1747.9,1589.9 1748.7,1603.3 1749.4,1589.9 1750.1,1603.3 1750.9,1589.9 1751.6,1603.3 1752.3,1589.9 1753.1,1603.3 1753.8,1589.9 1754.5,1603.3 1755.3,1589.9 1756.0,1603.3 1756.7,1589.9 1757.5,1603.3 1758.2,1589.9 1758.9,1603.3 1759.7,1589.9 1760.4,1603.3 1761.1,1589.9 1761.9,1603.3 1762.6,1589.9 1763.3,1603.3 1764.0,1589.9 1764.8,1603.3 1765.5,1589.9 1766.2,1603.3 1767.0,1589.9 1767.7,1603.3 1768.4,1589.9 1769.2,1603.3 1769.9,1589.9 1770.6,1603.3 1771.4,1589.9 1772.1,1603.3 1772.8,1589.9 1773.6,1603.3 1774.3,1589.9 1775.0,1603.3 1775.8,1589.9 1776.5,1603.3 1777.2,1589.9 1778.0,1603.3 1778.7,1589.9 1779.4,1603.3 1780.2,1589.9 1780.9,1603.3 1781.6,1589.9 1782.4,1603.3 1783.1,1589.9 1783.8,1603.3 1784.6,1589.9 1785.3,1603.3 1786.0,1589.9 1786.8,1603.3 1787.5,1589.9 1788.2,1603.3 1788.9,1589.9 1789.7,1603.3 1790.4,1589.9 1791.1,1603.3 1791.9,1589.9 1792.6,1603.3 1793.3,1589.9 1794.1,1603.3 1794.8,1589.9 1795.5,1603.3 1796.3,1589.9 1797.0,1603.3 1797.7,1589.9 1798.5,1603.3 1799.2,1589.9 1799.9,1603.3 1800.7,1589.9 1801.4,1603.3 1802.1,1589.9 1802.9,1603.3 1803.6,1589.9 1804.3,1603.3 1805.1,1589.9 1805.8,1603.3 1806.5,1589.9 1807.3,1603.3 1808.0,1589.9 1808.7,1603.3 1809.5,1589.9 1810.2,1603.3 1810.9,1589.9 1811.7,1603.3 1812.4,1589.9 1813.1,1603.3 1813.9,1589.9 1814.6,1603.3 1815.3,1589.9 1816.0,1603.3 1816.8,1589.9 1817.5,1603.3 1818.2,1589.9 1819.0,1603.3 1819.7,1589.9 1820.4,1603.3 1821.2,1589.9 1821.9,1603.3 1822.6,1589.9 1823.4,1603.3 1824.1,1589.9 1824.8,1603.3 1825.6,1589.9 1826.3,1603.3 1827.0,1589.9 1827.8,1603.3 1828.5,1589.9 1829.2,1603.3 1830.0,1589.9 1830.7,1603.3 1831.4,1589.9 1832.2,1603.3 1832.9,1589.9 1833.6,1603.3 1834.4,1589.9 1835.1,1603.3 1835.8,1589.9 1836.6,1603.3 1837.3,1589.9 1838.0,1603.3 1838.8,1589.9 1839.5,1603.3 1840.2,1589.9 1841.0,1603.3 1841.7,1589.9 1842.4,1603.3 1843.1,1589.9 1843.9,1603.3 1844.6,1589.9 1845.3,1603.3 1846.1,1589.9 1846.8,1603.3 1847.5,1589.9 1848.3,1603.3 1849.0,1589.9 1849.7,1603.3 1850.5,1589.9 1851.2,1603.3 1851.9,1589.9 1852.7,1603.3 1853.4,1589.9 1854.1,1603.3 1854.9,1589.9 1855.6,1603.3 1856.3,1589.9 1857.1,1603.3 1857.8,1589.9 1858.5,1603.3 1859.3,1589.9 1860.0,1603.3 1860.7,1589.9 1861.5,1603.3 1862.2,1589.9 1862.9,1603.3 1863.7,1589.9 1864.4,1603.3 1865.1,1589.9 1865.9,1603.3 1866.6,1589.9 1867.3,1603.3 1868.0,1589.9 1868.8,1603.3 1869.5,1589.9 1870.2,1603.3 1871.0,1589.9 1871.7,1603.3 1872.4,1589.9 1873.2,1603.3 1873.9,1589.9 1874.6,1603.3 1875.4,1589.9 1876.1,1603.3 1876.8,1589.9 1877.6,1603.3 1878.3,1589.9 1879.0,1603.3 1879.8,1589.9 1880.5,1603.3 1881.2,1589.9 1882.0,1603.3 1882.7,1589.9 1883.4,1603.3 1884.2,1589.9 1884.9,1603.3 1885.6,1589.9 1886.4,1603.3 1887.1,1589.9"/>
<polyline fill="none" stroke="#B177DE" stroke-width="7.5" stroke-linejoin="round" stroke-linecap="round" points="468.4,1563.0 469.2,1549.6 469.9,1563.0 470.6,1549.6 471.4,1563.0 472.1,1522.8 472.8,1563.0 473.6,1522.8 474.3,1509.4 475.0,1509.4 475.8,1563.0 476.5,1509.4 477.2,1563.0 478.0,1509.4 478.7,1563.0 479.4,1509.4 480.2,1563.0 480.9,1509.4 481.6,1563.0 482.3,1509.4 483.1,1563.0 483.8,1509.4 484.5,1522.8 485.3,1496.0 486.0,1496.0 486.7,1469.2 487.5,1496.0 488.2,1428.9 488.9,1496.0 489.7,1428.9 490.4,1496.0 491.1,1402.1 491.9,1496.0 492.6,1402.1 493.3,1496.0 494.1,1402.1 494.8,1496.0 495.5,1496.0 496.3,1489.3 497.0,1375.3 497.7,1489.3 498.5,1489.3 499.2,1482.6 499.9,1388.7 500.7,1482.6 501.4,1388.7 502.1,1388.7 502.9,1415.5 503.6,1482.6 504.3,1415.5 505.1,1482.6 505.8,1415.5 506.5,1482.6 507.2,1428.9 508.0,1482.6 508.7,1428.9 509.4,1482.6 510.2,1428.9 510.9,1482.6 511.6,1428.9 512.4,1482.6 513.1,1428.9 513.8,1482.6 514.6,1428.9 515.3,1482.6 516.0,1428.9 516.8,1482.6 517.5,1428.9 518.2,1402.1 519.0,1402.1 519.7,1482.6 520.4,1402.1 521.2,1482.6 521.9,1402.1 522.6,1482.6 523.4,1382.0 524.1,1482.6 524.8,1402.1 525.6,1482.6 526.3,1402.1 527.0,1482.6 527.8,1402.1 528.5,1402.1 529.2,1428.9 530.0,1482.6 530.7,1496.0 531.4,1496.0 532.2,1496.0 532.9,1489.3 533.6,1428.9 534.3,1489.3 535.1,1428.9 535.8,1489.3 536.5,1428.9 537.3,1489.3 538.0,1428.9 538.7,1489.3 539.5,1442.3 540.2,1489.3 540.9,1442.3 541.7,1489.3 542.4,1496.0 543.1,1496.0 543.9,1442.3 544.6,1496.0 545.3,1442.3 546.1,1496.0 546.8,1428.9 547.5,1496.0 548.3,1435.6 549.0,1496.0 549.7,1435.6 550.5,1496.0 551.2,1455.8 551.9,1496.0 552.7,1455.8 553.4,1496.0 554.1,1455.8 554.9,1496.0 555.6,1455.8 556.3,1496.0 557.1,1455.8 557.8,1496.0 558.5,1455.8 559.2,1496.0 560.0,1455.8 560.7,1496.0 561.4,1455.8 562.2,1496.0 562.9,1455.8 563.6,1496.0 564.4,1455.8 565.1,1496.0 565.8,1455.8 566.6,1496.0 567.3,1455.8 568.0,1509.4 568.8,1455.8 569.5,1509.4 570.2,1455.8 571.0,1509.4 571.7,1509.4 572.4,1496.0 573.2,1455.8 573.9,1496.0 574.6,1455.8 575.4,1496.0 576.1,1455.8 576.8,1496.0 577.6,1455.8 578.3,1496.0 579.0,1455.8 579.8,1496.0 580.5,1455.8 581.2,1496.0 582.0,1442.3 582.7,1496.0 583.4,1509.4 584.2,1496.0 584.9,1442.3 585.6,1496.0 586.3,1442.3 587.1,1496.0 587.8,1442.3 588.5,1496.0 589.3,1442.3 590.0,1496.0 590.7,1442.3 591.5,1496.0 592.2,1442.3 592.9,1496.0 593.7,1375.3 594.4,1496.0 595.1,1442.3 595.9,1496.0 596.6,1442.3 597.3,1496.0 598.1,1442.3 598.8,1442.3 599.5,1455.8 600.3,1496.0 601.0,1455.8 601.7,1496.0 602.5,1455.8 603.2,1496.0 603.9,1455.8 604.7,1496.0 605.4,1455.8 606.1,1496.0 606.9,1455.8 607.6,1496.0 608.3,1442.3 609.1,1496.0 609.8,1455.8 610.5,1496.0 611.3,1455.8 612.0,1496.0 612.7,1455.8 613.4,1496.0 614.2,1455.8 614.9,1496.0 615.6,1455.8 616.4,1496.0 617.1,1455.8 617.8,1496.0 618.6,1455.8 619.3,1496.0 620.0,1455.8 620.8,1496.0 621.5,1455.8 622.2,1496.0 623.0,1455.8 623.7,1496.0 624.4,1509.4 625.2,1496.0 625.9,1455.8 626.6,1496.0 627.4,1455.8 628.1,1496.0 628.8,1455.8 629.6,1496.0 630.3,1455.8 631.0,1496.0 631.8,1455.8 632.5,1449.0 633.2,1449.0 634.0,1496.0 634.7,1449.0 635.4,1442.3 636.2,1442.3 636.9,1496.0 637.6,1442.3 638.3,1496.0 639.1,1442.3 639.8,1496.0 640.5,1442.3 641.3,1496.0 642.0,1442.3 642.7,1496.0 643.5,1442.3 644.2,1496.0 644.9,1428.9 645.7,1496.0 646.4,1428.9 647.1,1496.0 647.9,1428.9 648.6,1428.9 649.3,1455.8 650.1,1496.0 650.8,1455.8 651.5,1496.0 652.3,1455.8 653.0,1496.0 653.7,1455.8 654.5,1496.0 655.2,1455.8 655.9,1496.0 656.7,1455.8 657.4,1496.0 658.1,1455.8 658.9,1496.0 659.6,1455.8 660.3,1496.0 661.1,1442.3 661.8,1496.0 662.5,1442.3 663.3,1496.0 664.0,1442.3 664.7,1496.0 665.4,1442.3 666.2,1496.0 666.9,1442.3 667.6,1496.0 668.4,1442.3 669.1,1496.0 669.8,1442.3 670.6,1496.0 671.3,1442.3 672.0,1496.0 672.8,1442.3 673.5,1496.0 674.2,1442.3 675.0,1496.0 675.7,1442.3 676.4,1496.0 677.2,1442.3 677.9,1496.0 678.6,1442.3 679.4,1496.0 680.1,1442.3 680.8,1442.3 681.6,1455.8 682.3,1496.0 683.0,1455.8 683.8,1496.0 684.5,1455.8 685.2,1496.0 686.0,1455.8 686.7,1496.0 687.4,1455.8 688.2,1496.0 688.9,1455.8 689.6,1496.0 690.3,1455.8 691.1,1496.0 691.8,1455.8 692.5,1428.9 693.3,1455.8 694.0,1496.0 694.7,1455.8 695.5,1496.0 696.2,1455.8 696.9,1496.0 697.7,1455.8 698.4,1496.0 699.1,1455.8 699.9,1496.0 700.6,1509.4 701.3,1455.8 702.1,1469.2 702.8,1496.0 703.5,1469.2 704.3,1496.0 705.0,1469.2 705.7,1496.0 706.5,1469.2 707.2,1496.0 707.9,1469.2 708.7,1496.0 709.4,1469.2 710.1,1496.0 710.9,1469.2 711.6,1496.0 712.3,1509.4 713.1,1509.4 713.8,1469.2 714.5,1509.4 715.3,1509.4 716.0,1496.0 716.7,1469.2 717.4,1455.8 718.2,1455.8 718.9,1496.0 719.6,1455.8 720.4,1496.0 721.1,1455.8 721.8,1496.0 722.6,1455.8 723.3,1496.0 724.0,1455.8 724.8,1496.0 725.5,1455.8 726.2,1496.0 727.0,1455.8 727.7,1496.0 728.4,1455.8 729.2,1496.0 729.9,1455.8 730.6,1442.3 731.4,1455.8 732.1,1496.0 732.8,1455.8 733.6,1496.0 734.3,1455.8 735.0,1496.0 735.8,1469.2 736.5,1496.0 737.2,1469.2 738.0,1496.0 738.7,1469.2 739.4,1496.0 740.2,1469.2 740.9,1496.0 741.6,1469.2 742.3,1496.0 743.1,1455.8 743.8,1496.0 744.5,1455.8 745.3,1496.0 746.0,1455.8 746.7,1496.0 747.5,1455.8 748.2,1496.0 748.9,1455.8 749.7,1321.7 750.4,1442.3 751.1,1496.0 751.9,1442.3 752.6,1496.0 753.3,1442.3 754.1,1496.0 754.8,1442.3 755.5,1496.0 756.3,1442.3 757.0,1496.0 757.7,1442.3 758.5,1496.0 759.2,1442.3 759.9,1442.3 760.7,1461.1 761.4,1496.0 762.1,1461.1 762.9,1496.0 763.6,1461.1 764.3,1496.0 765.1,1469.2 765.8,1496.0 766.5,1469.2 767.3,1496.0 768.0,1469.2 768.7,1496.0 769.4,1469.2 770.2,1496.0 770.9,1469.2 771.6,1496.0 772.4,1469.2 773.1,1496.0 773.8,1469.2 774.6,1496.0 775.3,1469.2 776.0,1455.8 776.8,1455.8 777.5,1496.0 778.2,1455.8 779.0,1509.4 779.7,1455.8 780.4,1496.0 781.2,1455.8 781.9,1496.0 782.6,1455.8 783.4,1496.0 784.1,1455.8 784.8,1496.0 785.6,1455.8 786.3,1496.0 787.0,1442.3 787.8,1496.0 788.5,1455.8 789.2,1496.0 790.0,1455.8 790.7,1496.0 791.4,1509.4 792.2,1496.0 792.9,1455.8 793.6,1496.0 794.4,1455.8 795.1,1496.0 795.8,1455.8 796.5,1496.0 797.3,1455.8 798.0,1496.0 798.7,1455.8 799.5,1496.0 800.2,1469.2 800.9,1496.0 801.7,1469.2 802.4,1509.4 803.1,1469.2 803.9,1509.4 804.6,1469.2 805.3,1509.4 806.1,1469.2 806.8,1496.0 807.5,1469.2 808.3,1496.0 809.0,1469.2 809.7,1496.0 810.5,1469.2 811.2,1496.0 811.9,1469.2 812.7,1496.0 813.4,1469.2 814.1,1496.0 814.9,1469.2 815.6,1496.0 816.3,1455.8 817.1,1496.0 817.8,1455.8 818.5,1496.0 819.3,1455.8 820.0,1496.0 820.7,1455.8 821.4,1496.0 822.2,1455.8 822.9,1496.0 823.6,1455.8 824.4,1496.0 825.1,1455.8 825.8,1442.3 826.6,1442.3 827.3,1496.0 828.0,1415.5 828.8,1496.0 829.5,1415.5 830.2,1496.0 831.0,1415.5 831.7,1496.0 832.4,1415.5 833.2,1496.0 833.9,1415.5 834.6,1496.0 835.4,1415.5 836.1,1402.1 836.8,1428.9 837.6,1496.0 838.3,1428.9 839.0,1496.0 839.8,1428.9 840.5,1496.0 841.2,1428.9 842.0,1428.9 842.7,1455.8 843.4,1496.0 844.2,1455.8 844.9,1496.0 845.6,1455.8 846.4,1496.0 847.1,1455.8 847.8,1496.0 848.5,1455.8 849.3,1496.0 850.0,1455.8 850.7,1496.0 851.5,1442.3 852.2,1496.0 852.9,1442.3 853.7,1415.5 854.4,1442.3 855.1,1496.0 855.9,1442.3 856.6,1496.0 857.3,1455.8 858.1,1496.0 858.8,1455.8 859.5,1496.0 860.3,1455.8 861.0,1496.0 861.7,1455.8 862.5,1496.0 863.2,1455.8 863.9,1496.0 864.7,1455.8 865.4,1496.0 866.1,1455.8 866.9,1496.0 867.6,1455.8 868.3,1496.0 869.1,1455.8 869.8,1496.0 870.5,1455.8 871.3,1496.0 872.0,1455.8 872.7,1496.0 873.4,1455.8 874.2,1442.3 874.9,1442.3 875.6,1496.0 876.4,1442.3 877.1,1428.9 877.8,1442.3 878.6,1496.0 879.3,1442.3 880.0,1496.0 880.8,1442.3 881.5,1496.0 882.2,1442.3 883.0,1496.0 883.7,1455.8 884.4,1496.0 885.2,1455.8 885.9,1455.8 886.6,1469.2 887.4,1496.0 888.1,1469.2 888.8,1496.0 889.6,1469.2 890.3,1496.0 891.0,1469.2 891.8,1496.0 892.5,1469.2 893.2,1496.0 894.0,1469.2 894.7,1496.0 895.4,1469.2 896.2,1496.0 896.9,1469.2 897.6,1455.8 898.4,1455.8 899.1,1496.0 899.8,1455.8 900.5,1496.0 901.3,1455.8 902.0,1496.0 902.7,1455.8 903.5,1496.0 904.2,1455.8 904.9,1496.0 905.7,1455.8 906.4,1496.0 907.1,1455.8 907.9,1496.0 908.6,1455.8 909.3,1496.0 910.1,1455.8 910.8,1496.0 911.5,1455.8 912.3,1442.3 913.0,1442.3 913.7,1496.0 914.5,1442.3 915.2,1496.0 915.9,1442.3 916.7,1496.0 917.4,1442.3 918.1,1428.9 918.9,1428.9 919.6,1496.0 920.3,1428.9 921.1,1428.9 921.8,1496.0 922.5,1482.6 923.3,1442.3 924.0,1482.6 924.7,1442.3 925.4,1482.6 926.2,1442.3 926.9,1482.6 927.6,1442.3 928.4,1482.6 929.1,1442.3 929.8,1428.9 930.6,1442.3 931.3,1482.6 932.0,1496.0 932.8,1496.0 933.5,1442.3 934.2,1496.0 935.0,1442.3 935.7,1496.0 936.4,1442.3 937.2,1496.0 937.9,1442.3 938.6,1496.0 939.4,1442.3 940.1,1496.0 940.8,1442.3 941.6,1496.0 942.3,1442.3 943.0,1496.0 943.8,1442.3 944.5,1496.0 945.2,1442.3 946.0,1496.0 946.7,1442.3 947.4,1388.7 948.2,1442.3 948.9,1496.0 949.6,1442.3 950.4,1496.0 951.1,1455.8 951.8,1496.0 952.5,1455.8 953.3,1496.0 954.0,1455.8 954.7,1496.0 955.5,1455.8 956.2,1496.0 956.9,1455.8 957.7,1496.0 958.4,1455.8 959.1,1496.0 959.9,1455.8 960.6,1496.0 961.3,1455.8 962.1,1496.0 962.8,1455.8 963.5,1496.0 964.3,1455.8 965.0,1442.3 965.7,1455.8 966.5,1496.0 967.2,1455.8 967.9,1496.0 968.7,1455.8 969.4,1496.0 970.1,1455.8 970.9,1496.0 971.6,1455.8 972.3,1496.0 973.1,1455.8 973.8,1496.0 974.5,1455.8 975.3,1496.0 976.0,1455.8 976.7,1496.0 977.5,1455.8 978.2,1496.0 978.9,1455.8 979.6,1496.0 980.4,1455.8 981.1,1496.0 981.8,1455.8 982.6,1496.0 983.3,1469.2 984.0,1496.0 984.8,1469.2 985.5,1496.0 986.2,1469.2 987.0,1496.0 987.7,1469.2 988.4,1496.0 989.2,1469.2 989.9,1496.0 990.6,1469.2 991.4,1496.0 992.1,1469.2 992.8,1496.0 993.6,1469.2 994.3,1455.8 995.0,1455.8 995.8,1496.0 996.5,1455.8 997.2,1402.1 998.0,1449.0 998.7,1496.0 999.4,1449.0 1000.2,1496.0 1000.9,1449.0 1001.6,1496.0 1002.4,1449.0 1003.1,1496.0 1003.8,1449.0 1004.5,1482.6 1005.3,1449.0 1006.0,1482.6 1006.7,1449.0 1007.5,1482.6 1008.2,1449.0 1008.9,1482.6 1009.7,1442.3 1010.4,1482.6 1011.1,1442.3 1011.9,1482.6 1012.6,1428.9 1013.3,1482.6 1014.1,1428.9 1014.8,1402.1 1015.5,1442.3 1016.3,1482.6 1017.0,1496.0 1017.7,1496.0 1018.5,1442.3 1019.2,1496.0 1019.9,1442.3 1020.7,1496.0 1021.4,1496.0 1022.1,1482.6 1022.9,1442.3 1023.6,1482.6 1024.3,1442.3 1025.1,1482.6 1025.8,1442.3 1026.5,1482.6 1027.3,1415.5 1028.0,1482.6 1028.7,1415.5 1029.5,1482.6 1030.2,1415.5 1030.9,1482.6 1031.6,1496.0 1032.4,1496.0 1033.1,1402.1 1033.8,1482.6 1034.6,1402.1 1035.3,1361.9 1036.0,1361.9 1036.8,1482.6 1037.5,1361.9 1038.2,1469.2 1039.0,1335.1 1039.7,1469.2 1040.4,1335.1 1041.2,1294.8 1041.9,1294.8 1042.6,1469.2 1043.4,1294.8 1044.1,1268.0 1044.8,1469.2 1045.6,1455.8 1046.3,1308.2 1047.0,1308.2 1047.8,1321.7 1048.5,1455.8 1049.2,1321.7 1050.0,1455.8 1050.7,1321.7 1051.4,1455.8 1052.2,1321.7 1052.9,1455.8 1053.6,1455.8 1054.4,1446.4 1055.1,1321.7 1055.8,1446.4 1056.5,1308.2 1057.3,1446.4 1058.0,1308.2 1058.7,1446.4 1059.5,1294.8 1060.2,1446.4 1060.9,1294.8 1061.7,1446.4 1062.4,1294.8 1063.1,1455.8 1063.9,1294.8 1064.6,1281.4 1065.3,1281.4 1066.1,1455.8 1066.8,1281.4 1067.5,1455.8 1068.3,1281.4 1069.0,1455.8 1069.7,1281.4 1070.5,1455.8 1071.2,1281.4 1071.9,1455.8 1072.7,1281.4 1073.4,1241.2 1074.1,1274.7 1074.9,1455.8 1075.6,1274.7 1076.3,1455.8 1077.1,1274.7 1077.8,1455.8 1078.5,1274.7 1079.3,1455.8 1080.0,1274.7 1080.7,1446.4 1081.5,1274.7 1082.2,1268.0 1082.9,1268.0 1083.6,1446.4 1084.4,1268.0 1085.1,1234.5 1085.8,1268.0 1086.6,1446.4 1087.3,1268.0 1088.0,1268.0 1088.8,1335.1 1089.5,1455.8 1090.2,1335.1 1091.0,1335.1 1091.7,1388.7 1092.4,1482.6 1093.2,1388.7 1093.9,1482.6 1094.6,1402.1 1095.4,1482.6 1096.1,1402.1 1096.8,1402.1 1097.6,1415.5 1098.3,1482.6 1099.0,1415.5 1099.8,1496.0 1100.5,1428.9 1101.2,1496.0 1102.0,1428.9 1102.7,1496.0 1103.4,1428.9 1104.2,1496.0 1104.9,1428.9 1105.6,1496.0 1106.4,1442.3 1107.1,1496.0 1107.8,1442.3 1108.5,1496.0 1109.3,1442.3 1110.0,1496.0 1110.7,1442.3 1111.5,1496.0 1112.2,1442.3 1112.9,1496.0 1113.7,1442.3 1114.4,1496.0 1115.1,1442.3 1115.9,1496.0 1116.6,1428.9 1117.3,1496.0 1118.1,1442.3 1118.8,1496.0 1119.5,1442.3 1120.3,1496.0 1121.0,1442.3 1121.7,1496.0 1122.5,1496.0 1123.2,1482.6 1123.9,1442.3 1124.7,1482.6 1125.4,1442.3 1126.1,1482.6 1126.9,1442.3 1127.6,1482.6 1128.3,1442.3 1129.1,1482.6 1129.8,1442.3 1130.5,1482.6 1131.3,1442.3 1132.0,1482.6 1132.7,1442.3 1133.5,1482.6 1134.2,1442.3 1134.9,1471.8 1135.6,1428.9 1136.4,1471.8 1137.1,1428.9 1137.8,1471.8 1138.6,1422.2 1139.3,1471.8 1140.0,1388.7 1140.8,1471.8 1141.5,1415.5 1142.2,1471.8 1143.0,1482.6 1143.7,1482.6 1144.4,1415.5 1145.2,1482.6 1145.9,1415.5 1146.6,1482.6 1147.4,1442.3 1148.1,1482.6 1148.8,1442.3 1149.6,1482.6 1150.3,1442.3 1151.0,1482.6 1151.8,1442.3 1152.5,1496.0 1153.2,1455.8 1154.0,1522.8 1154.7,1455.8 1155.4,1522.8 1156.2,1455.8 1156.9,1536.2 1157.6,1455.8 1158.4,1536.2 1159.1,1455.8 1159.8,1536.2 1160.6,1455.8 1161.3,1536.2 1162.0,1455.8 1162.7,1536.2 1163.5,1455.8 1164.2,1536.2 1164.9,1455.8 1165.7,1442.3 1166.4,1442.3 1167.1,1536.2 1167.9,1442.3 1168.6,1415.5 1169.3,1536.2 1170.1,1455.8 1170.8,1415.5 1171.5,1455.8 1172.3,1415.5 1173.0,1314.9 1173.7,1227.8 1174.5,1455.8 1175.2,1268.0 1175.9,1455.8 1176.7,1455.8 1177.4,1442.3 1178.1,1268.0 1178.9,1442.3 1179.6,1268.0 1180.3,1442.3 1181.1,1268.0 1181.8,1268.0 1182.5,1308.2 1183.3,1442.3 1184.0,1308.2 1184.7,1442.3 1185.5,1308.2 1186.2,1442.3 1186.9,1308.2 1187.6,1442.3 1188.4,1308.2 1189.1,1442.3 1189.8,1308.2 1190.6,1442.3 1191.3,1294.8 1192.0,1442.3 1192.8,1294.8 1193.5,1442.3 1194.2,1294.8 1195.0,1442.3 1195.7,1294.8 1196.4,1442.3 1197.2,1294.8 1197.9,1281.4 1198.6,1281.4 1199.4,1442.3 1200.1,1281.4 1200.8,1442.3 1201.6,1281.4 1202.3,1428.9 1203.0,1281.4 1203.8,1120.5 1204.5,1120.5 1205.2,1428.9 1206.0,1107.1 1206.7,1428.9 1207.4,1268.0 1208.2,1268.0 1208.9,1294.8 1209.6,1428.9 1210.4,1294.8 1211.1,1455.8 1211.8,1294.8 1212.6,1455.8 1213.3,1328.4 1214.0,1455.8 1214.7,1328.4 1215.5,1455.8 1216.2,1328.4 1216.9,1455.8 1217.7,1328.4 1218.4,1442.3 1219.1,1328.4 1219.9,1442.3 1220.6,1328.4 1221.3,1314.9 1222.1,1314.9 1222.8,1442.3 1223.5,1314.9 1224.3,1442.3 1225.0,1314.9 1225.7,1442.3 1226.5,1308.2 1227.2,1442.3 1227.9,1308.2 1228.7,1442.3 1229.4,1308.2 1230.1,1442.3 1230.9,1308.2 1231.6,1428.9 1232.3,1294.8 1233.1,1428.9 1233.8,1294.8 1234.5,1428.9 1235.3,1294.8 1236.0,1428.9 1236.7,1294.8 1237.5,1281.4 1238.2,1294.8 1238.9,1428.9 1239.6,1294.8 1240.4,1428.9 1241.1,1294.8 1241.8,1428.9 1242.6,1312.3 1243.3,1428.9 1244.0,1312.3 1244.8,1428.9 1245.5,1312.3 1246.2,1428.9 1247.0,1312.3 1247.7,1428.9 1248.4,1442.3 1249.2,1442.3 1249.9,1312.3 1250.6,1308.2 1251.4,1308.2 1252.1,1442.3 1252.8,1308.2 1253.6,1247.9 1254.3,1455.8 1255.0,1227.8 1255.8,1187.6 1256.5,1455.8 1257.2,1348.5 1258.0,1455.8 1258.7,1348.5 1259.4,1455.8 1260.2,1455.8 1260.9,1442.3 1261.6,1348.5 1262.4,1442.3 1263.1,1348.5 1263.8,1442.3 1264.6,1348.5 1265.3,1442.3 1266.0,1348.5 1266.7,1254.6 1267.5,1335.1 1268.2,1442.3 1268.9,1335.1 1269.7,1442.3 1270.4,1335.1 1271.1,1442.3 1271.9,1335.1 1272.6,1442.3 1273.3,1335.1 1274.1,1442.3 1274.8,1335.1 1275.5,1442.3 1276.3,1310.9 1277.0,1442.3 1277.7,1310.9 1278.5,1308.2 1279.2,1308.2 1279.9,1442.3 1280.7,1308.2 1281.4,1442.3 1282.1,1308.2 1282.9,1442.3 1283.6,1308.2 1284.3,1294.8 1285.1,1310.9 1285.8,1442.3 1286.5,1310.9 1287.3,1442.3 1288.0,1310.9 1288.7,1442.3 1289.5,1321.7 1290.2,1321.7 1290.9,1341.8 1291.6,1341.8 1292.4,1348.5 1293.1,1442.3 1293.8,1348.5 1294.6,1442.3 1295.3,1348.5 1296.0,1442.3 1296.8,1348.5 1297.5,1442.3 1298.2,1348.5 1299.0,1442.3 1299.7,1348.5 1300.4,1442.3 1301.2,1351.2 1301.9,1351.2 1302.6,1375.3 1303.4,1455.8 1304.1,1375.3 1304.8,1455.8 1305.6,1375.3 1306.3,1455.8 1307.0,1375.3 1307.8,1469.2 1308.5,1375.3 1309.2,1469.2 1310.0,1469.2 1310.7,1455.8 1311.4,1375.3 1312.2,1455.8 1312.9,1375.3 1313.6,1455.8 1314.4,1321.7 1315.1,1455.8 1315.8,1321.7 1316.6,1308.2 1317.3,1348.5 1318.0,1455.8 1318.7,1348.5 1319.5,1455.8 1320.2,1348.5 1320.9,1455.8 1321.7,1348.5 1322.4,1455.8 1323.1,1375.3 1323.9,1455.8 1324.6,1375.3 1325.3,1455.8 1326.1,1375.3 1326.8,1455.8 1327.5,1375.3 1328.3,1455.8 1329.0,1375.3 1329.7,1455.8 1330.5,1455.8 1331.2,1442.3 1331.9,1361.9 1332.7,1442.3 1333.4,1361.9 1334.1,1442.3 1334.9,1361.9 1335.6,1321.7 1336.3,1321.7 1337.1,1254.6 1337.8,1268.0 1338.5,1442.3 1339.3,1268.0 1340.0,1268.0 1340.7,1288.1 1341.5,1442.3 1342.2,1288.1 1342.9,1294.8 1343.7,1348.5 1344.4,1442.3 1345.1,1348.5 1345.8,1442.3 1346.6,1348.5 1347.3,1455.8 1348.0,1357.9 1348.8,1455.8 1349.5,1357.9 1350.2,1455.8 1351.0,1357.9 1351.7,1455.8 1352.4,1357.9 1353.2,1455.8 1353.9,1357.9 1354.6,1455.8 1355.4,1357.9 1356.1,1455.8 1356.8,1357.9 1357.6,1455.8 1358.3,1348.5 1359.0,1455.8 1359.8,1455.8 1360.5,1435.6 1361.2,1348.5 1362.0,1435.6 1362.7,1348.5 1363.4,1435.6 1364.2,1339.1 1364.9,1435.6 1365.6,1339.1 1366.4,1435.6 1367.1,1339.1 1367.8,1435.6 1368.6,1335.1 1369.3,1435.6 1370.0,1335.1 1370.7,1435.6 1371.5,1335.1 1372.2,1435.6 1372.9,1335.1 1373.7,1455.8 1374.4,1335.1 1375.1,1455.8 1375.9,1294.8 1376.6,1455.8 1377.3,1375.3 1378.1,1455.8 1378.8,1375.3 1379.5,1455.8 1380.3,1375.3 1381.0,1455.8 1381.7,1375.3 1382.5,1455.8 1383.2,1375.3 1383.9,1455.8 1384.7,1469.2 1385.4,1361.9 1386.1,1361.9 1386.9,1455.8 1387.6,1361.9 1388.3,1455.8 1389.1,1361.9 1389.8,1455.8 1390.5,1361.9 1391.3,1348.5 1392.0,1348.5 1392.7,1455.8 1393.5,1348.5 1394.2,1455.8 1394.9,1348.5 1395.7,1455.8 1396.4,1321.7 1397.1,1455.8 1397.8,1348.5 1398.6,1455.8 1399.3,1348.5 1400.0,1455.8 1400.8,1348.5 1401.5,1455.8 1402.2,1348.5 1403.0,1455.8 1403.7,1348.5 1404.4,1455.8 1405.2,1348.5 1405.9,1455.8 1406.6,1348.5 1407.4,1455.8 1408.1,1335.1 1408.8,1455.8 1409.6,1469.2 1410.3,1455.8 1411.0,1361.9 1411.8,1455.8 1412.5,1361.9 1413.2,1361.9 1414.0,1375.3 1414.7,1455.8 1415.4,1375.3 1416.2,1455.8 1416.9,1375.3 1417.6,1455.8 1418.4,1375.3 1419.1,1455.8 1419.8,1375.3 1420.6,1469.2 1421.3,1375.3 1422.0,1455.8 1422.7,1375.3 1423.5,1455.8 1424.2,1455.8 1424.9,1442.3 1425.7,1375.3 1426.4,1442.3 1427.1,1375.3 1427.9,1442.3 1428.6,1361.9 1429.3,1442.3 1430.1,1361.9 1430.8,1361.9 1431.5,1375.3 1432.3,1375.3 1433.0,1402.1 1433.7,1442.3 1434.5,1402.1 1435.2,1455.8 1435.9,1402.1 1436.7,1455.8 1437.4,1402.1 1438.1,1455.8 1438.9,1469.2 1439.6,1469.2 1440.3,1402.1 1441.1,1469.2 1441.8,1469.2 1442.5,1455.8 1443.3,1402.1 1444.0,1455.8 1444.7,1402.1 1445.5,1455.8 1446.2,1402.1 1446.9,1455.8 1447.7,1402.1 1448.4,1455.8 1449.1,1375.3 1449.8,1455.8 1450.6,1375.3 1451.3,1455.8 1452.0,1361.9 1452.8,1455.8 1453.5,1375.3 1454.2,1455.8 1455.0,1388.7 1455.7,1455.8 1456.4,1388.7 1457.2,1455.8 1457.9,1388.7 1458.6,1455.8 1459.4,1388.7 1460.1,1455.8 1460.8,1388.7 1461.6,1455.8 1462.3,1388.7 1463.0,1455.8 1463.8,1388.7 1464.5,1455.8 1465.2,1388.7 1466.0,1455.8 1466.7,1388.7 1467.4,1455.8 1468.2,1388.7 1468.9,1455.8 1469.6,1388.7 1470.4,1455.8 1471.1,1388.7 1471.8,1455.8 1472.6,1388.7 1473.3,1375.3 1474.0,1375.3 1474.8,1455.8 1475.5,1375.3 1476.2,1455.8 1476.9,1375.3 1477.7,1455.8 1478.4,1348.5 1479.1,1455.8 1479.9,1348.5 1480.6,1335.1 1481.3,1375.3 1482.1,1469.2 1482.8,1375.3 1483.5,1375.3 1484.3,1388.7 1485.0,1469.2 1485.7,1388.7 1486.5,1469.2 1487.2,1388.7 1487.9,1469.2 1488.7,1388.7 1489.4,1469.2 1490.1,1388.7 1490.9,1469.2 1491.6,1388.7 1492.3,1469.2 1493.1,1388.7 1493.8,1469.2 1494.5,1455.8 1495.3,1442.3 1496.0,1348.5 1496.7,1442.3 1497.5,1348.5 1498.2,1442.3 1498.9,1348.5 1499.7,1442.3 1500.4,1348.5 1501.1,1442.3 1501.8,1294.8 1502.6,1442.3 1503.3,1375.3 1504.0,1375.3 1504.8,1388.7 1505.5,1442.3 1506.2,1388.7 1507.0,1442.3 1507.7,1388.7 1508.4,1455.8 1509.2,1402.1 1509.9,1469.2 1510.6,1402.1 1511.4,1469.2 1512.1,1402.1 1512.8,1469.2 1513.6,1402.1 1514.3,1469.2 1515.0,1402.1 1515.8,1388.7 1516.5,1415.5 1517.2,1469.2 1518.0,1415.5 1518.7,1469.2 1519.4,1415.5 1520.2,1522.8 1520.9,1415.5 1521.6,1522.8 1522.4,1415.5 1523.1,1522.8 1523.8,1522.8 1524.6,1509.4 1525.3,1281.4 1526.0,1509.4 1526.8,1509.4 1527.5,1496.0 1528.2,1308.2 1528.9,1496.0 1529.7,1308.2 1530.4,1496.0 1531.1,1308.2 1531.9,1496.0 1532.6,1496.0 1533.3,1482.6 1534.1,1308.2 1534.8,1482.6 1535.5,1308.2 1536.3,1482.6 1537.0,1482.6 1537.7,1268.0 1538.5,1268.0 1539.2,1442.3 1539.9,1227.8 1540.7,1442.3 1541.4,1335.1 1542.1,1442.3 1542.9,1335.1 1543.6,1442.3 1544.3,1335.1 1545.1,1442.3 1545.8,1335.1 1546.5,1442.3 1547.3,1335.1 1548.0,1442.3 1548.7,1335.1 1549.5,1294.8 1550.2,1294.8 1550.9,1428.9 1551.7,1281.4 1552.4,1428.9 1553.1,1308.2 1553.8,1428.9 1554.6,1308.2 1555.3,1428.9 1556.0,1321.7 1556.8,1428.9 1557.5,1455.8 1558.2,1442.3 1559.0,1321.7 1559.7,1442.3 1560.4,1321.7 1561.2,1442.3 1561.9,1321.7 1562.6,1442.3 1563.4,1321.7 1564.1,1308.2 1564.8,1308.2 1565.6,1442.3 1566.3,1442.3 1567.0,1428.9 1567.8,1308.2 1568.5,1428.9 1569.2,1268.0 1570.0,1428.9 1570.7,1268.0 1571.4,1422.2 1572.2,1268.0 1572.9,1214.4 1573.6,1214.4 1574.4,1422.2 1575.1,1214.4 1575.8,1133.9 1576.6,1190.2 1577.3,1422.2 1578.0,1190.2 1578.8,1422.2 1579.5,1190.2 1580.2,1422.2 1580.9,1190.2 1581.7,1422.2 1582.4,1442.3 1583.1,1442.3 1583.9,1190.2 1584.6,1428.9 1585.3,1187.6 1586.1,1428.9 1586.8,1187.6 1587.5,1428.9 1588.3,1415.5 1589.0,1402.1 1589.7,1187.6 1590.5,1402.1 1591.2,1187.6 1591.9,1402.1 1592.7,1187.6 1593.4,1402.1 1594.1,1187.6 1594.9,1174.1 1595.6,1133.9 1596.3,1402.1 1597.1,1147.3 1597.8,1402.1 1598.5,1428.9 1599.3,1147.3 1600.0,1214.4 1600.7,1428.9 1601.5,1214.4 1602.2,1214.4 1602.9,1442.3 1603.7,1442.3 1604.4,1241.2 1605.1,1415.5 1605.8,1241.2 1606.6,1415.5 1607.3,1241.2 1608.0,1415.5 1608.8,1241.2 1609.5,1415.5 1610.2,1241.2 1611.0,1415.5 1611.7,1227.8 1612.4,1415.5 1613.2,1227.8 1613.9,1187.6 1614.6,1201.0 1615.4,1415.5 1616.1,1201.0 1616.8,1415.5 1617.6,1201.0 1618.3,1415.5 1619.0,1201.0 1619.8,1428.9 1620.5,1201.0 1621.2,1428.9 1622.0,1201.0 1622.7,1428.9 1623.4,1201.0 1624.2,1428.9 1624.9,1156.7 1625.6,1154.0 1626.4,1482.6 1627.1,1482.6 1627.8,1254.6 1628.6,1428.9 1629.3,1428.9 1630.0,1415.5 1630.8,1254.6 1631.5,1415.5 1632.2,1254.6 1632.9,1415.5 1633.7,1254.6 1634.4,1214.4 1635.1,1214.4 1635.9,1201.0 1636.6,1201.0 1637.3,1066.9 1638.1,1066.9 1638.8,1415.5 1639.5,1053.5 1640.3,1415.5 1641.0,1187.6 1641.7,1415.5 1642.5,1187.6 1643.2,1415.5 1643.9,1428.9 1644.7,1428.9 1645.4,1187.6 1646.1,1428.9 1646.9,1428.9 1647.6,1415.5 1648.3,1160.7 1649.1,1415.5 1649.8,1174.1 1650.5,1415.5 1651.3,1174.1 1652.0,1415.5 1652.7,1214.4 1653.5,1415.5 1654.2,1214.4 1654.9,1415.5 1655.7,1214.4 1656.4,1428.9 1657.1,1428.9 1657.8,1415.5 1658.6,1214.4 1659.3,1415.5 1660.0,1214.4 1660.8,1211.7 1661.5,1211.7 1662.2,1402.1 1663.0,1170.1 1663.7,1402.1 1664.4,1060.2 1665.2,1402.1 1665.9,1060.2 1666.6,1053.5 1667.4,1268.0 1668.1,1402.1 1668.8,1415.5 1669.6,1415.5 1670.3,1268.0 1671.0,1415.5 1671.8,1268.0 1672.5,1415.5 1673.2,1268.0 1674.0,1415.5 1674.7,1268.0 1675.4,1227.8 1676.2,1227.8 1676.9,1415.5 1677.6,1160.7 1678.4,1415.5 1679.1,1201.0 1679.8,1455.8 1680.6,1201.0 1681.3,1415.5 1682.0,1201.0 1682.8,1415.5 1683.5,1201.0 1684.2,1415.5 1684.9,1201.0 1685.7,1415.5 1686.4,1201.0 1687.1,1080.3 1687.9,1080.3 1688.6,1415.5 1689.3,1040.0 1690.1,1120.5 1690.8,1174.1 1691.5,1415.5 1692.3,1428.9 1693.0,1174.1 1693.7,1227.8 1694.5,1227.8 1695.2,1308.2 1695.9,1428.9 1696.7,1308.2 1697.4,1428.9 1698.1,1308.2 1698.9,1428.9 1699.6,1455.8 1700.3,1404.8 1701.1,1308.2 1701.8,1404.8 1702.5,1308.2 1703.3,1404.8 1704.0,1274.7 1704.7,1404.8 1705.5,1241.2 1706.2,1404.8 1706.9,1107.1 1707.7,1404.8 1708.4,1241.2 1709.1,1404.8 1709.9,1428.9 1710.6,1428.9 1711.3,1241.2 1712.0,1455.8 1712.8,1241.2 1713.5,1442.3 1714.2,1241.2 1715.0,1442.3 1715.7,1241.2 1716.4,1415.5 1717.2,1241.2 1717.9,1415.5 1718.6,1241.2 1719.4,1415.5 1720.1,1241.2 1720.8,1415.5 1721.6,1187.6 1722.3,1187.6 1723.0,1227.8 1723.8,1415.5 1724.5,1227.8 1725.2,1415.5 1726.0,1227.8 1726.7,1415.5 1727.4,1227.8 1728.2,1415.5 1728.9,1227.8 1729.6,1415.5 1730.4,1227.8 1731.1,1415.5 1731.8,1201.0 1732.6,1415.5 1733.3,1201.0 1734.0,1415.5 1734.8,1201.0 1735.5,1415.5 1736.2,1201.0 1736.9,1415.5 1737.7,1428.9 1738.4,1428.9 1739.1,1201.0 1739.9,1415.5 1740.6,1201.0 1741.3,1415.5 1742.1,1201.0 1742.8,1125.9 1743.5,1187.6 1744.3,1415.5 1745.0,1187.6 1745.7,1415.5 1746.5,1187.6 1747.2,1415.5 1747.9,1187.6 1748.7,1187.6 1749.4,1201.0 1750.1,1415.5 1750.9,1201.0 1751.6,1415.5 1752.3,1428.9 1753.1,1428.9 1753.8,1201.0 1754.5,1428.9 1755.3,1294.8 1756.0,1428.9 1756.7,1294.8 1757.5,1428.9 1758.2,1455.8 1758.9,1404.8 1759.7,1294.8 1760.4,1404.8 1761.1,1294.8 1761.9,1404.8 1762.6,1294.8 1763.3,1214.4 1764.0,1214.4 1764.8,1388.7 1765.5,1214.4 1766.2,1174.1 1767.0,1174.1 1767.7,1388.7 1768.4,1174.1 1769.2,1093.7 1769.9,1174.1 1770.6,1388.7 1771.4,1174.1 1772.1,1428.9 1772.8,1174.1 1773.6,1174.1 1774.3,1187.6 1775.0,1187.6 1775.8,1254.6 1776.5,1428.9 1777.2,1254.6 1778.0,1428.9 1778.7,1254.6 1779.4,1428.9 1780.2,1254.6 1780.9,1428.9 1781.6,1254.6 1782.4,1428.9 1783.1,1254.6 1783.8,1241.2 1784.6,1241.2 1785.3,1428.9 1786.0,1174.1 1786.8,1428.9 1787.5,1174.1 1788.2,1428.9 1788.9,1428.9 1789.7,1402.1 1790.4,1174.1 1791.1,1402.1 1791.9,1133.9 1792.6,1402.1 1793.3,1160.7 1794.1,1402.1 1794.8,1160.7 1795.5,1402.1 1796.3,1201.0 1797.0,1402.1 1797.7,1201.0 1798.5,1402.1 1799.2,1428.9 1799.9,1415.5 1800.7,1221.1 1801.4,1415.5 1802.1,1221.1 1802.9,1415.5 1803.6,1221.1 1804.3,1415.5 1805.1,1221.1 1805.8,1415.5 1806.5,1221.1 1807.3,1147.3 1808.0,1147.3 1808.7,1415.5 1809.5,1147.3 1810.2,1080.3 1810.9,1187.6 1811.7,1415.5 1812.4,1187.6 1813.1,1415.5 1813.9,1187.6 1814.6,1415.5 1815.3,1187.6 1816.0,1415.5 1816.8,1187.6 1817.5,1415.5 1818.2,1187.6 1819.0,1415.5 1819.7,1187.6 1820.4,1415.5 1821.2,1133.9 1821.9,1415.5 1822.6,1133.9 1823.4,1415.5 1824.1,1133.9 1824.8,1093.7 1825.6,1147.3 1826.3,1415.5 1827.0,1147.3 1827.8,1415.5 1828.5,1147.3 1829.2,1147.3 1830.0,1187.6 1830.7,1415.5 1831.4,1187.6 1832.2,1415.5 1832.9,1187.6 1833.6,1415.5 1834.4,1187.6 1835.1,1415.5 1835.8,1187.6 1836.6,1415.5 1837.3,1187.6 1838.0,1415.5 1838.8,1160.7 1839.5,1415.5 1840.2,1268.0 1841.0,1442.3 1841.7,1268.0 1842.4,1442.3 1843.1,1268.0 1843.9,1442.3 1844.6,1442.3 1845.3,1422.2 1846.1,1268.0 1846.8,1422.2 1847.5,1268.0 1848.3,1254.6 1849.0,1422.2 1849.7,1402.1 1850.5,1107.1 1851.2,1402.1 1851.9,1107.1 1852.7,1402.1 1853.4,1107.1 1854.1,1093.7 1854.9,1120.5 1855.6,1402.1 1856.3,1120.5 1857.1,1402.1 1857.8,1120.5 1858.5,1402.1 1859.3,1120.5 1860.0,1402.1 1860.7,1120.5 1861.5,1120.5 1862.2,1171.5 1862.9,1402.1 1863.7,1171.5 1864.4,1415.5 1865.1,1171.5 1865.9,1402.1 1866.6,1171.5 1867.3,1402.1 1868.0,1171.5 1868.8,1402.1 1869.5,1171.5 1870.2,1402.1 1871.0,1171.5 1871.7,1080.3 1872.4,1174.1 1873.2,1402.1 1873.9,1428.9 1874.6,1428.9 1875.4,1254.6 1876.1,1402.1 1876.8,1254.6 1877.6,1402.1 1878.3,1254.6 1879.0,1402.1 1879.8,1254.6 1880.5,1402.1 1881.2,1254.6 1882.0,1402.1 1882.7,1254.6 1883.4,1201.0 1884.2,1201.0 1884.9,1402.1 1885.6,1201.0 1886.4,1147.3 1887.1,1415.5"/>
</g>
<g stroke="#000" stroke-width="6.0" fill="none" stroke-linecap="butt">
<line x1="281.6" y1="1656.9" x2="2118.6" y2="1656.9"/>
<line x1="284.6" y1="178.8" x2="284.6" y2="1659.9"/>
<line x1="256.1" y1="1656.9" x2="284.6" y2="1656.9"/>
<line x1="269.6" y1="1522.8" x2="284.6" y2="1522.8"/>
<line x1="256.1" y1="1388.7" x2="284.6" y2="1388.7"/>
<line x1="269.6" y1="1254.6" x2="284.6" y2="1254.6"/>
<line x1="256.1" y1="1120.5" x2="284.6" y2="1120.5"/>
<line x1="269.6" y1="986.4" x2="284.6" y2="986.4"/>
<line x1="256.1" y1="852.3" x2="284.6" y2="852.3"/>
<line x1="269.6" y1="718.2" x2="284.6" y2="718.2"/>
<line x1="256.1" y1="584.1" x2="284.6" y2="584.1"/>
<line x1="269.6" y1="450.0" x2="284.6" y2="450.0"/>
<line x1="256.1" y1="315.9" x2="284.6" y2="315.9"/>
<line x1="269.6" y1="181.8" x2="284.6" y2="181.8"/>
<line x1="284.6" y1="1656.9" x2="284.6" y2="1671.9"/>
<line x1="467.7" y1="1656.9" x2="467.7" y2="1685.4"/>
<line x1="650.8" y1="1656.9" x2="650.8" y2="1671.9"/>
<line x1="833.9" y1="1656.9" x2="833.9" y2="1685.4"/>
<line x1="1017.0" y1="1656.9" x2="1017.0" y2="1671.9"/>
<line x1="1200.1" y1="1656.9" x2="1200.1" y2="1685.4"/>
<line x1="1383.2" y1="1656.9" x2="1383.2" y2="1671.9"/>
<line x1="1566.3" y1="1656.9" x2="1566.3" y2="1685.4"/>
<line x1="1749.4" y1="1656.9" x2="1749.4" y2="1671.9"/>
<line x1="1932.5" y1="1656.9" x2="1932.5" y2="1685.4"/>
<line x1="2115.6" y1="1656.9" x2="2115.6" y2="1671.9"/>
</g>
<g class="tk">
<text transform="translate(236 1682.4) scale(0.967 1)" text-anchor="end">0<tspan letter-spacing="16">.</tspan>00</text>
<text transform="translate(236 1414.2) scale(0.967 1)" text-anchor="end">0<tspan letter-spacing="16">.</tspan>02</text>
<text transform="translate(236 1146.0) scale(0.967 1)" text-anchor="end">0<tspan letter-spacing="16">.</tspan>04</text>
<text transform="translate(236 877.8) scale(0.967 1)" text-anchor="end">0<tspan letter-spacing="16">.</tspan>06</text>
<text transform="translate(236 609.6) scale(0.967 1)" text-anchor="end">0<tspan letter-spacing="16">.</tspan>08</text>
<text transform="translate(236 341.4) scale(0.967 1)" text-anchor="end">0<tspan letter-spacing="16">.</tspan>10</text>
<text transform="translate(467.7 1758.5) scale(0.967 1)" text-anchor="middle">0</text>
<text transform="translate(833.9 1758.5) scale(0.967 1)" text-anchor="middle">500</text>
<text transform="translate(1200.1 1758.5) scale(0.967 1)" text-anchor="middle">1000</text>
<text transform="translate(1566.3 1758.5) scale(0.967 1)" text-anchor="middle">1500</text>
<text transform="translate(1932.5 1758.5) scale(0.967 1)" text-anchor="middle">2000</text>
</g>
<text class="ti" x="1201.2" y="1861.2" text-anchor="middle">Frame number</text>
<text class="ti" transform="translate(77.4 919) rotate(-90)" text-anchor="middle">Process time(s)</text>
<g id="legend">
<rect x="1805.7" y="27.8" width="479.3" height="483.8" fill="#fff" stroke="#000" stroke-width="2"/>
<line x1="1816.5" y1="81.4" x2="1989.5" y2="81.4" stroke="#515151" stroke-width="7.5" stroke-linecap="round"/>
<text class="lg" x="2008" y="106.7">AWE</text>
<line x1="1816.5" y1="175.8" x2="1989.5" y2="175.8" stroke="#F14040" stroke-width="7.5" stroke-linecap="round"/>
<text class="lg" x="2008" y="201.1">ATS</text>
<line x1="1816.5" y1="270.2" x2="1989.5" y2="270.2" stroke="#1A6FDF" stroke-width="7.5" stroke-linecap="round"/>
<text class="lg" x="2008" y="295.5">SOtsu</text>
<line x1="1816.5" y1="364.6" x2="1989.5" y2="364.6" stroke="#37AD6B" stroke-width="7.5" stroke-linecap="round"/>
<text class="lg" x="2008" y="389.9">AD</text>
<line x1="1816.5" y1="459.0" x2="1989.5" y2="459.0" stroke="#B177DE" stroke-width="7.5" stroke-linecap="round"/>
<text class="lg" x="2008" y="484.3">AD+WS</text>
</g>
</svg>
</body></html>
